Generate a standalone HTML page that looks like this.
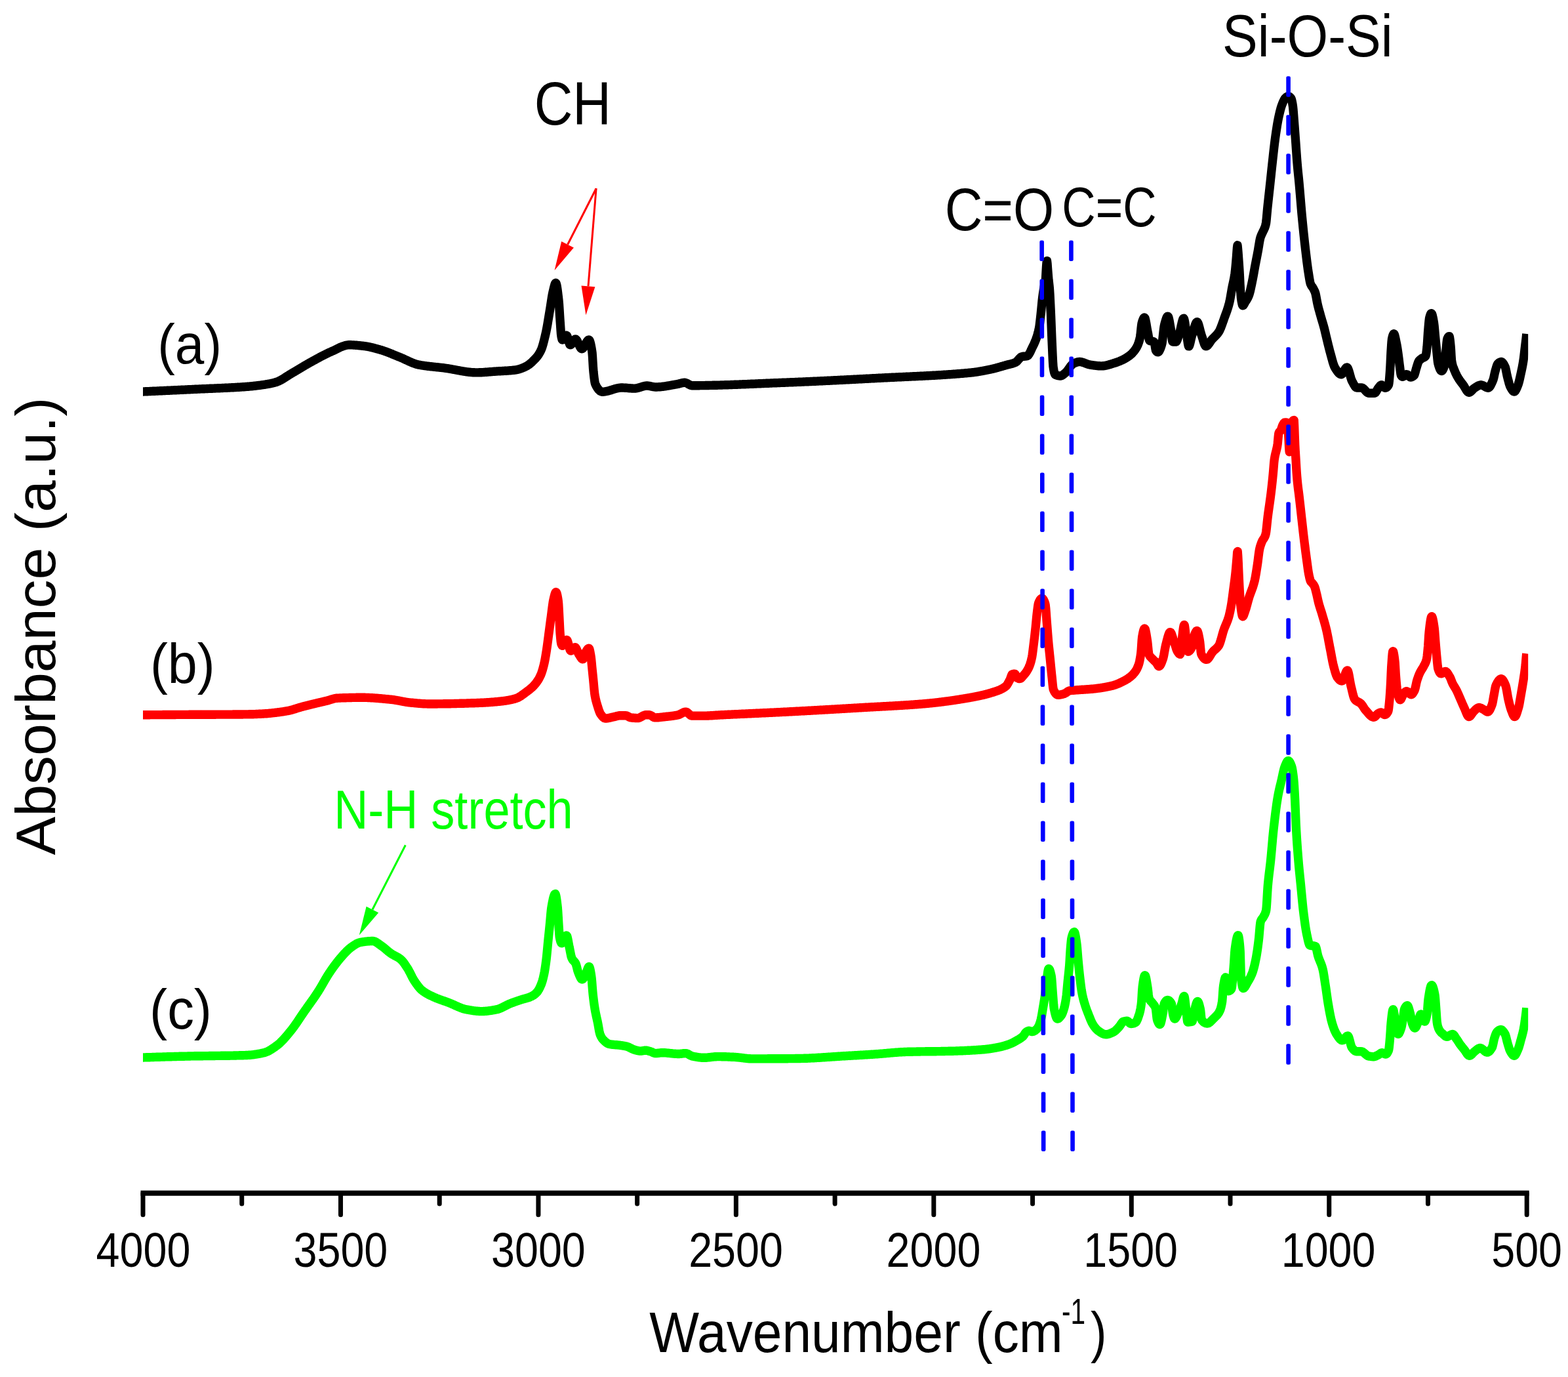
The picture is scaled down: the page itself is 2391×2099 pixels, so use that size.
<!DOCTYPE html>
<html lang="en">
<head>
<meta charset="utf-8">
<title>FTIR spectra</title>
<style>
html,body{margin:0;padding:0;background:#fff;}
body{width:2391px;height:2099px;overflow:hidden;}
</style>
</head>
<body>
<svg width="2391" height="2099" viewBox="0 0 2391 2099" font-family='"Liberation Sans", Arial, Helvetica, sans-serif' style="display:block">
<defs><clipPath id="plot"><rect x="218" y="0" width="2112.2" height="1800"/></clipPath></defs>
<path d="M208.2 1089.7 L218.2 1089.7 L218.7 1089.7 L219.2 1089.7 L219.7 1089.7 L220.2 1089.7 L220.7 1089.7 L221.2 1089.7 L221.7 1089.7 L222.2 1089.7 L222.7 1089.7 L223.2 1089.7 L223.7 1089.7 L224.2 1089.7 L224.7 1089.7 L225.2 1089.7 L225.7 1089.7 L226.2 1089.7 L226.7 1089.7 L227.2 1089.7 L227.7 1089.7 L228.2 1089.7 L228.7 1089.6 L229.2 1089.6 L229.7 1089.6 L230.2 1089.6 L230.7 1089.6 L231.2 1089.6 L231.7 1089.6 L232.2 1089.6 L232.7 1089.6 L233.2 1089.6 L233.7 1089.6 L234.2 1089.6 L234.7 1089.6 L235.2 1089.6 L235.7 1089.6 L236.2 1089.6 L236.7 1089.6 L237.2 1089.6 L237.7 1089.6 L238.2 1089.6 L238.7 1089.6 L239.2 1089.6 L239.7 1089.6 L240.2 1089.6 L240.7 1089.6 L241.2 1089.6 L241.7 1089.6 L242.2 1089.6 L242.7 1089.6 L243.2 1089.6 L243.7 1089.6 L244.2 1089.6 L244.7 1089.6 L245.2 1089.6 L245.7 1089.6 L246.2 1089.6 L246.7 1089.6 L247.2 1089.6 L247.7 1089.6 L248.2 1089.5 L248.7 1089.5 L249.2 1089.5 L249.7 1089.5 L250.2 1089.5 L250.7 1089.5 L251.2 1089.5 L251.7 1089.5 L252.2 1089.5 L252.7 1089.5 L253.2 1089.5 L253.7 1089.5 L254.2 1089.5 L254.7 1089.5 L255.2 1089.5 L255.7 1089.5 L256.2 1089.5 L256.7 1089.5 L257.2 1089.5 L257.7 1089.5 L258.2 1089.5 L258.7 1089.5 L259.2 1089.5 L259.7 1089.5 L260.2 1089.5 L260.7 1089.5 L261.2 1089.5 L261.7 1089.5 L262.2 1089.5 L262.7 1089.5 L263.2 1089.5 L263.7 1089.5 L264.2 1089.5 L264.7 1089.5 L265.2 1089.5 L265.7 1089.5 L266.2 1089.5 L266.7 1089.5 L267.2 1089.5 L267.7 1089.5 L268.2 1089.4 L268.7 1089.4 L269.2 1089.4 L269.7 1089.4 L270.2 1089.4 L270.7 1089.4 L271.2 1089.4 L271.7 1089.4 L272.2 1089.4 L272.7 1089.4 L273.2 1089.4 L273.7 1089.4 L274.2 1089.4 L274.7 1089.4 L275.2 1089.4 L275.7 1089.4 L276.2 1089.4 L276.7 1089.4 L277.2 1089.4 L277.7 1089.4 L278.2 1089.4 L278.7 1089.4 L279.2 1089.4 L279.7 1089.4 L280.2 1089.4 L280.7 1089.4 L281.2 1089.4 L281.7 1089.4 L282.2 1089.4 L282.7 1089.4 L283.2 1089.4 L283.7 1089.4 L284.2 1089.4 L284.7 1089.4 L285.2 1089.4 L285.7 1089.4 L286.2 1089.4 L286.7 1089.4 L287.2 1089.4 L287.7 1089.4 L288.2 1089.3 L288.7 1089.3 L289.2 1089.3 L289.7 1089.3 L290.2 1089.3 L290.7 1089.3 L291.2 1089.3 L291.7 1089.3 L292.2 1089.3 L292.7 1089.3 L293.2 1089.3 L293.7 1089.3 L294.2 1089.3 L294.7 1089.3 L295.2 1089.3 L295.7 1089.3 L296.2 1089.3 L296.7 1089.3 L297.2 1089.3 L297.7 1089.3 L298.2 1089.3 L298.7 1089.3 L299.2 1089.3 L299.7 1089.3 L300.2 1089.3 L300.7 1089.3 L301.2 1089.3 L301.7 1089.3 L302.2 1089.3 L302.7 1089.3 L303.2 1089.3 L303.7 1089.3 L304.2 1089.3 L304.7 1089.3 L305.2 1089.3 L305.7 1089.3 L306.2 1089.3 L306.7 1089.3 L307.2 1089.3 L307.7 1089.2 L308.2 1089.2 L308.7 1089.2 L309.2 1089.2 L309.7 1089.2 L310.2 1089.2 L310.7 1089.2 L311.2 1089.2 L311.7 1089.2 L312.2 1089.2 L312.7 1089.2 L313.2 1089.2 L313.7 1089.2 L314.2 1089.2 L314.7 1089.2 L315.2 1089.2 L315.7 1089.2 L316.2 1089.2 L316.7 1089.2 L317.2 1089.2 L317.7 1089.2 L318.2 1089.2 L318.7 1089.2 L319.2 1089.2 L319.7 1089.2 L320.2 1089.2 L320.7 1089.2 L321.2 1089.2 L321.7 1089.2 L322.2 1089.2 L322.7 1089.2 L323.2 1089.2 L323.7 1089.2 L324.2 1089.2 L324.7 1089.2 L325.2 1089.2 L325.7 1089.2 L326.2 1089.2 L326.7 1089.2 L327.2 1089.2 L327.7 1089.2 L328.2 1089.2 L328.7 1089.2 L329.2 1089.1 L329.7 1089.1 L330.2 1089.1 L330.7 1089.1 L331.2 1089.1 L331.7 1089.1 L332.2 1089.1 L332.7 1089.1 L333.2 1089.1 L333.7 1089.1 L334.2 1089.1 L334.7 1089.1 L335.2 1089.1 L335.7 1089.1 L336.2 1089.1 L336.7 1089.1 L337.2 1089.1 L337.7 1089.1 L338.2 1089.1 L338.7 1089.1 L339.2 1089.1 L339.7 1089.1 L340.2 1089.1 L340.7 1089.1 L341.2 1089.1 L341.7 1089.1 L342.2 1089.1 L342.7 1089.1 L343.2 1089.1 L343.7 1089.1 L344.2 1089.1 L344.7 1089.1 L345.2 1089.1 L345.7 1089.1 L346.2 1089.1 L346.7 1089.1 L347.2 1089.1 L347.7 1089.1 L348.2 1089.1 L348.7 1089.1 L349.2 1089.1 L349.7 1089.1 L350.2 1089.1 L350.7 1089.1 L351.2 1089.1 L351.7 1089.1 L352.2 1089.1 L352.7 1089.1 L353.2 1089.1 L353.7 1089.1 L354.2 1089.1 L354.7 1089.1 L355.2 1089.0 L355.7 1089.0 L356.2 1089.0 L356.7 1089.0 L357.2 1089.0 L357.7 1089.0 L358.2 1089.0 L358.7 1089.0 L359.2 1089.0 L359.7 1089.0 L360.2 1089.0 L360.7 1089.0 L361.2 1089.0 L361.7 1089.0 L362.2 1089.0 L362.7 1089.0 L363.2 1089.0 L363.7 1089.0 L364.2 1089.0 L364.7 1089.0 L365.2 1089.0 L365.7 1089.0 L366.2 1089.0 L366.7 1089.0 L367.2 1089.0 L367.7 1089.0 L368.2 1089.0 L368.7 1089.0 L369.2 1089.0 L369.7 1089.0 L370.2 1089.0 L370.7 1088.9 L371.2 1088.9 L371.7 1088.9 L372.2 1088.9 L372.7 1088.9 L373.2 1088.9 L373.7 1088.9 L374.2 1088.9 L374.7 1088.9 L375.2 1088.9 L375.7 1088.9 L376.2 1088.9 L376.7 1088.9 L377.2 1088.9 L377.7 1088.9 L378.2 1088.9 L378.7 1088.9 L379.2 1088.9 L379.7 1088.8 L380.2 1088.8 L380.7 1088.8 L381.2 1088.8 L381.7 1088.8 L382.2 1088.8 L382.7 1088.8 L383.2 1088.8 L383.7 1088.8 L384.2 1088.7 L384.7 1088.7 L385.2 1088.7 L385.7 1088.7 L386.2 1088.7 L386.7 1088.7 L387.2 1088.6 L387.7 1088.6 L388.2 1088.6 L388.7 1088.6 L389.2 1088.6 L389.7 1088.6 L390.2 1088.5 L390.7 1088.5 L391.2 1088.5 L391.7 1088.5 L392.2 1088.5 L392.7 1088.4 L393.2 1088.4 L393.7 1088.4 L394.2 1088.4 L394.7 1088.3 L395.2 1088.3 L395.7 1088.3 L396.2 1088.3 L396.7 1088.2 L397.2 1088.2 L397.7 1088.2 L398.2 1088.2 L398.7 1088.1 L399.2 1088.1 L399.7 1088.1 L400.2 1088.1 L400.7 1088.0 L401.2 1088.0 L401.7 1088.0 L402.2 1088.0 L402.7 1087.9 L403.2 1087.9 L403.7 1087.9 L404.2 1087.8 L404.7 1087.8 L405.2 1087.8 L405.7 1087.8 L406.2 1087.7 L406.7 1087.7 L407.2 1087.7 L407.7 1087.6 L408.2 1087.6 L408.7 1087.5 L409.2 1087.5 L409.7 1087.4 L410.2 1087.4 L410.7 1087.3 L411.2 1087.3 L411.7 1087.2 L412.2 1087.2 L412.7 1087.1 L413.2 1087.1 L413.7 1087.0 L414.2 1087.0 L414.7 1086.9 L415.2 1086.9 L415.7 1086.8 L416.2 1086.8 L416.7 1086.7 L417.2 1086.6 L417.7 1086.6 L418.2 1086.5 L418.7 1086.5 L419.2 1086.4 L419.7 1086.3 L420.2 1086.3 L420.7 1086.2 L421.2 1086.2 L421.7 1086.1 L422.2 1086.0 L422.7 1086.0 L423.2 1085.9 L423.7 1085.8 L424.2 1085.8 L424.7 1085.7 L425.2 1085.7 L425.7 1085.6 L426.2 1085.5 L426.7 1085.5 L427.2 1085.4 L427.7 1085.3 L428.2 1085.3 L428.7 1085.2 L429.2 1085.1 L429.7 1085.0 L430.2 1085.0 L430.7 1084.9 L431.2 1084.8 L431.7 1084.7 L432.2 1084.7 L432.7 1084.6 L433.2 1084.5 L433.7 1084.4 L434.2 1084.3 L434.7 1084.3 L435.2 1084.2 L435.7 1084.1 L436.2 1084.0 L436.7 1083.9 L437.2 1083.8 L437.7 1083.7 L438.2 1083.6 L438.7 1083.6 L439.2 1083.5 L439.7 1083.4 L440.2 1083.3 L440.7 1083.2 L441.2 1083.0 L441.7 1082.9 L442.2 1082.8 L442.7 1082.7 L443.2 1082.6 L443.7 1082.4 L444.2 1082.3 L444.7 1082.2 L445.2 1082.0 L445.7 1081.9 L446.2 1081.7 L446.7 1081.6 L447.2 1081.4 L447.7 1081.3 L448.2 1081.1 L448.7 1081.0 L449.2 1080.8 L449.7 1080.7 L450.2 1080.5 L450.7 1080.3 L451.2 1080.2 L451.7 1080.0 L452.2 1079.9 L452.7 1079.7 L453.2 1079.5 L453.7 1079.4 L454.2 1079.2 L454.7 1079.1 L455.2 1078.9 L455.7 1078.8 L456.2 1078.6 L456.7 1078.5 L457.2 1078.3 L457.7 1078.2 L458.2 1078.0 L458.7 1077.9 L459.2 1077.7 L459.7 1077.6 L460.2 1077.5 L460.7 1077.3 L461.2 1077.2 L461.7 1077.1 L462.2 1076.9 L462.7 1076.8 L463.2 1076.7 L463.7 1076.6 L464.2 1076.4 L464.7 1076.3 L465.2 1076.2 L465.7 1076.0 L466.2 1075.9 L466.7 1075.8 L467.2 1075.7 L467.7 1075.5 L468.2 1075.4 L468.7 1075.3 L469.2 1075.2 L469.7 1075.0 L470.2 1074.9 L470.7 1074.8 L471.2 1074.7 L471.7 1074.5 L472.2 1074.4 L472.7 1074.3 L473.2 1074.2 L473.7 1074.1 L474.2 1073.9 L474.7 1073.8 L475.2 1073.7 L475.7 1073.6 L476.2 1073.4 L476.7 1073.3 L477.2 1073.2 L477.7 1073.1 L478.2 1073.0 L478.7 1072.8 L479.2 1072.7 L479.7 1072.6 L480.2 1072.5 L480.7 1072.3 L481.2 1072.2 L481.7 1072.1 L482.2 1072.0 L482.7 1071.9 L483.2 1071.8 L483.7 1071.6 L484.2 1071.5 L484.7 1071.4 L485.2 1071.3 L485.7 1071.2 L486.2 1071.1 L486.7 1070.9 L487.2 1070.8 L487.7 1070.7 L488.2 1070.6 L488.7 1070.5 L489.2 1070.4 L489.7 1070.2 L490.2 1070.1 L490.7 1070.0 L491.2 1069.9 L491.7 1069.8 L492.2 1069.7 L492.7 1069.5 L493.2 1069.4 L493.7 1069.3 L494.2 1069.2 L494.7 1069.1 L495.2 1068.9 L495.7 1068.8 L496.2 1068.7 L496.7 1068.6 L497.2 1068.5 L497.7 1068.3 L498.2 1068.2 L498.7 1068.1 L499.2 1068.0 L499.7 1067.8 L500.2 1067.7 L500.7 1067.5 L501.2 1067.4 L501.7 1067.2 L502.2 1067.1 L502.7 1066.9 L503.2 1066.8 L503.7 1066.6 L504.2 1066.4 L504.7 1066.3 L505.2 1066.1 L505.7 1066.0 L506.2 1065.8 L506.7 1065.7 L507.2 1065.5 L507.7 1065.4 L508.2 1065.2 L508.7 1065.1 L509.2 1065.0 L509.7 1064.9 L510.2 1064.7 L510.7 1064.6 L511.2 1064.5 L511.7 1064.5 L512.2 1064.4 L512.7 1064.3 L513.2 1064.3 L513.7 1064.2 L514.2 1064.2 L514.7 1064.2 L515.2 1064.1 L515.7 1064.1 L516.2 1064.1 L516.7 1064.1 L517.2 1064.1 L517.7 1064.0 L518.2 1064.0 L518.7 1064.0 L519.2 1064.0 L519.7 1063.9 L520.2 1063.9 L520.7 1063.9 L521.2 1063.9 L521.7 1063.9 L522.2 1063.9 L522.7 1063.8 L523.2 1063.8 L523.7 1063.8 L524.2 1063.8 L524.7 1063.8 L525.2 1063.7 L525.7 1063.7 L526.2 1063.7 L526.7 1063.7 L527.2 1063.7 L527.7 1063.7 L528.2 1063.6 L528.7 1063.6 L529.2 1063.6 L529.7 1063.6 L530.2 1063.6 L530.7 1063.6 L531.2 1063.6 L531.7 1063.6 L532.2 1063.5 L532.7 1063.5 L533.2 1063.5 L533.7 1063.5 L534.2 1063.5 L534.7 1063.5 L535.2 1063.5 L535.7 1063.5 L536.2 1063.5 L536.7 1063.4 L537.2 1063.4 L537.7 1063.4 L538.2 1063.4 L538.7 1063.4 L539.2 1063.4 L539.7 1063.4 L540.2 1063.4 L540.7 1063.4 L541.2 1063.4 L541.7 1063.4 L542.2 1063.4 L542.7 1063.4 L543.2 1063.3 L543.7 1063.3 L544.2 1063.3 L544.7 1063.3 L545.2 1063.3 L545.7 1063.3 L546.2 1063.3 L546.7 1063.3 L547.2 1063.3 L547.7 1063.3 L548.2 1063.3 L548.7 1063.3 L549.2 1063.3 L549.7 1063.3 L550.2 1063.3 L550.7 1063.3 L551.2 1063.3 L551.7 1063.3 L552.2 1063.3 L552.7 1063.3 L553.2 1063.3 L553.7 1063.3 L554.2 1063.3 L554.7 1063.3 L555.2 1063.3 L555.7 1063.3 L556.2 1063.3 L556.7 1063.3 L557.2 1063.4 L557.7 1063.4 L558.2 1063.4 L558.7 1063.4 L559.2 1063.4 L559.7 1063.4 L560.2 1063.4 L560.7 1063.5 L561.2 1063.5 L561.7 1063.5 L562.2 1063.5 L562.7 1063.5 L563.2 1063.6 L563.7 1063.6 L564.2 1063.6 L564.7 1063.6 L565.2 1063.7 L565.7 1063.7 L566.2 1063.7 L566.7 1063.7 L567.2 1063.8 L567.7 1063.8 L568.2 1063.8 L568.7 1063.9 L569.2 1063.9 L569.7 1063.9 L570.2 1064.0 L570.7 1064.0 L571.2 1064.0 L571.7 1064.1 L572.2 1064.1 L572.7 1064.1 L573.2 1064.2 L573.7 1064.2 L574.2 1064.3 L574.7 1064.3 L575.2 1064.3 L575.7 1064.4 L576.2 1064.4 L576.7 1064.5 L577.2 1064.5 L577.7 1064.5 L578.2 1064.6 L578.7 1064.6 L579.2 1064.7 L579.7 1064.7 L580.2 1064.8 L580.7 1064.8 L581.2 1064.8 L581.7 1064.9 L582.2 1064.9 L582.7 1065.0 L583.2 1065.0 L583.7 1065.1 L584.2 1065.1 L584.7 1065.2 L585.2 1065.2 L585.7 1065.3 L586.2 1065.3 L586.7 1065.4 L587.2 1065.4 L587.7 1065.5 L588.2 1065.5 L588.7 1065.6 L589.2 1065.6 L589.7 1065.6 L590.2 1065.7 L590.7 1065.7 L591.2 1065.8 L591.7 1065.8 L592.2 1065.9 L592.7 1065.9 L593.2 1066.0 L593.7 1066.0 L594.2 1066.1 L594.7 1066.1 L595.2 1066.2 L595.7 1066.2 L596.2 1066.3 L596.7 1066.3 L597.2 1066.4 L597.7 1066.4 L598.2 1066.5 L598.7 1066.6 L599.2 1066.6 L599.7 1066.7 L600.2 1066.8 L600.7 1066.8 L601.2 1066.9 L601.7 1067.0 L602.2 1067.1 L602.7 1067.2 L603.2 1067.2 L603.7 1067.3 L604.2 1067.4 L604.7 1067.5 L605.2 1067.6 L605.7 1067.7 L606.2 1067.8 L606.7 1067.9 L607.2 1067.9 L607.7 1068.0 L608.2 1068.1 L608.7 1068.2 L609.2 1068.3 L609.7 1068.4 L610.2 1068.5 L610.7 1068.6 L611.2 1068.7 L611.7 1068.8 L612.2 1068.9 L612.7 1069.0 L613.2 1069.1 L613.7 1069.2 L614.2 1069.3 L614.7 1069.4 L615.2 1069.5 L615.7 1069.6 L616.2 1069.6 L616.7 1069.7 L617.2 1069.8 L617.7 1069.9 L618.2 1070.0 L618.7 1070.1 L619.2 1070.2 L619.7 1070.2 L620.2 1070.3 L620.7 1070.4 L621.2 1070.5 L621.7 1070.5 L622.2 1070.6 L622.7 1070.7 L623.2 1070.7 L623.7 1070.8 L624.2 1070.9 L624.7 1070.9 L625.2 1071.0 L625.7 1071.0 L626.2 1071.1 L626.7 1071.1 L627.2 1071.2 L627.7 1071.2 L628.2 1071.3 L628.7 1071.3 L629.2 1071.3 L629.7 1071.4 L630.2 1071.4 L630.7 1071.5 L631.2 1071.5 L631.7 1071.6 L632.2 1071.6 L632.7 1071.7 L633.2 1071.7 L633.7 1071.8 L634.2 1071.8 L634.7 1071.9 L635.2 1071.9 L635.7 1072.0 L636.2 1072.0 L636.7 1072.1 L637.2 1072.1 L637.7 1072.1 L638.2 1072.2 L638.7 1072.2 L639.2 1072.3 L639.7 1072.3 L640.2 1072.3 L640.7 1072.4 L641.2 1072.4 L641.7 1072.5 L642.2 1072.5 L642.7 1072.5 L643.2 1072.6 L643.7 1072.6 L644.2 1072.6 L644.7 1072.7 L645.2 1072.7 L645.7 1072.7 L646.2 1072.7 L646.7 1072.8 L647.2 1072.8 L647.7 1072.8 L648.2 1072.8 L648.7 1072.9 L649.2 1072.9 L649.7 1072.9 L650.2 1072.9 L650.7 1072.9 L651.2 1072.9 L651.7 1073.0 L652.2 1073.0 L652.7 1073.0 L653.2 1073.0 L653.7 1073.0 L654.2 1073.0 L654.7 1073.0 L655.2 1073.0 L655.7 1073.0 L656.2 1073.0 L656.7 1073.0 L657.2 1073.0 L657.7 1073.0 L658.2 1073.0 L658.7 1073.0 L659.2 1073.0 L659.7 1073.0 L660.2 1073.0 L660.7 1073.0 L661.2 1073.0 L661.7 1073.0 L662.2 1073.0 L662.7 1073.0 L663.2 1073.0 L663.7 1073.0 L664.2 1073.0 L664.7 1073.0 L665.2 1073.0 L665.7 1073.0 L666.2 1073.0 L666.7 1073.0 L667.2 1072.9 L667.7 1072.9 L668.2 1072.9 L668.7 1072.9 L669.2 1072.9 L669.7 1072.9 L670.2 1072.9 L670.7 1072.9 L671.2 1072.9 L671.7 1072.9 L672.2 1072.9 L672.7 1072.9 L673.2 1072.9 L673.7 1072.9 L674.2 1072.9 L674.7 1072.9 L675.2 1072.9 L675.7 1072.9 L676.2 1072.8 L676.7 1072.8 L677.2 1072.8 L677.7 1072.8 L678.2 1072.8 L678.7 1072.8 L679.2 1072.8 L679.7 1072.8 L680.2 1072.8 L680.7 1072.8 L681.2 1072.8 L681.7 1072.8 L682.2 1072.8 L682.7 1072.7 L683.2 1072.7 L683.7 1072.7 L684.2 1072.7 L684.7 1072.7 L685.2 1072.7 L685.7 1072.7 L686.2 1072.7 L686.7 1072.7 L687.2 1072.7 L687.7 1072.6 L688.2 1072.6 L688.7 1072.6 L689.2 1072.6 L689.7 1072.6 L690.2 1072.6 L690.7 1072.6 L691.2 1072.6 L691.7 1072.6 L692.2 1072.6 L692.7 1072.5 L693.2 1072.5 L693.7 1072.5 L694.2 1072.5 L694.7 1072.5 L695.2 1072.5 L695.7 1072.5 L696.2 1072.5 L696.7 1072.4 L697.2 1072.4 L697.7 1072.4 L698.2 1072.4 L698.7 1072.4 L699.2 1072.4 L699.7 1072.4 L700.2 1072.4 L700.7 1072.3 L701.2 1072.3 L701.7 1072.3 L702.2 1072.3 L702.7 1072.3 L703.2 1072.3 L703.7 1072.3 L704.2 1072.3 L704.7 1072.2 L705.2 1072.2 L705.7 1072.2 L706.2 1072.2 L706.7 1072.2 L707.2 1072.2 L707.7 1072.2 L708.2 1072.1 L708.7 1072.1 L709.2 1072.1 L709.7 1072.1 L710.2 1072.1 L710.7 1072.1 L711.2 1072.1 L711.7 1072.0 L712.2 1072.0 L712.7 1072.0 L713.2 1072.0 L713.7 1072.0 L714.2 1072.0 L714.7 1071.9 L715.2 1071.9 L715.7 1071.9 L716.2 1071.9 L716.7 1071.9 L717.2 1071.9 L717.7 1071.9 L718.2 1071.8 L718.7 1071.8 L719.2 1071.8 L719.7 1071.8 L720.2 1071.8 L720.7 1071.8 L721.2 1071.7 L721.7 1071.7 L722.2 1071.7 L722.7 1071.7 L723.2 1071.7 L723.7 1071.7 L724.2 1071.6 L724.7 1071.6 L725.2 1071.6 L725.7 1071.6 L726.2 1071.6 L726.7 1071.6 L727.2 1071.5 L727.7 1071.5 L728.2 1071.5 L728.7 1071.5 L729.2 1071.5 L729.7 1071.5 L730.2 1071.4 L730.7 1071.4 L731.2 1071.4 L731.7 1071.4 L732.2 1071.4 L732.7 1071.3 L733.2 1071.3 L733.7 1071.3 L734.2 1071.3 L734.7 1071.2 L735.2 1071.2 L735.7 1071.2 L736.2 1071.2 L736.7 1071.1 L737.2 1071.1 L737.7 1071.1 L738.2 1071.1 L738.7 1071.0 L739.2 1071.0 L739.7 1071.0 L740.2 1071.0 L740.7 1070.9 L741.2 1070.9 L741.7 1070.9 L742.2 1070.8 L742.7 1070.8 L743.2 1070.8 L743.7 1070.7 L744.2 1070.7 L744.7 1070.7 L745.2 1070.6 L745.7 1070.6 L746.2 1070.6 L746.7 1070.5 L747.2 1070.5 L747.7 1070.5 L748.2 1070.4 L748.7 1070.4 L749.2 1070.3 L749.7 1070.3 L750.2 1070.3 L750.7 1070.2 L751.2 1070.2 L751.7 1070.1 L752.2 1070.1 L752.7 1070.1 L753.2 1070.0 L753.7 1070.0 L754.2 1069.9 L754.7 1069.9 L755.2 1069.8 L755.7 1069.8 L756.2 1069.8 L756.7 1069.7 L757.2 1069.7 L757.7 1069.6 L758.2 1069.6 L758.7 1069.5 L759.2 1069.5 L759.7 1069.4 L760.2 1069.4 L760.7 1069.3 L761.2 1069.3 L761.7 1069.2 L762.2 1069.2 L762.7 1069.1 L763.2 1069.1 L763.7 1069.0 L764.2 1068.9 L764.7 1068.9 L765.2 1068.8 L765.7 1068.8 L766.2 1068.7 L766.7 1068.7 L767.2 1068.6 L767.7 1068.5 L768.2 1068.5 L768.7 1068.4 L769.2 1068.4 L769.7 1068.3 L770.2 1068.2 L770.7 1068.1 L771.2 1068.1 L771.7 1068.0 L772.2 1067.9 L772.7 1067.8 L773.2 1067.8 L773.7 1067.7 L774.2 1067.6 L774.7 1067.5 L775.2 1067.4 L775.7 1067.3 L776.2 1067.2 L776.7 1067.1 L777.2 1067.0 L777.7 1066.9 L778.2 1066.8 L778.7 1066.7 L779.2 1066.6 L779.7 1066.5 L780.2 1066.4 L780.7 1066.2 L781.2 1066.1 L781.7 1066.0 L782.2 1065.9 L782.7 1065.7 L783.2 1065.6 L783.7 1065.5 L784.2 1065.3 L784.7 1065.2 L785.2 1065.0 L785.7 1064.9 L786.2 1064.7 L786.7 1064.6 L787.2 1064.4 L787.7 1064.3 L788.2 1064.1 L788.7 1063.9 L789.2 1063.7 L789.7 1063.5 L790.2 1063.2 L790.7 1063.0 L791.2 1062.7 L791.7 1062.4 L792.2 1062.1 L792.7 1061.8 L793.2 1061.5 L793.7 1061.2 L794.2 1060.9 L794.7 1060.5 L795.2 1060.2 L795.7 1059.8 L796.2 1059.5 L796.7 1059.1 L797.2 1058.8 L797.7 1058.4 L798.2 1058.0 L798.7 1057.7 L799.2 1057.3 L799.7 1056.9 L800.2 1056.5 L800.7 1056.2 L801.2 1055.8 L801.7 1055.4 L802.2 1055.1 L802.7 1054.7 L803.2 1054.3 L803.7 1054.0 L804.2 1053.6 L804.7 1053.2 L805.2 1052.8 L805.7 1052.5 L806.2 1052.1 L806.7 1051.7 L807.2 1051.3 L807.7 1050.9 L808.2 1050.5 L808.7 1050.1 L809.2 1049.6 L809.7 1049.2 L810.2 1048.8 L810.7 1048.3 L811.2 1047.9 L811.7 1047.4 L812.2 1046.9 L812.7 1046.4 L813.2 1045.9 L813.7 1045.4 L814.2 1044.9 L814.7 1044.3 L815.2 1043.8 L815.7 1043.2 L816.2 1042.6 L816.7 1042.0 L817.2 1041.4 L817.7 1040.7 L818.2 1040.1 L818.7 1039.4 L819.2 1038.7 L819.7 1037.9 L820.2 1037.2 L820.7 1036.4 L821.2 1035.5 L821.7 1034.7 L822.2 1033.8 L822.7 1032.8 L823.2 1031.8 L823.7 1030.8 L824.2 1029.8 L824.7 1028.6 L825.2 1027.4 L825.7 1026.1 L826.2 1024.6 L826.7 1023.1 L827.2 1021.5 L827.7 1019.7 L828.2 1017.9 L828.7 1016.0 L829.2 1014.0 L829.7 1011.9 L830.2 1009.7 L830.7 1007.3 L831.2 1004.7 L831.7 1001.9 L832.2 998.9 L832.7 995.9 L833.2 992.7 L833.7 989.5 L834.2 986.0 L834.7 982.4 L835.2 978.6 L835.7 974.8 L836.2 971.0 L836.7 967.2 L837.2 963.5 L837.7 959.7 L838.2 955.9 L838.7 952.1 L839.2 948.2 L839.7 944.5 L840.2 940.8 L840.7 937.1 L841.2 933.2 L841.7 929.2 L842.2 925.3 L842.7 921.6 L843.2 918.3 L843.7 915.5 L844.2 913.3 L844.7 911.1 L845.2 909.0 L845.7 907.0 L846.2 905.3 L846.7 904.0 L847.2 903.0 L847.7 902.6 L848.2 902.8 L848.7 903.7 L849.2 905.1 L849.7 907.1 L850.2 909.6 L850.7 912.5 L851.2 915.7 L851.7 920.9 L852.2 929.8 L852.7 939.3 L853.2 949.2 L853.7 959.4 L854.2 966.9 L854.7 972.7 L855.2 977.5 L855.7 980.8 L856.2 982.3 L856.7 983.3 L857.2 984.0 L857.7 984.2 L858.2 984.0 L858.7 983.5 L859.2 982.9 L859.7 982.1 L860.2 981.2 L860.7 980.2 L861.2 979.2 L861.7 978.2 L862.2 977.3 L862.7 976.6 L863.2 975.9 L863.7 975.5 L864.2 975.4 L864.7 975.7 L865.2 976.6 L865.7 977.9 L866.2 979.6 L866.7 981.5 L867.2 983.5 L867.7 985.6 L868.2 987.5 L868.7 989.3 L869.2 990.7 L869.7 991.6 L870.2 992.1 L870.7 992.0 L871.2 991.8 L871.7 991.5 L872.2 991.1 L872.7 990.5 L873.2 990.0 L873.7 989.4 L874.2 988.8 L874.7 988.2 L875.2 987.7 L875.7 987.3 L876.2 987.0 L876.7 986.8 L877.2 986.8 L877.7 987.1 L878.2 987.7 L878.7 988.5 L879.2 989.5 L879.7 990.7 L880.2 991.9 L880.7 993.2 L881.2 994.4 L881.7 995.5 L882.2 996.6 L882.7 997.4 L883.2 998.2 L883.7 999.0 L884.2 999.8 L884.7 1000.6 L885.2 1001.4 L885.7 1002.2 L886.2 1002.9 L886.7 1003.5 L887.2 1004.1 L887.7 1004.5 L888.2 1004.8 L888.7 1004.9 L889.2 1004.7 L889.7 1003.9 L890.2 1002.7 L890.7 1001.2 L891.2 999.5 L891.7 997.8 L892.2 996.2 L892.7 994.8 L893.2 993.8 L893.7 993.0 L894.2 992.2 L894.7 991.4 L895.2 990.6 L895.7 989.9 L896.2 989.3 L896.7 988.8 L897.2 988.4 L897.7 988.2 L898.2 988.3 L898.7 989.1 L899.2 990.7 L899.7 992.9 L900.2 995.6 L900.7 998.5 L901.2 1001.5 L901.7 1005.8 L902.2 1011.0 L902.7 1016.5 L903.2 1021.4 L903.7 1026.3 L904.2 1031.2 L904.7 1036.1 L905.2 1041.4 L905.7 1047.0 L906.2 1052.3 L906.7 1056.9 L907.2 1060.2 L907.7 1062.9 L908.2 1065.3 L908.7 1067.5 L909.2 1069.4 L909.7 1071.2 L910.2 1072.9 L910.7 1074.6 L911.2 1076.2 L911.7 1077.8 L912.2 1079.4 L912.7 1081.0 L913.2 1082.5 L913.7 1083.9 L914.2 1085.2 L914.7 1086.4 L915.2 1087.4 L915.7 1088.3 L916.2 1089.0 L916.7 1089.7 L917.2 1090.4 L917.7 1091.0 L918.2 1091.6 L918.7 1092.2 L919.2 1092.7 L919.7 1093.2 L920.2 1093.7 L920.7 1094.1 L921.2 1094.4 L921.7 1094.7 L922.2 1094.9 L922.7 1095.1 L923.2 1095.1 L923.7 1095.1 L924.2 1095.1 L924.7 1095.0 L925.2 1095.0 L925.7 1094.9 L926.2 1094.9 L926.7 1094.8 L927.2 1094.7 L927.7 1094.6 L928.2 1094.5 L928.7 1094.4 L929.2 1094.3 L929.7 1094.2 L930.2 1094.0 L930.7 1093.9 L931.2 1093.8 L931.7 1093.7 L932.2 1093.5 L932.7 1093.4 L933.2 1093.3 L933.7 1093.2 L934.2 1093.1 L934.7 1093.0 L935.2 1092.9 L935.7 1092.8 L936.2 1092.7 L936.7 1092.5 L937.2 1092.4 L937.7 1092.3 L938.2 1092.2 L938.7 1092.0 L939.2 1091.9 L939.7 1091.8 L940.2 1091.6 L940.7 1091.5 L941.2 1091.4 L941.7 1091.3 L942.2 1091.2 L942.7 1091.1 L943.2 1091.0 L943.7 1090.9 L944.2 1090.8 L944.7 1090.8 L945.2 1090.7 L945.7 1090.7 L946.2 1090.7 L946.7 1090.7 L947.2 1090.7 L947.7 1090.7 L948.2 1090.7 L948.7 1090.7 L949.2 1090.7 L949.7 1090.7 L950.2 1090.7 L950.7 1090.7 L951.2 1090.7 L951.7 1090.7 L952.2 1090.7 L952.7 1090.7 L953.2 1090.7 L953.7 1090.7 L954.2 1090.7 L954.7 1090.8 L955.2 1090.9 L955.7 1091.0 L956.2 1091.3 L956.7 1091.5 L957.2 1091.8 L957.7 1092.0 L958.2 1092.3 L958.7 1092.6 L959.2 1092.9 L959.7 1093.2 L960.2 1093.4 L960.7 1093.6 L961.2 1093.8 L961.7 1093.9 L962.2 1093.9 L962.7 1094.0 L963.2 1094.0 L963.7 1094.1 L964.2 1094.2 L964.7 1094.2 L965.2 1094.2 L965.7 1094.3 L966.2 1094.3 L966.7 1094.4 L967.2 1094.4 L967.7 1094.4 L968.2 1094.5 L968.7 1094.5 L969.2 1094.5 L969.7 1094.5 L970.2 1094.6 L970.7 1094.6 L971.2 1094.6 L971.7 1094.6 L972.2 1094.6 L972.7 1094.6 L973.2 1094.6 L973.7 1094.5 L974.2 1094.4 L974.7 1094.2 L975.2 1094.0 L975.7 1093.8 L976.2 1093.6 L976.7 1093.3 L977.2 1093.0 L977.7 1092.8 L978.2 1092.5 L978.7 1092.2 L979.2 1091.9 L979.7 1091.6 L980.2 1091.3 L980.7 1091.0 L981.2 1090.8 L981.7 1090.6 L982.2 1090.4 L982.7 1090.2 L983.2 1090.0 L983.7 1089.9 L984.2 1089.8 L984.7 1089.8 L985.2 1089.8 L985.7 1089.8 L986.2 1089.8 L986.7 1089.8 L987.2 1089.8 L987.7 1089.8 L988.2 1089.8 L988.7 1089.8 L989.2 1089.8 L989.7 1089.8 L990.2 1089.8 L990.7 1089.9 L991.2 1090.0 L991.7 1090.2 L992.2 1090.4 L992.7 1090.7 L993.2 1091.0 L993.7 1091.3 L994.2 1091.6 L994.7 1092.0 L995.2 1092.3 L995.7 1092.7 L996.2 1093.0 L996.7 1093.3 L997.2 1093.5 L997.7 1093.7 L998.2 1093.8 L998.7 1093.9 L999.2 1093.9 L999.7 1093.9 L1000.2 1093.9 L1000.7 1093.9 L1001.2 1093.9 L1001.7 1093.8 L1002.2 1093.8 L1002.7 1093.8 L1003.2 1093.7 L1003.7 1093.7 L1004.2 1093.7 L1004.7 1093.6 L1005.2 1093.6 L1005.7 1093.5 L1006.2 1093.5 L1006.7 1093.4 L1007.2 1093.4 L1007.7 1093.3 L1008.2 1093.3 L1008.7 1093.2 L1009.2 1093.1 L1009.7 1093.1 L1010.2 1093.0 L1010.7 1093.0 L1011.2 1092.9 L1011.7 1092.8 L1012.2 1092.8 L1012.7 1092.7 L1013.2 1092.7 L1013.7 1092.6 L1014.2 1092.6 L1014.7 1092.5 L1015.2 1092.4 L1015.7 1092.4 L1016.2 1092.3 L1016.7 1092.3 L1017.2 1092.2 L1017.7 1092.2 L1018.2 1092.1 L1018.7 1092.1 L1019.2 1092.0 L1019.7 1092.0 L1020.2 1091.9 L1020.7 1091.9 L1021.2 1091.8 L1021.7 1091.7 L1022.2 1091.7 L1022.7 1091.6 L1023.2 1091.6 L1023.7 1091.5 L1024.2 1091.4 L1024.7 1091.4 L1025.2 1091.3 L1025.7 1091.2 L1026.2 1091.2 L1026.7 1091.1 L1027.2 1091.0 L1027.7 1091.0 L1028.2 1090.9 L1028.7 1090.8 L1029.2 1090.7 L1029.7 1090.6 L1030.2 1090.6 L1030.7 1090.5 L1031.2 1090.4 L1031.7 1090.3 L1032.2 1090.2 L1032.7 1090.1 L1033.2 1090.0 L1033.7 1089.9 L1034.2 1089.8 L1034.7 1089.6 L1035.2 1089.5 L1035.7 1089.3 L1036.2 1089.1 L1036.7 1088.9 L1037.2 1088.6 L1037.7 1088.3 L1038.2 1088.1 L1038.7 1087.8 L1039.2 1087.5 L1039.7 1087.2 L1040.2 1086.9 L1040.7 1086.7 L1041.2 1086.4 L1041.7 1086.2 L1042.2 1085.9 L1042.7 1085.7 L1043.2 1085.5 L1043.7 1085.4 L1044.2 1085.3 L1044.7 1085.2 L1045.2 1085.1 L1045.7 1085.1 L1046.2 1085.2 L1046.7 1085.3 L1047.2 1085.5 L1047.7 1085.8 L1048.2 1086.2 L1048.7 1086.5 L1049.2 1087.0 L1049.7 1087.4 L1050.2 1087.9 L1050.7 1088.3 L1051.2 1088.8 L1051.7 1089.2 L1052.2 1089.7 L1052.7 1090.0 L1053.2 1090.4 L1053.7 1090.7 L1054.2 1090.9 L1054.7 1091.0 L1055.2 1091.1 L1055.7 1091.1 L1056.2 1091.1 L1056.7 1091.1 L1057.2 1091.1 L1057.7 1091.1 L1058.2 1091.1 L1058.7 1091.1 L1059.2 1091.1 L1059.7 1091.1 L1060.2 1091.1 L1060.7 1091.1 L1061.2 1091.1 L1061.7 1091.1 L1062.2 1091.1 L1062.7 1091.1 L1063.2 1091.1 L1063.7 1091.1 L1064.2 1091.1 L1064.7 1091.1 L1065.2 1091.1 L1065.7 1091.1 L1066.2 1091.1 L1066.7 1091.1 L1067.2 1091.1 L1067.7 1091.1 L1068.2 1091.1 L1068.7 1091.1 L1069.2 1091.1 L1069.7 1091.1 L1070.2 1091.1 L1070.7 1091.1 L1071.2 1091.1 L1071.7 1091.1 L1072.2 1091.1 L1072.7 1091.1 L1073.2 1091.1 L1073.7 1091.1 L1074.2 1091.1 L1074.7 1091.1 L1075.2 1091.1 L1075.7 1091.1 L1076.2 1091.1 L1076.7 1091.1 L1077.2 1091.1 L1077.7 1091.1 L1078.2 1091.1 L1078.7 1091.0 L1079.2 1091.0 L1079.7 1091.0 L1080.2 1091.0 L1080.7 1091.0 L1081.2 1090.9 L1081.7 1090.9 L1082.2 1090.9 L1082.7 1090.9 L1083.2 1090.8 L1083.7 1090.8 L1084.2 1090.8 L1084.7 1090.8 L1085.2 1090.7 L1085.7 1090.7 L1086.2 1090.7 L1086.7 1090.6 L1087.2 1090.6 L1087.7 1090.6 L1088.2 1090.5 L1088.7 1090.5 L1089.2 1090.5 L1089.7 1090.4 L1090.2 1090.4 L1090.7 1090.4 L1091.2 1090.3 L1091.7 1090.3 L1092.2 1090.3 L1092.7 1090.2 L1093.2 1090.2 L1093.7 1090.2 L1094.2 1090.1 L1094.7 1090.1 L1095.2 1090.1 L1095.7 1090.0 L1096.2 1090.0 L1096.7 1090.0 L1097.2 1090.0 L1097.7 1089.9 L1098.2 1089.9 L1098.7 1089.9 L1099.2 1089.8 L1099.7 1089.8 L1100.2 1089.8 L1100.7 1089.8 L1101.2 1089.7 L1101.7 1089.7 L1102.2 1089.7 L1102.7 1089.7 L1103.2 1089.6 L1103.7 1089.6 L1104.2 1089.6 L1104.7 1089.6 L1105.2 1089.5 L1105.7 1089.5 L1106.2 1089.5 L1106.7 1089.5 L1107.2 1089.4 L1107.7 1089.4 L1108.2 1089.4 L1108.7 1089.4 L1109.2 1089.4 L1109.7 1089.3 L1110.2 1089.3 L1110.7 1089.3 L1111.2 1089.3 L1111.7 1089.2 L1112.2 1089.2 L1112.7 1089.2 L1113.2 1089.2 L1113.7 1089.1 L1114.2 1089.1 L1114.7 1089.1 L1115.2 1089.1 L1115.7 1089.0 L1116.2 1089.0 L1116.7 1089.0 L1117.2 1089.0 L1117.7 1088.9 L1118.2 1088.9 L1118.7 1088.9 L1119.2 1088.9 L1119.7 1088.9 L1120.2 1088.8 L1120.7 1088.8 L1121.2 1088.8 L1121.7 1088.8 L1122.2 1088.7 L1122.7 1088.7 L1123.2 1088.7 L1123.7 1088.7 L1124.2 1088.6 L1124.7 1088.6 L1125.2 1088.6 L1125.7 1088.6 L1126.2 1088.6 L1126.7 1088.5 L1127.2 1088.5 L1127.7 1088.5 L1128.2 1088.5 L1128.7 1088.4 L1129.2 1088.4 L1129.7 1088.4 L1130.2 1088.4 L1130.7 1088.3 L1131.2 1088.3 L1131.7 1088.3 L1132.2 1088.3 L1132.7 1088.3 L1133.2 1088.2 L1133.7 1088.2 L1134.2 1088.2 L1134.7 1088.2 L1135.2 1088.1 L1135.7 1088.1 L1136.2 1088.1 L1136.7 1088.1 L1137.2 1088.0 L1137.7 1088.0 L1138.2 1088.0 L1138.7 1088.0 L1139.2 1088.0 L1139.7 1087.9 L1140.2 1087.9 L1140.7 1087.9 L1141.2 1087.9 L1141.7 1087.8 L1142.2 1087.8 L1142.7 1087.8 L1143.2 1087.8 L1143.7 1087.7 L1144.2 1087.7 L1144.7 1087.7 L1145.2 1087.7 L1145.7 1087.7 L1146.2 1087.6 L1146.7 1087.6 L1147.2 1087.6 L1147.7 1087.6 L1148.2 1087.5 L1148.7 1087.5 L1149.2 1087.5 L1149.7 1087.5 L1150.2 1087.5 L1150.7 1087.4 L1151.2 1087.4 L1151.7 1087.4 L1152.2 1087.4 L1152.7 1087.3 L1153.2 1087.3 L1153.7 1087.3 L1154.2 1087.3 L1154.7 1087.2 L1155.2 1087.2 L1155.7 1087.2 L1156.2 1087.2 L1156.7 1087.2 L1157.2 1087.1 L1157.7 1087.1 L1158.2 1087.1 L1158.7 1087.1 L1159.2 1087.0 L1159.7 1087.0 L1160.2 1087.0 L1160.7 1087.0 L1161.2 1086.9 L1161.7 1086.9 L1162.2 1086.9 L1162.7 1086.9 L1163.2 1086.9 L1163.7 1086.8 L1164.2 1086.8 L1164.7 1086.8 L1165.2 1086.8 L1165.7 1086.7 L1166.2 1086.7 L1166.7 1086.7 L1167.2 1086.7 L1167.7 1086.6 L1168.2 1086.6 L1168.7 1086.6 L1169.2 1086.6 L1169.7 1086.6 L1170.2 1086.5 L1170.7 1086.5 L1171.2 1086.5 L1171.7 1086.5 L1172.2 1086.4 L1172.7 1086.4 L1173.2 1086.4 L1173.7 1086.4 L1174.2 1086.3 L1174.7 1086.3 L1175.2 1086.3 L1175.7 1086.3 L1176.2 1086.2 L1176.7 1086.2 L1177.2 1086.2 L1177.7 1086.2 L1178.2 1086.1 L1178.7 1086.1 L1179.2 1086.1 L1179.7 1086.1 L1180.2 1086.1 L1180.7 1086.0 L1181.2 1086.0 L1181.7 1086.0 L1182.2 1086.0 L1182.7 1085.9 L1183.2 1085.9 L1183.7 1085.9 L1184.2 1085.9 L1184.7 1085.8 L1185.2 1085.8 L1185.7 1085.8 L1186.2 1085.8 L1186.7 1085.7 L1187.2 1085.7 L1187.7 1085.7 L1188.2 1085.7 L1188.7 1085.6 L1189.2 1085.6 L1189.7 1085.6 L1190.2 1085.6 L1190.7 1085.5 L1191.2 1085.5 L1191.7 1085.5 L1192.2 1085.5 L1192.7 1085.4 L1193.2 1085.4 L1193.7 1085.4 L1194.2 1085.4 L1194.7 1085.3 L1195.2 1085.3 L1195.7 1085.3 L1196.2 1085.3 L1196.7 1085.2 L1197.2 1085.2 L1197.7 1085.2 L1198.2 1085.2 L1198.7 1085.1 L1199.2 1085.1 L1199.7 1085.1 L1200.2 1085.1 L1200.7 1085.0 L1201.2 1085.0 L1201.7 1085.0 L1202.2 1085.0 L1202.7 1084.9 L1203.2 1084.9 L1203.7 1084.9 L1204.2 1084.8 L1204.7 1084.8 L1205.2 1084.8 L1205.7 1084.8 L1206.2 1084.7 L1206.7 1084.7 L1207.2 1084.7 L1207.7 1084.7 L1208.2 1084.6 L1208.7 1084.6 L1209.2 1084.6 L1209.7 1084.6 L1210.2 1084.5 L1210.7 1084.5 L1211.2 1084.5 L1211.7 1084.5 L1212.2 1084.4 L1212.7 1084.4 L1213.2 1084.4 L1213.7 1084.3 L1214.2 1084.3 L1214.7 1084.3 L1215.2 1084.3 L1215.7 1084.2 L1216.2 1084.2 L1216.7 1084.2 L1217.2 1084.2 L1217.7 1084.1 L1218.2 1084.1 L1218.7 1084.1 L1219.2 1084.1 L1219.7 1084.0 L1220.2 1084.0 L1220.7 1084.0 L1221.2 1083.9 L1221.7 1083.9 L1222.2 1083.9 L1222.7 1083.9 L1223.2 1083.8 L1223.7 1083.8 L1224.2 1083.8 L1224.7 1083.8 L1225.2 1083.7 L1225.7 1083.7 L1226.2 1083.7 L1226.7 1083.7 L1227.2 1083.6 L1227.7 1083.6 L1228.2 1083.6 L1228.7 1083.5 L1229.2 1083.5 L1229.7 1083.5 L1230.2 1083.5 L1230.7 1083.4 L1231.2 1083.4 L1231.7 1083.4 L1232.2 1083.3 L1232.7 1083.3 L1233.2 1083.3 L1233.7 1083.3 L1234.2 1083.2 L1234.7 1083.2 L1235.2 1083.2 L1235.7 1083.2 L1236.2 1083.1 L1236.7 1083.1 L1237.2 1083.1 L1237.7 1083.0 L1238.2 1083.0 L1238.7 1083.0 L1239.2 1083.0 L1239.7 1082.9 L1240.2 1082.9 L1240.7 1082.9 L1241.2 1082.9 L1241.7 1082.8 L1242.2 1082.8 L1242.7 1082.8 L1243.2 1082.7 L1243.7 1082.7 L1244.2 1082.7 L1244.7 1082.7 L1245.2 1082.6 L1245.7 1082.6 L1246.2 1082.6 L1246.7 1082.5 L1247.2 1082.5 L1247.7 1082.5 L1248.2 1082.5 L1248.7 1082.4 L1249.2 1082.4 L1249.7 1082.4 L1250.2 1082.3 L1250.7 1082.3 L1251.2 1082.3 L1251.7 1082.3 L1252.2 1082.2 L1252.7 1082.2 L1253.2 1082.2 L1253.7 1082.1 L1254.2 1082.1 L1254.7 1082.1 L1255.2 1082.1 L1255.7 1082.0 L1256.2 1082.0 L1256.7 1082.0 L1257.2 1082.0 L1257.7 1081.9 L1258.2 1081.9 L1258.7 1081.9 L1259.2 1081.8 L1259.7 1081.8 L1260.2 1081.8 L1260.7 1081.8 L1261.2 1081.7 L1261.7 1081.7 L1262.2 1081.7 L1262.7 1081.6 L1263.2 1081.6 L1263.7 1081.6 L1264.2 1081.6 L1264.7 1081.5 L1265.2 1081.5 L1265.7 1081.5 L1266.2 1081.4 L1266.7 1081.4 L1267.2 1081.4 L1267.7 1081.4 L1268.2 1081.3 L1268.7 1081.3 L1269.2 1081.3 L1269.7 1081.2 L1270.2 1081.2 L1270.7 1081.2 L1271.2 1081.1 L1271.7 1081.1 L1272.2 1081.1 L1272.7 1081.1 L1273.2 1081.0 L1273.7 1081.0 L1274.2 1081.0 L1274.7 1080.9 L1275.2 1080.9 L1275.7 1080.9 L1276.2 1080.9 L1276.7 1080.8 L1277.2 1080.8 L1277.7 1080.8 L1278.2 1080.7 L1278.7 1080.7 L1279.2 1080.7 L1279.7 1080.7 L1280.2 1080.6 L1280.7 1080.6 L1281.2 1080.6 L1281.7 1080.5 L1282.2 1080.5 L1282.7 1080.5 L1283.2 1080.5 L1283.7 1080.4 L1284.2 1080.4 L1284.7 1080.4 L1285.2 1080.3 L1285.7 1080.3 L1286.2 1080.3 L1286.7 1080.2 L1287.2 1080.2 L1287.7 1080.2 L1288.2 1080.2 L1288.7 1080.1 L1289.2 1080.1 L1289.7 1080.1 L1290.2 1080.0 L1290.7 1080.0 L1291.2 1080.0 L1291.7 1080.0 L1292.2 1079.9 L1292.7 1079.9 L1293.2 1079.9 L1293.7 1079.8 L1294.2 1079.8 L1294.7 1079.8 L1295.2 1079.8 L1295.7 1079.7 L1296.2 1079.7 L1296.7 1079.7 L1297.2 1079.6 L1297.7 1079.6 L1298.2 1079.6 L1298.7 1079.5 L1299.2 1079.5 L1299.7 1079.5 L1300.2 1079.5 L1300.7 1079.4 L1301.2 1079.4 L1301.7 1079.4 L1302.2 1079.3 L1302.7 1079.3 L1303.2 1079.3 L1303.7 1079.3 L1304.2 1079.2 L1304.7 1079.2 L1305.2 1079.2 L1305.7 1079.1 L1306.2 1079.1 L1306.7 1079.1 L1307.2 1079.0 L1307.7 1079.0 L1308.2 1079.0 L1308.7 1079.0 L1309.2 1078.9 L1309.7 1078.9 L1310.2 1078.9 L1310.7 1078.8 L1311.2 1078.8 L1311.7 1078.8 L1312.2 1078.8 L1312.7 1078.7 L1313.2 1078.7 L1313.7 1078.7 L1314.2 1078.6 L1314.7 1078.6 L1315.2 1078.6 L1315.7 1078.5 L1316.2 1078.5 L1316.7 1078.5 L1317.2 1078.5 L1317.7 1078.4 L1318.2 1078.4 L1318.7 1078.4 L1319.2 1078.3 L1319.7 1078.3 L1320.2 1078.3 L1320.7 1078.3 L1321.2 1078.2 L1321.7 1078.2 L1322.2 1078.2 L1322.7 1078.1 L1323.2 1078.1 L1323.7 1078.1 L1324.2 1078.1 L1324.7 1078.0 L1325.2 1078.0 L1325.7 1078.0 L1326.2 1078.0 L1326.7 1077.9 L1327.2 1077.9 L1327.7 1077.9 L1328.2 1077.8 L1328.7 1077.8 L1329.2 1077.8 L1329.7 1077.8 L1330.2 1077.7 L1330.7 1077.7 L1331.2 1077.7 L1331.7 1077.6 L1332.2 1077.6 L1332.7 1077.6 L1333.2 1077.6 L1333.7 1077.5 L1334.2 1077.5 L1334.7 1077.5 L1335.2 1077.5 L1335.7 1077.4 L1336.2 1077.4 L1336.7 1077.4 L1337.2 1077.4 L1337.7 1077.3 L1338.2 1077.3 L1338.7 1077.3 L1339.2 1077.2 L1339.7 1077.2 L1340.2 1077.2 L1340.7 1077.2 L1341.2 1077.1 L1341.7 1077.1 L1342.2 1077.1 L1342.7 1077.1 L1343.2 1077.0 L1343.7 1077.0 L1344.2 1077.0 L1344.7 1077.0 L1345.2 1076.9 L1345.7 1076.9 L1346.2 1076.9 L1346.7 1076.8 L1347.2 1076.8 L1347.7 1076.8 L1348.2 1076.8 L1348.7 1076.7 L1349.2 1076.7 L1349.7 1076.7 L1350.2 1076.7 L1350.7 1076.6 L1351.2 1076.6 L1351.7 1076.6 L1352.2 1076.5 L1352.7 1076.5 L1353.2 1076.5 L1353.7 1076.5 L1354.2 1076.4 L1354.7 1076.4 L1355.2 1076.4 L1355.7 1076.4 L1356.2 1076.3 L1356.7 1076.3 L1357.2 1076.3 L1357.7 1076.2 L1358.2 1076.2 L1358.7 1076.2 L1359.2 1076.2 L1359.7 1076.1 L1360.2 1076.1 L1360.7 1076.1 L1361.2 1076.1 L1361.7 1076.0 L1362.2 1076.0 L1362.7 1076.0 L1363.2 1075.9 L1363.7 1075.9 L1364.2 1075.9 L1364.7 1075.9 L1365.2 1075.8 L1365.7 1075.8 L1366.2 1075.8 L1366.7 1075.7 L1367.2 1075.7 L1367.7 1075.7 L1368.2 1075.6 L1368.7 1075.6 L1369.2 1075.6 L1369.7 1075.6 L1370.2 1075.5 L1370.7 1075.5 L1371.2 1075.5 L1371.7 1075.4 L1372.2 1075.4 L1372.7 1075.4 L1373.2 1075.4 L1373.7 1075.3 L1374.2 1075.3 L1374.7 1075.3 L1375.2 1075.2 L1375.7 1075.2 L1376.2 1075.2 L1376.7 1075.1 L1377.2 1075.1 L1377.7 1075.1 L1378.2 1075.0 L1378.7 1075.0 L1379.2 1075.0 L1379.7 1074.9 L1380.2 1074.9 L1380.7 1074.9 L1381.2 1074.9 L1381.7 1074.8 L1382.2 1074.8 L1382.7 1074.8 L1383.2 1074.7 L1383.7 1074.7 L1384.2 1074.7 L1384.7 1074.6 L1385.2 1074.6 L1385.7 1074.6 L1386.2 1074.5 L1386.7 1074.5 L1387.2 1074.5 L1387.7 1074.4 L1388.2 1074.4 L1388.7 1074.4 L1389.2 1074.3 L1389.7 1074.3 L1390.2 1074.2 L1390.7 1074.2 L1391.2 1074.2 L1391.7 1074.1 L1392.2 1074.1 L1392.7 1074.1 L1393.2 1074.0 L1393.7 1074.0 L1394.2 1074.0 L1394.7 1073.9 L1395.2 1073.9 L1395.7 1073.8 L1396.2 1073.8 L1396.7 1073.8 L1397.2 1073.7 L1397.7 1073.7 L1398.2 1073.7 L1398.7 1073.6 L1399.2 1073.6 L1399.7 1073.5 L1400.2 1073.5 L1400.7 1073.5 L1401.2 1073.4 L1401.7 1073.4 L1402.2 1073.3 L1402.7 1073.3 L1403.2 1073.3 L1403.7 1073.2 L1404.2 1073.2 L1404.7 1073.1 L1405.2 1073.1 L1405.7 1073.1 L1406.2 1073.0 L1406.7 1073.0 L1407.2 1072.9 L1407.7 1072.9 L1408.2 1072.9 L1408.7 1072.8 L1409.2 1072.8 L1409.7 1072.7 L1410.2 1072.7 L1410.7 1072.6 L1411.2 1072.6 L1411.7 1072.5 L1412.2 1072.5 L1412.7 1072.5 L1413.2 1072.4 L1413.7 1072.4 L1414.2 1072.3 L1414.7 1072.3 L1415.2 1072.2 L1415.7 1072.2 L1416.2 1072.1 L1416.7 1072.1 L1417.2 1072.0 L1417.7 1072.0 L1418.2 1071.9 L1418.7 1071.9 L1419.2 1071.8 L1419.7 1071.8 L1420.2 1071.7 L1420.7 1071.7 L1421.2 1071.6 L1421.7 1071.6 L1422.2 1071.5 L1422.7 1071.5 L1423.2 1071.4 L1423.7 1071.4 L1424.2 1071.3 L1424.7 1071.2 L1425.2 1071.2 L1425.7 1071.1 L1426.2 1071.1 L1426.7 1071.0 L1427.2 1071.0 L1427.7 1070.9 L1428.2 1070.9 L1428.7 1070.8 L1429.2 1070.7 L1429.7 1070.7 L1430.2 1070.6 L1430.7 1070.6 L1431.2 1070.5 L1431.7 1070.5 L1432.2 1070.4 L1432.7 1070.3 L1433.2 1070.3 L1433.7 1070.2 L1434.2 1070.2 L1434.7 1070.1 L1435.2 1070.0 L1435.7 1070.0 L1436.2 1069.9 L1436.7 1069.8 L1437.2 1069.8 L1437.7 1069.7 L1438.2 1069.7 L1438.7 1069.6 L1439.2 1069.5 L1439.7 1069.5 L1440.2 1069.4 L1440.7 1069.3 L1441.2 1069.3 L1441.7 1069.2 L1442.2 1069.1 L1442.7 1069.1 L1443.2 1069.0 L1443.7 1068.9 L1444.2 1068.9 L1444.7 1068.8 L1445.2 1068.7 L1445.7 1068.7 L1446.2 1068.6 L1446.7 1068.5 L1447.2 1068.5 L1447.7 1068.4 L1448.2 1068.3 L1448.7 1068.2 L1449.2 1068.2 L1449.7 1068.1 L1450.2 1068.0 L1450.7 1068.0 L1451.2 1067.9 L1451.7 1067.8 L1452.2 1067.7 L1452.7 1067.7 L1453.2 1067.6 L1453.7 1067.5 L1454.2 1067.5 L1454.7 1067.4 L1455.2 1067.3 L1455.7 1067.2 L1456.2 1067.2 L1456.7 1067.1 L1457.2 1067.0 L1457.7 1066.9 L1458.2 1066.9 L1458.7 1066.8 L1459.2 1066.7 L1459.7 1066.6 L1460.2 1066.5 L1460.7 1066.5 L1461.2 1066.4 L1461.7 1066.3 L1462.2 1066.2 L1462.7 1066.2 L1463.2 1066.1 L1463.7 1066.0 L1464.2 1065.9 L1464.7 1065.8 L1465.2 1065.8 L1465.7 1065.7 L1466.2 1065.6 L1466.7 1065.5 L1467.2 1065.4 L1467.7 1065.4 L1468.2 1065.3 L1468.7 1065.2 L1469.2 1065.1 L1469.7 1065.0 L1470.2 1064.9 L1470.7 1064.9 L1471.2 1064.8 L1471.7 1064.7 L1472.2 1064.6 L1472.7 1064.5 L1473.2 1064.4 L1473.7 1064.4 L1474.2 1064.3 L1474.7 1064.2 L1475.2 1064.1 L1475.7 1064.0 L1476.2 1063.9 L1476.7 1063.8 L1477.2 1063.7 L1477.7 1063.7 L1478.2 1063.6 L1478.7 1063.5 L1479.2 1063.4 L1479.7 1063.3 L1480.2 1063.2 L1480.7 1063.1 L1481.2 1063.0 L1481.7 1063.0 L1482.2 1062.9 L1482.7 1062.8 L1483.2 1062.7 L1483.7 1062.6 L1484.2 1062.5 L1484.7 1062.4 L1485.2 1062.3 L1485.7 1062.2 L1486.2 1062.1 L1486.7 1062.0 L1487.2 1061.9 L1487.7 1061.8 L1488.2 1061.7 L1488.7 1061.6 L1489.2 1061.5 L1489.7 1061.4 L1490.2 1061.3 L1490.7 1061.2 L1491.2 1061.1 L1491.7 1061.0 L1492.2 1060.9 L1492.7 1060.8 L1493.2 1060.7 L1493.7 1060.6 L1494.2 1060.5 L1494.7 1060.4 L1495.2 1060.3 L1495.7 1060.1 L1496.2 1060.0 L1496.7 1059.9 L1497.2 1059.8 L1497.7 1059.7 L1498.2 1059.6 L1498.7 1059.5 L1499.2 1059.3 L1499.7 1059.2 L1500.2 1059.1 L1500.7 1059.0 L1501.2 1058.8 L1501.7 1058.7 L1502.2 1058.6 L1502.7 1058.5 L1503.2 1058.3 L1503.7 1058.2 L1504.2 1058.1 L1504.7 1057.9 L1505.2 1057.8 L1505.7 1057.7 L1506.2 1057.5 L1506.7 1057.4 L1507.2 1057.3 L1507.7 1057.1 L1508.2 1057.0 L1508.7 1056.8 L1509.2 1056.7 L1509.7 1056.5 L1510.2 1056.4 L1510.7 1056.2 L1511.2 1056.1 L1511.7 1055.9 L1512.2 1055.8 L1512.7 1055.6 L1513.2 1055.5 L1513.7 1055.3 L1514.2 1055.2 L1514.7 1055.0 L1515.2 1054.8 L1515.7 1054.7 L1516.2 1054.5 L1516.7 1054.4 L1517.2 1054.2 L1517.7 1054.0 L1518.2 1053.9 L1518.7 1053.7 L1519.2 1053.6 L1519.7 1053.4 L1520.2 1053.2 L1520.7 1053.0 L1521.2 1052.9 L1521.7 1052.7 L1522.2 1052.5 L1522.7 1052.3 L1523.2 1052.1 L1523.7 1051.9 L1524.2 1051.7 L1524.7 1051.5 L1525.2 1051.3 L1525.7 1051.0 L1526.2 1050.8 L1526.7 1050.6 L1527.2 1050.3 L1527.7 1050.0 L1528.2 1049.8 L1528.7 1049.5 L1529.2 1049.2 L1529.7 1048.9 L1530.2 1048.6 L1530.7 1048.3 L1531.2 1048.0 L1531.7 1047.6 L1532.2 1047.3 L1532.7 1046.9 L1533.2 1046.5 L1533.7 1046.1 L1534.2 1045.7 L1534.7 1045.1 L1535.2 1044.5 L1535.7 1043.8 L1536.2 1043.0 L1536.7 1042.2 L1537.2 1041.3 L1537.7 1040.4 L1538.2 1039.5 L1538.7 1038.6 L1539.2 1037.6 L1539.7 1036.7 L1540.2 1035.7 L1540.7 1034.5 L1541.2 1033.1 L1541.7 1031.6 L1542.2 1030.2 L1542.7 1029.0 L1543.2 1028.1 L1543.7 1027.7 L1544.2 1027.6 L1544.7 1027.5 L1545.2 1027.4 L1545.7 1027.3 L1546.2 1027.3 L1546.7 1027.2 L1547.2 1027.2 L1547.7 1027.3 L1548.2 1027.9 L1548.7 1028.8 L1549.2 1029.9 L1549.7 1031.0 L1550.2 1032.1 L1550.7 1032.9 L1551.2 1033.4 L1551.7 1033.6 L1552.2 1033.9 L1552.7 1034.1 L1553.2 1034.3 L1553.7 1034.5 L1554.2 1034.6 L1554.7 1034.6 L1555.2 1034.6 L1555.7 1034.4 L1556.2 1034.2 L1556.7 1033.9 L1557.2 1033.4 L1557.7 1033.0 L1558.2 1032.5 L1558.7 1031.9 L1559.2 1031.3 L1559.7 1030.7 L1560.2 1030.1 L1560.7 1029.5 L1561.2 1028.9 L1561.7 1028.4 L1562.2 1027.8 L1562.7 1027.2 L1563.2 1026.6 L1563.7 1026.0 L1564.2 1025.3 L1564.7 1024.6 L1565.2 1023.9 L1565.7 1023.1 L1566.2 1022.3 L1566.7 1021.5 L1567.2 1020.6 L1567.7 1019.7 L1568.2 1018.7 L1568.7 1017.7 L1569.2 1016.6 L1569.7 1015.4 L1570.2 1014.1 L1570.7 1012.7 L1571.2 1011.2 L1571.7 1009.5 L1572.2 1007.7 L1572.7 1005.7 L1573.2 1003.5 L1573.7 1001.1 L1574.2 998.0 L1574.7 994.3 L1575.2 990.4 L1575.7 986.2 L1576.2 982.2 L1576.7 978.2 L1577.2 974.0 L1577.7 969.7 L1578.2 965.3 L1578.7 960.8 L1579.2 956.1 L1579.7 950.9 L1580.2 945.5 L1580.7 940.3 L1581.2 935.6 L1581.7 931.5 L1582.2 927.5 L1582.7 923.8 L1583.2 920.9 L1583.7 919.0 L1584.2 917.8 L1584.7 916.8 L1585.2 915.8 L1585.7 914.9 L1586.2 914.1 L1586.7 913.5 L1587.2 912.9 L1587.7 912.5 L1588.2 912.2 L1588.7 912.1 L1589.2 912.1 L1589.7 912.3 L1590.2 912.7 L1590.7 913.3 L1591.2 914.0 L1591.7 914.9 L1592.2 916.0 L1592.7 917.2 L1593.2 918.6 L1593.7 920.1 L1594.2 922.4 L1594.7 927.1 L1595.2 933.5 L1595.7 940.6 L1596.2 947.5 L1596.7 953.7 L1597.2 960.3 L1597.7 966.8 L1598.2 973.1 L1598.7 978.8 L1599.2 984.1 L1599.7 989.0 L1600.2 993.9 L1600.7 998.6 L1601.2 1003.5 L1601.7 1008.5 L1602.2 1013.6 L1602.7 1018.7 L1603.2 1023.8 L1603.7 1028.7 L1604.2 1033.3 L1604.7 1038.4 L1605.2 1043.6 L1605.7 1047.9 L1606.2 1050.7 L1606.7 1051.9 L1607.2 1053.0 L1607.7 1054.0 L1608.2 1054.9 L1608.7 1055.7 L1609.2 1056.4 L1609.7 1057.1 L1610.2 1057.6 L1610.7 1058.1 L1611.2 1058.5 L1611.7 1058.8 L1612.2 1059.1 L1612.7 1059.2 L1613.2 1059.3 L1613.7 1059.3 L1614.2 1059.3 L1614.7 1059.2 L1615.2 1059.2 L1615.7 1059.1 L1616.2 1059.1 L1616.7 1059.0 L1617.2 1058.9 L1617.7 1058.8 L1618.2 1058.7 L1618.7 1058.6 L1619.2 1058.5 L1619.7 1058.3 L1620.2 1058.2 L1620.7 1058.1 L1621.2 1057.9 L1621.7 1057.8 L1622.2 1057.6 L1622.7 1057.5 L1623.2 1057.3 L1623.7 1057.1 L1624.2 1056.8 L1624.7 1056.5 L1625.2 1056.2 L1625.7 1055.9 L1626.2 1055.5 L1626.7 1055.2 L1627.2 1054.8 L1627.7 1054.4 L1628.2 1054.1 L1628.7 1053.8 L1629.2 1053.5 L1629.7 1053.2 L1630.2 1053.0 L1630.7 1052.9 L1631.2 1052.8 L1631.7 1052.7 L1632.2 1052.6 L1632.7 1052.6 L1633.2 1052.5 L1633.7 1052.5 L1634.2 1052.4 L1634.7 1052.4 L1635.2 1052.3 L1635.7 1052.3 L1636.2 1052.3 L1636.7 1052.2 L1637.2 1052.2 L1637.7 1052.2 L1638.2 1052.1 L1638.7 1052.1 L1639.2 1052.1 L1639.7 1052.0 L1640.2 1052.0 L1640.7 1051.9 L1641.2 1051.9 L1641.7 1051.9 L1642.2 1051.8 L1642.7 1051.8 L1643.2 1051.8 L1643.7 1051.7 L1644.2 1051.7 L1644.7 1051.6 L1645.2 1051.6 L1645.7 1051.6 L1646.2 1051.5 L1646.7 1051.5 L1647.2 1051.5 L1647.7 1051.4 L1648.2 1051.4 L1648.7 1051.4 L1649.2 1051.3 L1649.7 1051.3 L1650.2 1051.3 L1650.7 1051.2 L1651.2 1051.2 L1651.7 1051.2 L1652.2 1051.1 L1652.7 1051.1 L1653.2 1051.1 L1653.7 1051.1 L1654.2 1051.0 L1654.7 1051.0 L1655.2 1051.0 L1655.7 1050.9 L1656.2 1050.9 L1656.7 1050.9 L1657.2 1050.8 L1657.7 1050.8 L1658.2 1050.8 L1658.7 1050.7 L1659.2 1050.7 L1659.7 1050.6 L1660.2 1050.6 L1660.7 1050.6 L1661.2 1050.5 L1661.7 1050.5 L1662.2 1050.5 L1662.7 1050.4 L1663.2 1050.4 L1663.7 1050.3 L1664.2 1050.3 L1664.7 1050.2 L1665.2 1050.2 L1665.7 1050.2 L1666.2 1050.1 L1666.7 1050.1 L1667.2 1050.0 L1667.7 1050.0 L1668.2 1049.9 L1668.7 1049.9 L1669.2 1049.8 L1669.7 1049.7 L1670.2 1049.7 L1670.7 1049.6 L1671.2 1049.6 L1671.7 1049.5 L1672.2 1049.5 L1672.7 1049.4 L1673.2 1049.3 L1673.7 1049.3 L1674.2 1049.2 L1674.7 1049.1 L1675.2 1049.1 L1675.7 1049.0 L1676.2 1048.9 L1676.7 1048.9 L1677.2 1048.8 L1677.7 1048.7 L1678.2 1048.7 L1678.7 1048.6 L1679.2 1048.5 L1679.7 1048.4 L1680.2 1048.4 L1680.7 1048.3 L1681.2 1048.2 L1681.7 1048.1 L1682.2 1048.0 L1682.7 1047.9 L1683.2 1047.9 L1683.7 1047.8 L1684.2 1047.7 L1684.7 1047.6 L1685.2 1047.5 L1685.7 1047.4 L1686.2 1047.3 L1686.7 1047.2 L1687.2 1047.1 L1687.7 1047.0 L1688.2 1046.9 L1688.7 1046.8 L1689.2 1046.7 L1689.7 1046.6 L1690.2 1046.5 L1690.7 1046.4 L1691.2 1046.3 L1691.7 1046.2 L1692.2 1046.1 L1692.7 1046.0 L1693.2 1045.9 L1693.7 1045.8 L1694.2 1045.6 L1694.7 1045.5 L1695.2 1045.4 L1695.7 1045.3 L1696.2 1045.2 L1696.7 1045.0 L1697.2 1044.9 L1697.7 1044.7 L1698.2 1044.6 L1698.7 1044.4 L1699.2 1044.3 L1699.7 1044.1 L1700.2 1044.0 L1700.7 1043.8 L1701.2 1043.6 L1701.7 1043.4 L1702.2 1043.3 L1702.7 1043.1 L1703.2 1042.9 L1703.7 1042.7 L1704.2 1042.5 L1704.7 1042.3 L1705.2 1042.1 L1705.7 1041.9 L1706.2 1041.7 L1706.7 1041.4 L1707.2 1041.2 L1707.7 1041.0 L1708.2 1040.8 L1708.7 1040.5 L1709.2 1040.3 L1709.7 1040.1 L1710.2 1039.8 L1710.7 1039.6 L1711.2 1039.3 L1711.7 1039.1 L1712.2 1038.8 L1712.7 1038.6 L1713.2 1038.3 L1713.7 1038.1 L1714.2 1037.8 L1714.7 1037.5 L1715.2 1037.2 L1715.7 1037.0 L1716.2 1036.7 L1716.7 1036.4 L1717.2 1036.1 L1717.7 1035.8 L1718.2 1035.5 L1718.7 1035.2 L1719.2 1034.9 L1719.7 1034.5 L1720.2 1034.2 L1720.7 1033.9 L1721.2 1033.5 L1721.7 1033.1 L1722.2 1032.8 L1722.7 1032.4 L1723.2 1032.0 L1723.7 1031.6 L1724.2 1031.2 L1724.7 1030.7 L1725.2 1030.3 L1725.7 1029.8 L1726.2 1029.4 L1726.7 1028.9 L1727.2 1028.4 L1727.7 1027.9 L1728.2 1027.3 L1728.7 1026.8 L1729.2 1026.2 L1729.7 1025.6 L1730.2 1025.0 L1730.7 1024.4 L1731.2 1023.7 L1731.7 1022.9 L1732.2 1022.2 L1732.7 1021.3 L1733.2 1020.4 L1733.7 1019.4 L1734.2 1018.4 L1734.7 1017.3 L1735.2 1016.1 L1735.7 1014.9 L1736.2 1013.5 L1736.7 1011.9 L1737.2 1010.1 L1737.7 1007.9 L1738.2 1005.4 L1738.7 1002.6 L1739.2 999.5 L1739.7 995.9 L1740.2 990.9 L1740.7 983.5 L1741.2 976.0 L1741.7 971.0 L1742.2 968.2 L1742.7 965.5 L1743.2 963.2 L1743.7 961.2 L1744.2 959.7 L1744.7 958.6 L1745.2 958.0 L1745.7 958.2 L1746.2 959.1 L1746.7 960.7 L1747.2 962.9 L1747.7 965.5 L1748.2 968.5 L1748.7 971.6 L1749.2 974.7 L1749.7 978.0 L1750.2 982.6 L1750.7 987.9 L1751.2 992.9 L1751.7 996.4 L1752.2 997.8 L1752.7 998.9 L1753.2 999.8 L1753.7 1000.6 L1754.2 1001.2 L1754.7 1001.8 L1755.2 1002.3 L1755.7 1002.8 L1756.2 1003.2 L1756.7 1003.7 L1757.2 1004.2 L1757.7 1004.7 L1758.2 1005.3 L1758.7 1005.8 L1759.2 1006.3 L1759.7 1006.7 L1760.2 1007.2 L1760.7 1007.7 L1761.2 1008.1 L1761.7 1008.6 L1762.2 1009.1 L1762.7 1009.7 L1763.2 1010.2 L1763.7 1010.9 L1764.2 1011.7 L1764.7 1012.6 L1765.2 1013.5 L1765.7 1014.3 L1766.2 1015.0 L1766.7 1015.5 L1767.2 1015.7 L1767.7 1015.6 L1768.2 1015.3 L1768.7 1014.8 L1769.2 1014.2 L1769.7 1013.3 L1770.2 1012.4 L1770.7 1011.3 L1771.2 1010.1 L1771.7 1008.8 L1772.2 1007.5 L1772.7 1006.1 L1773.2 1004.8 L1773.7 1003.2 L1774.2 1001.2 L1774.7 998.8 L1775.2 996.1 L1775.7 993.3 L1776.2 990.5 L1776.7 987.7 L1777.2 985.2 L1777.7 983.0 L1778.2 981.1 L1778.7 979.2 L1779.2 977.2 L1779.7 975.3 L1780.2 973.4 L1780.7 971.5 L1781.2 969.8 L1781.7 968.2 L1782.2 966.8 L1782.7 965.6 L1783.2 964.6 L1783.7 964.0 L1784.2 963.6 L1784.7 963.7 L1785.2 964.1 L1785.7 964.8 L1786.2 965.8 L1786.7 967.0 L1787.2 968.5 L1787.7 970.0 L1788.2 971.6 L1788.7 973.3 L1789.2 974.9 L1789.7 976.5 L1790.2 978.0 L1790.7 979.3 L1791.2 980.8 L1791.7 982.4 L1792.2 984.0 L1792.7 985.7 L1793.2 987.3 L1793.7 988.9 L1794.2 990.3 L1794.7 991.6 L1795.2 992.6 L1795.7 993.4 L1796.2 994.2 L1796.7 994.9 L1797.2 995.5 L1797.7 996.2 L1798.2 996.7 L1798.7 997.1 L1799.2 997.3 L1799.7 997.4 L1800.2 995.7 L1800.7 991.4 L1801.2 985.8 L1801.7 980.2 L1802.2 975.8 L1802.7 971.7 L1803.2 967.4 L1803.7 963.1 L1804.2 959.1 L1804.7 955.8 L1805.2 953.5 L1805.7 952.4 L1806.2 953.1 L1806.7 955.7 L1807.2 959.8 L1807.7 964.5 L1808.2 969.6 L1808.7 974.2 L1809.2 978.1 L1809.7 982.6 L1810.2 987.1 L1810.7 990.9 L1811.2 993.1 L1811.7 993.3 L1812.2 993.2 L1812.7 992.9 L1813.2 992.6 L1813.7 992.2 L1814.2 991.7 L1814.7 991.1 L1815.2 990.5 L1815.7 989.8 L1816.2 989.0 L1816.7 988.1 L1817.2 987.2 L1817.7 986.3 L1818.2 985.1 L1818.7 983.0 L1819.2 980.3 L1819.7 977.1 L1820.2 973.9 L1820.7 971.0 L1821.2 968.6 L1821.7 967.1 L1822.2 965.9 L1822.7 964.7 L1823.2 963.7 L1823.7 962.8 L1824.2 962.1 L1824.7 961.6 L1825.2 961.4 L1825.7 961.6 L1826.2 962.5 L1826.7 963.8 L1827.2 965.6 L1827.7 967.8 L1828.2 970.2 L1828.7 972.8 L1829.2 975.5 L1829.7 978.6 L1830.2 983.4 L1830.7 988.9 L1831.2 993.8 L1831.7 996.8 L1832.2 997.9 L1832.7 998.9 L1833.2 999.8 L1833.7 1000.7 L1834.2 1001.4 L1834.7 1002.1 L1835.2 1002.7 L1835.7 1003.3 L1836.2 1003.8 L1836.7 1004.2 L1837.2 1004.6 L1837.7 1004.9 L1838.2 1005.1 L1838.7 1005.3 L1839.2 1005.4 L1839.7 1005.4 L1840.2 1005.4 L1840.7 1005.2 L1841.2 1004.9 L1841.7 1004.5 L1842.2 1004.0 L1842.7 1003.5 L1843.2 1002.9 L1843.7 1002.2 L1844.2 1001.4 L1844.7 1000.6 L1845.2 999.8 L1845.7 999.0 L1846.2 998.2 L1846.7 997.3 L1847.2 996.5 L1847.7 995.7 L1848.2 995.0 L1848.7 994.3 L1849.2 993.7 L1849.7 993.1 L1850.2 992.5 L1850.7 992.0 L1851.2 991.6 L1851.7 991.1 L1852.2 990.7 L1852.7 990.3 L1853.2 989.8 L1853.7 989.4 L1854.2 989.0 L1854.7 988.5 L1855.2 988.0 L1855.7 987.5 L1856.2 987.0 L1856.7 986.4 L1857.2 985.8 L1857.7 985.2 L1858.2 984.5 L1858.7 983.7 L1859.2 982.7 L1859.7 981.6 L1860.2 980.2 L1860.7 978.8 L1861.2 977.2 L1861.7 975.6 L1862.2 973.8 L1862.7 972.0 L1863.2 970.2 L1863.7 968.4 L1864.2 966.6 L1864.7 964.8 L1865.2 963.1 L1865.7 961.5 L1866.2 960.0 L1866.7 958.6 L1867.2 957.2 L1867.7 956.0 L1868.2 954.8 L1868.7 953.6 L1869.2 952.4 L1869.7 951.3 L1870.2 950.1 L1870.7 948.9 L1871.2 947.7 L1871.7 946.4 L1872.2 945.0 L1872.7 943.6 L1873.2 942.0 L1873.7 940.3 L1874.2 938.5 L1874.7 936.4 L1875.2 934.3 L1875.7 932.0 L1876.2 929.5 L1876.7 927.0 L1877.2 924.3 L1877.7 921.4 L1878.2 918.3 L1878.7 914.8 L1879.2 911.2 L1879.7 907.3 L1880.2 903.5 L1880.7 899.6 L1881.2 895.9 L1881.7 892.2 L1882.2 888.4 L1882.7 884.6 L1883.2 880.6 L1883.7 876.3 L1884.2 871.7 L1884.7 866.4 L1885.2 860.7 L1885.7 854.8 L1886.2 849.0 L1886.7 841.8 L1887.2 840.5 L1887.7 847.4 L1888.2 856.9 L1888.7 869.0 L1889.2 880.1 L1889.7 890.6 L1890.2 899.8 L1890.7 908.2 L1891.2 916.0 L1891.7 922.3 L1892.2 926.5 L1892.7 930.2 L1893.2 933.5 L1893.7 936.3 L1894.2 938.4 L1894.7 939.6 L1895.2 939.8 L1895.7 939.3 L1896.2 938.4 L1896.7 937.2 L1897.2 935.8 L1897.7 934.3 L1898.2 932.8 L1898.7 931.5 L1899.2 930.0 L1899.7 928.5 L1900.2 926.8 L1900.7 925.1 L1901.2 923.3 L1901.7 921.5 L1902.2 919.6 L1902.7 917.8 L1903.2 915.9 L1903.7 914.1 L1904.2 912.4 L1904.7 910.7 L1905.2 909.1 L1905.7 907.6 L1906.2 906.2 L1906.7 904.8 L1907.2 903.5 L1907.7 902.2 L1908.2 900.8 L1908.7 899.5 L1909.2 898.2 L1909.7 896.8 L1910.2 895.4 L1910.7 893.9 L1911.2 892.3 L1911.7 890.6 L1912.2 888.9 L1912.7 887.0 L1913.2 885.0 L1913.7 882.7 L1914.2 880.2 L1914.7 877.4 L1915.2 874.5 L1915.7 871.5 L1916.2 868.3 L1916.7 865.1 L1917.2 861.9 L1917.7 858.6 L1918.2 854.7 L1918.7 850.6 L1919.2 846.6 L1919.7 842.8 L1920.2 839.4 L1920.7 836.8 L1921.2 834.7 L1921.7 832.9 L1922.2 831.3 L1922.7 829.8 L1923.2 828.4 L1923.7 827.1 L1924.2 825.9 L1924.7 824.8 L1925.2 823.8 L1925.7 823.0 L1926.2 822.2 L1926.7 821.5 L1927.2 820.8 L1927.7 820.0 L1928.2 819.1 L1928.7 818.1 L1929.2 816.9 L1929.7 815.4 L1930.2 813.5 L1930.7 810.5 L1931.2 806.4 L1931.7 801.8 L1932.2 796.9 L1932.7 792.1 L1933.2 787.7 L1933.7 783.9 L1934.2 780.2 L1934.7 776.6 L1935.2 773.1 L1935.7 769.6 L1936.2 766.1 L1936.7 762.5 L1937.2 758.8 L1937.7 755.0 L1938.2 751.0 L1938.7 746.8 L1939.2 742.5 L1939.7 738.0 L1940.2 733.3 L1940.7 728.3 L1941.2 723.2 L1941.7 717.7 L1942.2 711.4 L1942.7 705.2 L1943.2 700.8 L1943.7 697.6 L1944.2 694.9 L1944.7 692.6 L1945.2 690.6 L1945.7 688.7 L1946.2 686.8 L1946.7 684.8 L1947.2 682.5 L1947.7 679.9 L1948.2 676.5 L1948.7 671.4 L1949.2 665.8 L1949.7 661.4 L1950.2 659.5 L1950.7 658.7 L1951.2 658.0 L1951.7 657.6 L1952.2 657.1 L1952.7 656.5 L1953.2 655.6 L1953.7 654.4 L1954.2 652.9 L1954.7 651.4 L1955.2 649.9 L1955.7 648.6 L1956.2 647.6 L1956.7 646.7 L1957.2 645.8 L1957.7 645.0 L1958.2 644.4 L1958.7 644.1 L1959.2 644.0 L1959.7 644.0 L1960.2 644.0 L1960.7 644.0 L1961.2 644.0 L1961.7 644.0 L1962.2 644.2 L1962.7 645.7 L1963.2 648.7 L1963.7 652.7 L1964.2 657.2 L1964.7 662.5 L1965.2 672.2 L1965.7 682.7 L1966.2 688.8 L1966.7 687.0 L1967.2 680.4 L1967.7 671.8 L1968.2 663.6 L1968.7 658.1 L1969.2 653.3 L1969.7 648.9 L1970.2 645.2 L1970.7 642.7 L1971.2 641.8 L1971.7 641.2 L1972.2 640.8 L1972.7 640.6 L1973.2 640.5 L1973.7 650.9 L1974.2 665.1 L1974.7 677.9 L1975.2 687.3 L1975.7 695.2 L1976.2 703.4 L1976.7 712.2 L1977.2 720.0 L1977.7 726.4 L1978.2 732.1 L1978.7 737.2 L1979.2 741.8 L1979.7 745.8 L1980.2 749.5 L1980.7 753.4 L1981.2 757.6 L1981.7 761.9 L1982.2 766.3 L1982.7 770.8 L1983.2 775.3 L1983.7 779.8 L1984.2 784.2 L1984.7 788.7 L1985.2 793.1 L1985.7 797.6 L1986.2 802.1 L1986.7 806.5 L1987.2 810.9 L1987.7 815.2 L1988.2 819.5 L1988.7 823.6 L1989.2 827.7 L1989.7 831.7 L1990.2 835.7 L1990.7 839.6 L1991.2 843.4 L1991.7 847.2 L1992.2 850.9 L1992.7 854.5 L1993.2 858.2 L1993.7 861.9 L1994.2 865.6 L1994.7 869.1 L1995.2 872.3 L1995.7 875.1 L1996.2 877.5 L1996.7 879.9 L1997.2 882.0 L1997.7 883.9 L1998.2 885.4 L1998.7 886.3 L1999.2 887.1 L1999.7 887.6 L2000.2 888.1 L2000.7 888.6 L2001.2 889.1 L2001.7 889.8 L2002.2 890.4 L2002.7 891.0 L2003.2 891.7 L2003.7 892.5 L2004.2 893.4 L2004.7 894.5 L2005.2 895.9 L2005.7 897.6 L2006.2 899.6 L2006.7 901.6 L2007.2 903.6 L2007.7 905.6 L2008.2 907.8 L2008.7 910.0 L2009.2 912.3 L2009.7 914.6 L2010.2 916.8 L2010.7 918.8 L2011.2 920.7 L2011.7 922.5 L2012.2 924.2 L2012.7 925.8 L2013.2 927.3 L2013.7 928.9 L2014.2 930.4 L2014.7 932.0 L2015.2 933.6 L2015.7 935.2 L2016.2 936.9 L2016.7 938.6 L2017.2 940.3 L2017.7 941.9 L2018.2 943.6 L2018.7 945.3 L2019.2 947.1 L2019.7 948.8 L2020.2 950.6 L2020.7 952.5 L2021.2 954.4 L2021.7 956.3 L2022.2 958.3 L2022.7 960.4 L2023.2 962.6 L2023.7 965.0 L2024.2 967.5 L2024.7 970.0 L2025.2 972.6 L2025.7 975.3 L2026.2 977.9 L2026.7 980.6 L2027.2 983.3 L2027.7 985.9 L2028.2 988.4 L2028.7 991.0 L2029.2 993.6 L2029.7 996.3 L2030.2 999.0 L2030.7 1001.7 L2031.2 1004.3 L2031.7 1006.9 L2032.2 1009.3 L2032.7 1011.7 L2033.2 1013.8 L2033.7 1015.8 L2034.2 1017.7 L2034.7 1019.5 L2035.2 1021.4 L2035.7 1023.2 L2036.2 1024.9 L2036.7 1026.5 L2037.2 1028.0 L2037.7 1029.3 L2038.2 1030.5 L2038.7 1031.6 L2039.2 1032.4 L2039.7 1033.0 L2040.2 1033.6 L2040.7 1034.3 L2041.2 1034.8 L2041.7 1035.4 L2042.2 1035.9 L2042.7 1036.4 L2043.2 1036.8 L2043.7 1037.2 L2044.2 1037.5 L2044.7 1037.8 L2045.2 1037.9 L2045.7 1038.1 L2046.2 1038.1 L2046.7 1037.9 L2047.2 1037.5 L2047.7 1036.7 L2048.2 1035.8 L2048.7 1034.6 L2049.2 1033.4 L2049.7 1032.0 L2050.2 1030.6 L2050.7 1029.1 L2051.2 1027.7 L2051.7 1026.4 L2052.2 1025.1 L2052.7 1024.0 L2053.2 1023.1 L2053.7 1022.4 L2054.2 1022.0 L2054.7 1021.9 L2055.2 1022.5 L2055.7 1023.7 L2056.2 1025.5 L2056.7 1027.7 L2057.2 1030.3 L2057.7 1033.1 L2058.2 1036.1 L2058.7 1039.0 L2059.2 1041.7 L2059.7 1044.2 L2060.2 1046.4 L2060.7 1048.4 L2061.2 1050.5 L2061.7 1052.6 L2062.2 1054.7 L2062.7 1056.8 L2063.2 1058.8 L2063.7 1060.6 L2064.2 1062.3 L2064.7 1063.7 L2065.2 1064.9 L2065.7 1065.8 L2066.2 1066.4 L2066.7 1066.9 L2067.2 1067.4 L2067.7 1067.9 L2068.2 1068.3 L2068.7 1068.6 L2069.2 1068.9 L2069.7 1069.2 L2070.2 1069.5 L2070.7 1069.8 L2071.2 1070.0 L2071.7 1070.3 L2072.2 1070.6 L2072.7 1070.8 L2073.2 1071.1 L2073.7 1071.5 L2074.2 1071.8 L2074.7 1072.2 L2075.2 1072.6 L2075.7 1073.1 L2076.2 1073.7 L2076.7 1074.3 L2077.2 1075.0 L2077.7 1075.7 L2078.2 1076.4 L2078.7 1077.2 L2079.2 1078.0 L2079.7 1078.8 L2080.2 1079.6 L2080.7 1080.3 L2081.2 1081.1 L2081.7 1081.7 L2082.2 1082.4 L2082.7 1082.9 L2083.2 1083.5 L2083.7 1084.0 L2084.2 1084.6 L2084.7 1085.2 L2085.2 1085.8 L2085.7 1086.4 L2086.2 1087.0 L2086.7 1087.5 L2087.2 1088.1 L2087.7 1088.7 L2088.2 1089.2 L2088.7 1089.7 L2089.2 1090.2 L2089.7 1090.7 L2090.2 1091.1 L2090.7 1091.5 L2091.2 1091.9 L2091.7 1092.2 L2092.2 1092.5 L2092.7 1092.7 L2093.2 1092.9 L2093.7 1093.1 L2094.2 1093.2 L2094.7 1093.2 L2095.2 1093.1 L2095.7 1093.0 L2096.2 1092.7 L2096.7 1092.3 L2097.2 1091.9 L2097.7 1091.4 L2098.2 1090.9 L2098.7 1090.3 L2099.2 1089.8 L2099.7 1089.2 L2100.2 1088.7 L2100.7 1088.2 L2101.2 1087.8 L2101.7 1087.5 L2102.2 1087.2 L2102.7 1086.9 L2103.2 1086.7 L2103.7 1086.4 L2104.2 1086.2 L2104.7 1086.1 L2105.2 1085.9 L2105.7 1085.9 L2106.2 1086.0 L2106.7 1086.2 L2107.2 1086.5 L2107.7 1086.9 L2108.2 1087.3 L2108.7 1087.7 L2109.2 1088.2 L2109.7 1088.6 L2110.2 1089.0 L2110.7 1089.3 L2111.2 1089.5 L2111.7 1089.5 L2112.2 1089.4 L2112.7 1089.3 L2113.2 1089.0 L2113.7 1088.6 L2114.2 1088.2 L2114.7 1087.6 L2115.2 1086.9 L2115.7 1086.2 L2116.2 1085.3 L2116.7 1084.4 L2117.2 1082.4 L2117.7 1078.8 L2118.2 1074.1 L2118.7 1068.9 L2119.2 1063.3 L2119.7 1056.3 L2120.2 1048.2 L2120.7 1038.8 L2121.2 1027.2 L2121.7 1016.9 L2122.2 1009.6 L2122.7 1002.6 L2123.2 996.7 L2123.7 993.2 L2124.2 992.6 L2124.7 993.6 L2125.2 995.6 L2125.7 998.4 L2126.2 1001.8 L2126.7 1005.6 L2127.2 1010.2 L2127.7 1018.4 L2128.2 1027.3 L2128.7 1033.8 L2129.2 1039.8 L2129.7 1045.1 L2130.2 1049.5 L2130.7 1052.6 L2131.2 1055.2 L2131.7 1057.7 L2132.2 1060.0 L2132.7 1062.0 L2133.2 1063.7 L2133.7 1065.1 L2134.2 1066.1 L2134.7 1066.7 L2135.2 1066.8 L2135.7 1066.5 L2136.2 1065.9 L2136.7 1065.1 L2137.2 1064.1 L2137.7 1063.0 L2138.2 1061.8 L2138.7 1060.7 L2139.2 1059.7 L2139.7 1058.7 L2140.2 1058.0 L2140.7 1057.4 L2141.2 1056.7 L2141.7 1056.0 L2142.2 1055.4 L2142.7 1054.8 L2143.2 1054.3 L2143.7 1053.9 L2144.2 1053.7 L2144.7 1053.6 L2145.2 1053.7 L2145.7 1053.9 L2146.2 1054.2 L2146.7 1054.6 L2147.2 1055.1 L2147.7 1055.6 L2148.2 1056.1 L2148.7 1056.6 L2149.2 1057.1 L2149.7 1057.6 L2150.2 1058.0 L2150.7 1058.3 L2151.2 1058.6 L2151.7 1058.7 L2152.2 1058.7 L2152.7 1058.5 L2153.2 1058.2 L2153.7 1057.7 L2154.2 1057.1 L2154.7 1056.4 L2155.2 1055.6 L2155.7 1054.8 L2156.2 1053.9 L2156.7 1052.9 L2157.2 1051.9 L2157.7 1050.4 L2158.2 1048.5 L2158.7 1046.3 L2159.2 1043.9 L2159.7 1041.5 L2160.2 1039.3 L2160.7 1037.4 L2161.2 1035.8 L2161.7 1034.3 L2162.2 1032.9 L2162.7 1031.5 L2163.2 1030.2 L2163.7 1028.9 L2164.2 1027.7 L2164.7 1026.6 L2165.2 1025.5 L2165.7 1024.5 L2166.2 1023.5 L2166.7 1022.7 L2167.2 1021.8 L2167.7 1021.0 L2168.2 1020.2 L2168.7 1019.4 L2169.2 1018.6 L2169.7 1017.8 L2170.2 1016.9 L2170.7 1016.0 L2171.2 1015.0 L2171.7 1014.1 L2172.2 1013.2 L2172.7 1012.3 L2173.2 1011.3 L2173.7 1010.2 L2174.2 1009.0 L2174.7 1007.6 L2175.2 1005.9 L2175.7 1003.6 L2176.2 1000.1 L2176.7 995.6 L2177.2 990.4 L2177.7 984.8 L2178.2 977.2 L2178.7 968.9 L2179.2 963.1 L2179.7 958.6 L2180.2 954.4 L2180.7 950.4 L2181.2 946.9 L2181.7 943.9 L2182.2 941.7 L2182.7 940.2 L2183.2 939.7 L2183.7 940.1 L2184.2 941.2 L2184.7 942.9 L2185.2 945.1 L2185.7 947.8 L2186.2 950.8 L2186.7 954.0 L2187.2 957.4 L2187.7 962.6 L2188.2 969.3 L2188.7 976.2 L2189.2 982.3 L2189.7 988.4 L2190.2 994.2 L2190.7 999.7 L2191.2 1004.9 L2191.7 1010.2 L2192.2 1014.9 L2192.7 1018.5 L2193.2 1020.4 L2193.7 1021.7 L2194.2 1023.0 L2194.7 1024.0 L2195.2 1025.0 L2195.7 1025.7 L2196.2 1026.3 L2196.7 1026.7 L2197.2 1026.9 L2197.7 1026.9 L2198.2 1026.8 L2198.7 1026.6 L2199.2 1026.3 L2199.7 1025.9 L2200.2 1025.6 L2200.7 1025.2 L2201.2 1024.8 L2201.7 1024.5 L2202.2 1024.1 L2202.7 1023.8 L2203.2 1023.6 L2203.7 1023.5 L2204.2 1023.5 L2204.7 1023.6 L2205.2 1023.9 L2205.7 1024.3 L2206.2 1024.8 L2206.7 1025.4 L2207.2 1026.0 L2207.7 1026.7 L2208.2 1027.5 L2208.7 1028.3 L2209.2 1029.2 L2209.7 1030.0 L2210.2 1030.8 L2210.7 1031.7 L2211.2 1032.6 L2211.7 1033.7 L2212.2 1034.9 L2212.7 1036.2 L2213.2 1037.5 L2213.7 1038.8 L2214.2 1040.0 L2214.7 1041.2 L2215.2 1042.2 L2215.7 1043.2 L2216.2 1044.1 L2216.7 1044.9 L2217.2 1045.8 L2217.7 1046.6 L2218.2 1047.4 L2218.7 1048.2 L2219.2 1049.0 L2219.7 1049.9 L2220.2 1050.8 L2220.7 1051.7 L2221.2 1052.7 L2221.7 1053.7 L2222.2 1054.8 L2222.7 1055.9 L2223.2 1057.0 L2223.7 1058.1 L2224.2 1059.3 L2224.7 1060.5 L2225.2 1061.6 L2225.7 1062.8 L2226.2 1063.9 L2226.7 1065.1 L2227.2 1066.2 L2227.7 1067.4 L2228.2 1068.5 L2228.7 1069.7 L2229.2 1070.9 L2229.7 1072.0 L2230.2 1073.2 L2230.7 1074.3 L2231.2 1075.5 L2231.7 1076.6 L2232.2 1077.7 L2232.7 1078.7 L2233.2 1079.8 L2233.7 1081.0 L2234.2 1082.2 L2234.7 1083.5 L2235.2 1084.7 L2235.7 1086.0 L2236.2 1087.2 L2236.7 1088.3 L2237.2 1089.4 L2237.7 1090.3 L2238.2 1091.1 L2238.7 1091.7 L2239.2 1092.2 L2239.7 1092.5 L2240.2 1092.5 L2240.7 1092.3 L2241.2 1092.1 L2241.7 1091.7 L2242.2 1091.1 L2242.7 1090.6 L2243.2 1089.9 L2243.7 1089.2 L2244.2 1088.4 L2244.7 1087.7 L2245.2 1087.0 L2245.7 1086.3 L2246.2 1085.6 L2246.7 1085.0 L2247.2 1084.5 L2247.7 1084.0 L2248.2 1083.6 L2248.7 1083.1 L2249.2 1082.6 L2249.7 1082.1 L2250.2 1081.6 L2250.7 1081.1 L2251.2 1080.7 L2251.7 1080.3 L2252.2 1079.9 L2252.7 1079.5 L2253.2 1079.2 L2253.7 1078.9 L2254.2 1078.7 L2254.7 1078.6 L2255.2 1078.5 L2255.7 1078.5 L2256.2 1078.6 L2256.7 1078.7 L2257.2 1078.9 L2257.7 1079.1 L2258.2 1079.3 L2258.7 1079.5 L2259.2 1079.8 L2259.7 1080.1 L2260.2 1080.4 L2260.7 1080.7 L2261.2 1081.0 L2261.7 1081.2 L2262.2 1081.5 L2262.7 1081.8 L2263.2 1082.1 L2263.7 1082.5 L2264.2 1082.8 L2264.7 1083.2 L2265.2 1083.6 L2265.7 1083.9 L2266.2 1084.3 L2266.7 1084.5 L2267.2 1084.8 L2267.7 1085.0 L2268.2 1085.1 L2268.7 1085.1 L2269.2 1085.0 L2269.7 1084.7 L2270.2 1084.3 L2270.7 1083.7 L2271.2 1083.0 L2271.7 1082.2 L2272.2 1081.2 L2272.7 1080.2 L2273.2 1079.1 L2273.7 1078.0 L2274.2 1076.7 L2274.7 1075.4 L2275.2 1074.1 L2275.7 1072.4 L2276.2 1070.0 L2276.7 1067.3 L2277.2 1064.4 L2277.7 1061.5 L2278.2 1058.9 L2278.7 1056.2 L2279.2 1053.3 L2279.7 1050.5 L2280.2 1048.0 L2280.7 1045.9 L2281.2 1044.6 L2281.7 1043.5 L2282.2 1042.5 L2282.7 1041.6 L2283.2 1040.6 L2283.7 1039.8 L2284.2 1039.0 L2284.7 1038.2 L2285.2 1037.5 L2285.7 1036.9 L2286.2 1036.4 L2286.7 1035.9 L2287.2 1035.5 L2287.7 1035.2 L2288.2 1035.0 L2288.7 1034.8 L2289.2 1034.8 L2289.7 1034.9 L2290.2 1035.1 L2290.7 1035.5 L2291.2 1036.0 L2291.7 1036.6 L2292.2 1037.3 L2292.7 1038.2 L2293.2 1039.1 L2293.7 1040.1 L2294.2 1041.1 L2294.7 1042.2 L2295.2 1043.4 L2295.7 1044.6 L2296.2 1046.0 L2296.7 1047.9 L2297.2 1050.4 L2297.7 1053.1 L2298.2 1056.0 L2298.7 1058.9 L2299.2 1061.8 L2299.7 1064.5 L2300.2 1066.8 L2300.7 1068.9 L2301.2 1071.0 L2301.7 1073.0 L2302.2 1075.0 L2302.7 1076.9 L2303.2 1078.7 L2303.7 1080.3 L2304.2 1081.8 L2304.7 1083.2 L2305.2 1084.4 L2305.7 1085.7 L2306.2 1087.0 L2306.7 1088.3 L2307.2 1089.4 L2307.7 1090.4 L2308.2 1091.3 L2308.7 1091.9 L2309.2 1092.4 L2309.7 1092.5 L2310.2 1092.3 L2310.7 1091.9 L2311.2 1091.2 L2311.7 1090.3 L2312.2 1089.2 L2312.7 1087.9 L2313.2 1086.4 L2313.7 1084.9 L2314.2 1083.2 L2314.7 1081.6 L2315.2 1079.9 L2315.7 1078.2 L2316.2 1076.1 L2316.7 1073.8 L2317.2 1071.1 L2317.7 1068.2 L2318.2 1065.2 L2318.7 1062.3 L2319.2 1059.4 L2319.7 1056.6 L2320.2 1053.7 L2320.7 1050.9 L2321.2 1047.9 L2321.7 1044.9 L2322.2 1041.8 L2322.7 1038.7 L2323.2 1035.5 L2323.7 1032.3 L2324.2 1029.0 L2324.7 1025.6 L2325.2 1022.0 L2325.7 1018.0 L2326.2 1013.5 L2326.7 1007.8 L2327.2 1002.0 L2327.7 997.2 L2327.8 996.3" fill="none" stroke="#ff0000" stroke-width="13.4" stroke-linejoin="round" stroke-linecap="butt" clip-path="url(#plot)"/>
<path d="M208.2 1612.0 L218.2 1612.0 L218.7 1612.0 L219.2 1612.0 L219.7 1611.9 L220.2 1611.9 L220.7 1611.9 L221.2 1611.9 L221.7 1611.9 L222.2 1611.9 L222.7 1611.8 L223.2 1611.8 L223.7 1611.8 L224.2 1611.8 L224.7 1611.8 L225.2 1611.8 L225.7 1611.7 L226.2 1611.7 L226.7 1611.7 L227.2 1611.7 L227.7 1611.7 L228.2 1611.7 L228.7 1611.7 L229.2 1611.6 L229.7 1611.6 L230.2 1611.6 L230.7 1611.6 L231.2 1611.6 L231.7 1611.6 L232.2 1611.5 L232.7 1611.5 L233.2 1611.5 L233.7 1611.5 L234.2 1611.5 L234.7 1611.5 L235.2 1611.4 L235.7 1611.4 L236.2 1611.4 L236.7 1611.4 L237.2 1611.4 L237.7 1611.4 L238.2 1611.3 L238.7 1611.3 L239.2 1611.3 L239.7 1611.3 L240.2 1611.3 L240.7 1611.3 L241.2 1611.3 L241.7 1611.2 L242.2 1611.2 L242.7 1611.2 L243.2 1611.2 L243.7 1611.2 L244.2 1611.2 L244.7 1611.1 L245.2 1611.1 L245.7 1611.1 L246.2 1611.1 L246.7 1611.1 L247.2 1611.1 L247.7 1611.1 L248.2 1611.0 L248.7 1611.0 L249.2 1611.0 L249.7 1611.0 L250.2 1611.0 L250.7 1611.0 L251.2 1611.0 L251.7 1610.9 L252.2 1610.9 L252.7 1610.9 L253.2 1610.9 L253.7 1610.9 L254.2 1610.9 L254.7 1610.8 L255.2 1610.8 L255.7 1610.8 L256.2 1610.8 L256.7 1610.8 L257.2 1610.8 L257.7 1610.8 L258.2 1610.7 L258.7 1610.7 L259.2 1610.7 L259.7 1610.7 L260.2 1610.7 L260.7 1610.7 L261.2 1610.7 L261.7 1610.7 L262.2 1610.6 L262.7 1610.6 L263.2 1610.6 L263.7 1610.6 L264.2 1610.6 L264.7 1610.6 L265.2 1610.6 L265.7 1610.5 L266.2 1610.5 L266.7 1610.5 L267.2 1610.5 L267.7 1610.5 L268.2 1610.5 L268.7 1610.5 L269.2 1610.5 L269.7 1610.4 L270.2 1610.4 L270.7 1610.4 L271.2 1610.4 L271.7 1610.4 L272.2 1610.4 L272.7 1610.4 L273.2 1610.3 L273.7 1610.3 L274.2 1610.3 L274.7 1610.3 L275.2 1610.3 L275.7 1610.3 L276.2 1610.3 L276.7 1610.3 L277.2 1610.2 L277.7 1610.2 L278.2 1610.2 L278.7 1610.2 L279.2 1610.2 L279.7 1610.2 L280.2 1610.2 L280.7 1610.2 L281.2 1610.2 L281.7 1610.1 L282.2 1610.1 L282.7 1610.1 L283.2 1610.1 L283.7 1610.1 L284.2 1610.1 L284.7 1610.1 L285.2 1610.1 L285.7 1610.1 L286.2 1610.0 L286.7 1610.0 L287.2 1610.0 L287.7 1610.0 L288.2 1610.0 L288.7 1610.0 L289.2 1610.0 L289.7 1610.0 L290.2 1610.0 L290.7 1609.9 L291.2 1609.9 L291.7 1609.9 L292.2 1609.9 L292.7 1609.9 L293.2 1609.9 L293.7 1609.9 L294.2 1609.9 L294.7 1609.9 L295.2 1609.9 L295.7 1609.9 L296.2 1609.8 L296.7 1609.8 L297.2 1609.8 L297.7 1609.8 L298.2 1609.8 L298.7 1609.8 L299.2 1609.8 L299.7 1609.8 L300.2 1609.8 L300.7 1609.8 L301.2 1609.8 L301.7 1609.8 L302.2 1609.7 L302.7 1609.7 L303.2 1609.7 L303.7 1609.7 L304.2 1609.7 L304.7 1609.7 L305.2 1609.7 L305.7 1609.7 L306.2 1609.7 L306.7 1609.7 L307.2 1609.7 L307.7 1609.7 L308.2 1609.7 L308.7 1609.7 L309.2 1609.7 L309.7 1609.6 L310.2 1609.6 L310.7 1609.6 L311.2 1609.6 L311.7 1609.6 L312.2 1609.6 L312.7 1609.6 L313.2 1609.6 L313.7 1609.6 L314.2 1609.6 L314.7 1609.6 L315.2 1609.6 L315.7 1609.6 L316.2 1609.6 L316.7 1609.6 L317.2 1609.6 L317.7 1609.6 L318.2 1609.6 L318.7 1609.5 L319.2 1609.5 L319.7 1609.5 L320.2 1609.5 L320.7 1609.5 L321.2 1609.5 L321.7 1609.5 L322.2 1609.5 L322.7 1609.5 L323.2 1609.5 L323.7 1609.5 L324.2 1609.5 L324.7 1609.5 L325.2 1609.5 L325.7 1609.5 L326.2 1609.5 L326.7 1609.5 L327.2 1609.5 L327.7 1609.5 L328.2 1609.4 L328.7 1609.4 L329.2 1609.4 L329.7 1609.4 L330.2 1609.4 L330.7 1609.4 L331.2 1609.4 L331.7 1609.4 L332.2 1609.4 L332.7 1609.4 L333.2 1609.4 L333.7 1609.4 L334.2 1609.4 L334.7 1609.4 L335.2 1609.4 L335.7 1609.4 L336.2 1609.4 L336.7 1609.3 L337.2 1609.3 L337.7 1609.3 L338.2 1609.3 L338.7 1609.3 L339.2 1609.3 L339.7 1609.3 L340.2 1609.3 L340.7 1609.3 L341.2 1609.3 L341.7 1609.3 L342.2 1609.3 L342.7 1609.3 L343.2 1609.3 L343.7 1609.3 L344.2 1609.2 L344.7 1609.2 L345.2 1609.2 L345.7 1609.2 L346.2 1609.2 L346.7 1609.2 L347.2 1609.2 L347.7 1609.2 L348.2 1609.2 L348.7 1609.2 L349.2 1609.2 L349.7 1609.2 L350.2 1609.2 L350.7 1609.1 L351.2 1609.1 L351.7 1609.1 L352.2 1609.1 L352.7 1609.1 L353.2 1609.1 L353.7 1609.1 L354.2 1609.1 L354.7 1609.1 L355.2 1609.1 L355.7 1609.1 L356.2 1609.0 L356.7 1609.0 L357.2 1609.0 L357.7 1609.0 L358.2 1609.0 L358.7 1609.0 L359.2 1609.0 L359.7 1609.0 L360.2 1609.0 L360.7 1608.9 L361.2 1608.9 L361.7 1608.9 L362.2 1608.9 L362.7 1608.9 L363.2 1608.9 L363.7 1608.9 L364.2 1608.9 L364.7 1608.8 L365.2 1608.8 L365.7 1608.8 L366.2 1608.8 L366.7 1608.8 L367.2 1608.8 L367.7 1608.8 L368.2 1608.8 L368.7 1608.7 L369.2 1608.7 L369.7 1608.7 L370.2 1608.7 L370.7 1608.7 L371.2 1608.7 L371.7 1608.6 L372.2 1608.6 L372.7 1608.6 L373.2 1608.6 L373.7 1608.6 L374.2 1608.6 L374.7 1608.5 L375.2 1608.5 L375.7 1608.5 L376.2 1608.5 L376.7 1608.5 L377.2 1608.5 L377.7 1608.4 L378.2 1608.4 L378.7 1608.4 L379.2 1608.3 L379.7 1608.3 L380.2 1608.3 L380.7 1608.2 L381.2 1608.2 L381.7 1608.2 L382.2 1608.1 L382.7 1608.1 L383.2 1608.0 L383.7 1608.0 L384.2 1607.9 L384.7 1607.9 L385.2 1607.8 L385.7 1607.7 L386.2 1607.7 L386.7 1607.6 L387.2 1607.6 L387.7 1607.5 L388.2 1607.4 L388.7 1607.3 L389.2 1607.3 L389.7 1607.2 L390.2 1607.1 L390.7 1607.0 L391.2 1607.0 L391.7 1606.9 L392.2 1606.8 L392.7 1606.7 L393.2 1606.6 L393.7 1606.5 L394.2 1606.4 L394.7 1606.4 L395.2 1606.3 L395.7 1606.2 L396.2 1606.1 L396.7 1606.0 L397.2 1605.9 L397.7 1605.8 L398.2 1605.7 L398.7 1605.6 L399.2 1605.4 L399.7 1605.3 L400.2 1605.2 L400.7 1605.1 L401.2 1605.0 L401.7 1604.9 L402.2 1604.8 L402.7 1604.7 L403.2 1604.5 L403.7 1604.4 L404.2 1604.2 L404.7 1604.1 L405.2 1603.9 L405.7 1603.7 L406.2 1603.5 L406.7 1603.3 L407.2 1603.1 L407.7 1602.9 L408.2 1602.7 L408.7 1602.4 L409.2 1602.2 L409.7 1601.9 L410.2 1601.6 L410.7 1601.4 L411.2 1601.1 L411.7 1600.8 L412.2 1600.5 L412.7 1600.2 L413.2 1599.9 L413.7 1599.6 L414.2 1599.3 L414.7 1599.0 L415.2 1598.6 L415.7 1598.3 L416.2 1598.0 L416.7 1597.6 L417.2 1597.3 L417.7 1596.9 L418.2 1596.6 L418.7 1596.2 L419.2 1595.9 L419.7 1595.5 L420.2 1595.1 L420.7 1594.8 L421.2 1594.4 L421.7 1594.0 L422.2 1593.7 L422.7 1593.3 L423.2 1592.9 L423.7 1592.5 L424.2 1592.2 L424.7 1591.7 L425.2 1591.3 L425.7 1590.9 L426.2 1590.5 L426.7 1590.0 L427.2 1589.6 L427.7 1589.1 L428.2 1588.6 L428.7 1588.1 L429.2 1587.6 L429.7 1587.1 L430.2 1586.6 L430.7 1586.1 L431.2 1585.6 L431.7 1585.0 L432.2 1584.5 L432.7 1584.0 L433.2 1583.4 L433.7 1582.8 L434.2 1582.3 L434.7 1581.7 L435.2 1581.1 L435.7 1580.5 L436.2 1580.0 L436.7 1579.4 L437.2 1578.8 L437.7 1578.2 L438.2 1577.6 L438.7 1577.0 L439.2 1576.4 L439.7 1575.8 L440.2 1575.2 L440.7 1574.6 L441.2 1573.9 L441.7 1573.3 L442.2 1572.7 L442.7 1572.1 L443.2 1571.5 L443.7 1570.9 L444.2 1570.3 L444.7 1569.6 L445.2 1569.0 L445.7 1568.3 L446.2 1567.7 L446.7 1567.0 L447.2 1566.4 L447.7 1565.7 L448.2 1565.0 L448.7 1564.3 L449.2 1563.6 L449.7 1562.9 L450.2 1562.2 L450.7 1561.5 L451.2 1560.8 L451.7 1560.0 L452.2 1559.3 L452.7 1558.6 L453.2 1557.9 L453.7 1557.1 L454.2 1556.4 L454.7 1555.6 L455.2 1554.9 L455.7 1554.2 L456.2 1553.4 L456.7 1552.7 L457.2 1551.9 L457.7 1551.2 L458.2 1550.4 L458.7 1549.7 L459.2 1548.9 L459.7 1548.2 L460.2 1547.4 L460.7 1546.7 L461.2 1546.0 L461.7 1545.2 L462.2 1544.5 L462.7 1543.8 L463.2 1543.0 L463.7 1542.3 L464.2 1541.6 L464.7 1540.9 L465.2 1540.2 L465.7 1539.5 L466.2 1538.8 L466.7 1538.1 L467.2 1537.3 L467.7 1536.6 L468.2 1535.9 L468.7 1535.2 L469.2 1534.5 L469.7 1533.8 L470.2 1533.1 L470.7 1532.4 L471.2 1531.7 L471.7 1531.0 L472.2 1530.3 L472.7 1529.6 L473.2 1528.9 L473.7 1528.2 L474.2 1527.5 L474.7 1526.8 L475.2 1526.1 L475.7 1525.4 L476.2 1524.7 L476.7 1524.0 L477.2 1523.3 L477.7 1522.6 L478.2 1521.9 L478.7 1521.1 L479.2 1520.4 L479.7 1519.7 L480.2 1519.0 L480.7 1518.2 L481.2 1517.5 L481.7 1516.7 L482.2 1516.0 L482.7 1515.2 L483.2 1514.5 L483.7 1513.7 L484.2 1513.0 L484.7 1512.2 L485.2 1511.4 L485.7 1510.6 L486.2 1509.8 L486.7 1509.0 L487.2 1508.2 L487.7 1507.4 L488.2 1506.5 L488.7 1505.7 L489.2 1504.8 L489.7 1504.0 L490.2 1503.1 L490.7 1502.3 L491.2 1501.4 L491.7 1500.5 L492.2 1499.7 L492.7 1498.8 L493.2 1497.9 L493.7 1497.1 L494.2 1496.2 L494.7 1495.3 L495.2 1494.5 L495.7 1493.6 L496.2 1492.7 L496.7 1491.9 L497.2 1491.0 L497.7 1490.2 L498.2 1489.4 L498.7 1488.5 L499.2 1487.7 L499.7 1486.9 L500.2 1486.1 L500.7 1485.3 L501.2 1484.6 L501.7 1483.8 L502.2 1483.0 L502.7 1482.3 L503.2 1481.6 L503.7 1480.8 L504.2 1480.1 L504.7 1479.4 L505.2 1478.7 L505.7 1478.0 L506.2 1477.2 L506.7 1476.5 L507.2 1475.8 L507.7 1475.1 L508.2 1474.4 L508.7 1473.7 L509.2 1473.0 L509.7 1472.4 L510.2 1471.7 L510.7 1471.0 L511.2 1470.3 L511.7 1469.7 L512.2 1469.0 L512.7 1468.4 L513.2 1467.7 L513.7 1467.1 L514.2 1466.4 L514.7 1465.8 L515.2 1465.2 L515.7 1464.5 L516.2 1463.9 L516.7 1463.3 L517.2 1462.7 L517.7 1462.1 L518.2 1461.5 L518.7 1460.9 L519.2 1460.3 L519.7 1459.7 L520.2 1459.2 L520.7 1458.6 L521.2 1458.0 L521.7 1457.5 L522.2 1456.9 L522.7 1456.3 L523.2 1455.8 L523.7 1455.2 L524.2 1454.6 L524.7 1454.1 L525.2 1453.5 L525.7 1453.0 L526.2 1452.4 L526.7 1451.9 L527.2 1451.4 L527.7 1450.9 L528.2 1450.4 L528.7 1449.8 L529.2 1449.4 L529.7 1448.9 L530.2 1448.4 L530.7 1447.9 L531.2 1447.5 L531.7 1447.0 L532.2 1446.6 L532.7 1446.2 L533.2 1445.8 L533.7 1445.4 L534.2 1445.0 L534.7 1444.6 L535.2 1444.3 L535.7 1443.9 L536.2 1443.5 L536.7 1443.2 L537.2 1442.8 L537.7 1442.5 L538.2 1442.1 L538.7 1441.8 L539.2 1441.4 L539.7 1441.1 L540.2 1440.7 L540.7 1440.4 L541.2 1440.1 L541.7 1439.8 L542.2 1439.5 L542.7 1439.2 L543.2 1438.9 L543.7 1438.6 L544.2 1438.3 L544.7 1438.1 L545.2 1437.9 L545.7 1437.6 L546.2 1437.4 L546.7 1437.2 L547.2 1437.0 L547.7 1436.9 L548.2 1436.7 L548.7 1436.6 L549.2 1436.5 L549.7 1436.4 L550.2 1436.3 L550.7 1436.3 L551.2 1436.2 L551.7 1436.1 L552.2 1436.0 L552.7 1435.9 L553.2 1435.8 L553.7 1435.8 L554.2 1435.7 L554.7 1435.6 L555.2 1435.5 L555.7 1435.5 L556.2 1435.4 L556.7 1435.3 L557.2 1435.3 L557.7 1435.2 L558.2 1435.1 L558.7 1435.1 L559.2 1435.0 L559.7 1435.0 L560.2 1434.9 L560.7 1434.9 L561.2 1434.8 L561.7 1434.8 L562.2 1434.7 L562.7 1434.7 L563.2 1434.7 L563.7 1434.6 L564.2 1434.6 L564.7 1434.6 L565.2 1434.6 L565.7 1434.5 L566.2 1434.5 L566.7 1434.5 L567.2 1434.5 L567.7 1434.5 L568.2 1434.5 L568.7 1434.5 L569.2 1434.5 L569.7 1434.6 L570.2 1434.7 L570.7 1434.9 L571.2 1435.0 L571.7 1435.2 L572.2 1435.5 L572.7 1435.7 L573.2 1436.0 L573.7 1436.3 L574.2 1436.6 L574.7 1436.9 L575.2 1437.2 L575.7 1437.6 L576.2 1437.9 L576.7 1438.3 L577.2 1438.6 L577.7 1439.0 L578.2 1439.4 L578.7 1439.7 L579.2 1440.1 L579.7 1440.5 L580.2 1440.8 L580.7 1441.2 L581.2 1441.5 L581.7 1441.9 L582.2 1442.2 L582.7 1442.5 L583.2 1442.9 L583.7 1443.3 L584.2 1443.7 L584.7 1444.0 L585.2 1444.4 L585.7 1444.8 L586.2 1445.3 L586.7 1445.7 L587.2 1446.1 L587.7 1446.5 L588.2 1446.9 L588.7 1447.4 L589.2 1447.8 L589.7 1448.2 L590.2 1448.7 L590.7 1449.1 L591.2 1449.5 L591.7 1449.9 L592.2 1450.4 L592.7 1450.8 L593.2 1451.2 L593.7 1451.6 L594.2 1452.0 L594.7 1452.3 L595.2 1452.7 L595.7 1453.1 L596.2 1453.4 L596.7 1453.8 L597.2 1454.1 L597.7 1454.4 L598.2 1454.7 L598.7 1455.0 L599.2 1455.3 L599.7 1455.6 L600.2 1455.8 L600.7 1456.1 L601.2 1456.4 L601.7 1456.6 L602.2 1456.9 L602.7 1457.1 L603.2 1457.4 L603.7 1457.6 L604.2 1457.9 L604.7 1458.2 L605.2 1458.4 L605.7 1458.7 L606.2 1459.0 L606.7 1459.3 L607.2 1459.6 L607.7 1459.9 L608.2 1460.2 L608.7 1460.6 L609.2 1460.9 L609.7 1461.3 L610.2 1461.7 L610.7 1462.1 L611.2 1462.5 L611.7 1462.9 L612.2 1463.4 L612.7 1463.9 L613.2 1464.5 L613.7 1465.0 L614.2 1465.6 L614.7 1466.2 L615.2 1466.9 L615.7 1467.5 L616.2 1468.2 L616.7 1468.9 L617.2 1469.6 L617.7 1470.3 L618.2 1471.1 L618.7 1471.8 L619.2 1472.6 L619.7 1473.3 L620.2 1474.1 L620.7 1474.8 L621.2 1475.6 L621.7 1476.4 L622.2 1477.2 L622.7 1478.1 L623.2 1479.0 L623.7 1479.9 L624.2 1480.9 L624.7 1481.8 L625.2 1482.8 L625.7 1483.8 L626.2 1484.8 L626.7 1485.8 L627.2 1486.8 L627.7 1487.8 L628.2 1488.8 L628.7 1489.8 L629.2 1490.7 L629.7 1491.6 L630.2 1492.5 L630.7 1493.3 L631.2 1494.1 L631.7 1494.9 L632.2 1495.6 L632.7 1496.4 L633.2 1497.1 L633.7 1497.9 L634.2 1498.6 L634.7 1499.3 L635.2 1500.0 L635.7 1500.7 L636.2 1501.4 L636.7 1502.1 L637.2 1502.8 L637.7 1503.4 L638.2 1504.0 L638.7 1504.7 L639.2 1505.3 L639.7 1505.8 L640.2 1506.4 L640.7 1506.9 L641.2 1507.5 L641.7 1508.0 L642.2 1508.4 L642.7 1508.9 L643.2 1509.3 L643.7 1509.7 L644.2 1510.1 L644.7 1510.5 L645.2 1510.9 L645.7 1511.2 L646.2 1511.6 L646.7 1511.9 L647.2 1512.3 L647.7 1512.6 L648.2 1512.9 L648.7 1513.3 L649.2 1513.6 L649.7 1513.9 L650.2 1514.2 L650.7 1514.5 L651.2 1514.8 L651.7 1515.0 L652.2 1515.3 L652.7 1515.6 L653.2 1515.9 L653.7 1516.1 L654.2 1516.4 L654.7 1516.6 L655.2 1516.9 L655.7 1517.1 L656.2 1517.4 L656.7 1517.6 L657.2 1517.9 L657.7 1518.1 L658.2 1518.3 L658.7 1518.6 L659.2 1518.8 L659.7 1519.0 L660.2 1519.3 L660.7 1519.5 L661.2 1519.7 L661.7 1520.0 L662.2 1520.2 L662.7 1520.4 L663.2 1520.6 L663.7 1520.8 L664.2 1521.0 L664.7 1521.3 L665.2 1521.5 L665.7 1521.7 L666.2 1521.9 L666.7 1522.1 L667.2 1522.2 L667.7 1522.4 L668.2 1522.6 L668.7 1522.8 L669.2 1523.0 L669.7 1523.2 L670.2 1523.4 L670.7 1523.6 L671.2 1523.7 L671.7 1523.9 L672.2 1524.1 L672.7 1524.3 L673.2 1524.4 L673.7 1524.6 L674.2 1524.8 L674.7 1525.0 L675.2 1525.1 L675.7 1525.3 L676.2 1525.5 L676.7 1525.7 L677.2 1525.8 L677.7 1526.0 L678.2 1526.2 L678.7 1526.4 L679.2 1526.5 L679.7 1526.7 L680.2 1526.9 L680.7 1527.1 L681.2 1527.3 L681.7 1527.4 L682.2 1527.6 L682.7 1527.8 L683.2 1528.0 L683.7 1528.2 L684.2 1528.4 L684.7 1528.6 L685.2 1528.8 L685.7 1529.0 L686.2 1529.2 L686.7 1529.4 L687.2 1529.6 L687.7 1529.8 L688.2 1530.0 L688.7 1530.2 L689.2 1530.4 L689.7 1530.7 L690.2 1530.9 L690.7 1531.1 L691.2 1531.3 L691.7 1531.6 L692.2 1531.8 L692.7 1532.0 L693.2 1532.2 L693.7 1532.5 L694.2 1532.7 L694.7 1532.9 L695.2 1533.1 L695.7 1533.4 L696.2 1533.6 L696.7 1533.8 L697.2 1534.0 L697.7 1534.3 L698.2 1534.5 L698.7 1534.7 L699.2 1534.9 L699.7 1535.1 L700.2 1535.3 L700.7 1535.5 L701.2 1535.7 L701.7 1535.9 L702.2 1536.1 L702.7 1536.3 L703.2 1536.5 L703.7 1536.7 L704.2 1536.9 L704.7 1537.1 L705.2 1537.2 L705.7 1537.4 L706.2 1537.5 L706.7 1537.7 L707.2 1537.8 L707.7 1538.0 L708.2 1538.1 L708.7 1538.2 L709.2 1538.4 L709.7 1538.5 L710.2 1538.6 L710.7 1538.7 L711.2 1538.8 L711.7 1538.9 L712.2 1539.0 L712.7 1539.1 L713.2 1539.1 L713.7 1539.2 L714.2 1539.3 L714.7 1539.4 L715.2 1539.5 L715.7 1539.6 L716.2 1539.7 L716.7 1539.8 L717.2 1539.9 L717.7 1539.9 L718.2 1540.0 L718.7 1540.1 L719.2 1540.2 L719.7 1540.3 L720.2 1540.4 L720.7 1540.4 L721.2 1540.5 L721.7 1540.6 L722.2 1540.7 L722.7 1540.7 L723.2 1540.8 L723.7 1540.9 L724.2 1540.9 L724.7 1541.0 L725.2 1541.0 L725.7 1541.1 L726.2 1541.1 L726.7 1541.2 L727.2 1541.2 L727.7 1541.3 L728.2 1541.3 L728.7 1541.4 L729.2 1541.4 L729.7 1541.4 L730.2 1541.5 L730.7 1541.5 L731.2 1541.5 L731.7 1541.6 L732.2 1541.6 L732.7 1541.6 L733.2 1541.6 L733.7 1541.6 L734.2 1541.6 L734.7 1541.6 L735.2 1541.6 L735.7 1541.6 L736.2 1541.6 L736.7 1541.6 L737.2 1541.5 L737.7 1541.5 L738.2 1541.5 L738.7 1541.5 L739.2 1541.4 L739.7 1541.4 L740.2 1541.4 L740.7 1541.3 L741.2 1541.3 L741.7 1541.2 L742.2 1541.2 L742.7 1541.1 L743.2 1541.1 L743.7 1541.0 L744.2 1541.0 L744.7 1540.9 L745.2 1540.8 L745.7 1540.8 L746.2 1540.7 L746.7 1540.6 L747.2 1540.5 L747.7 1540.5 L748.2 1540.4 L748.7 1540.3 L749.2 1540.2 L749.7 1540.2 L750.2 1540.1 L750.7 1540.0 L751.2 1539.9 L751.7 1539.8 L752.2 1539.7 L752.7 1539.6 L753.2 1539.6 L753.7 1539.5 L754.2 1539.4 L754.7 1539.3 L755.2 1539.2 L755.7 1539.1 L756.2 1539.0 L756.7 1538.9 L757.2 1538.8 L757.7 1538.7 L758.2 1538.6 L758.7 1538.5 L759.2 1538.3 L759.7 1538.2 L760.2 1538.1 L760.7 1537.9 L761.2 1537.7 L761.7 1537.5 L762.2 1537.3 L762.7 1537.1 L763.2 1536.9 L763.7 1536.7 L764.2 1536.5 L764.7 1536.2 L765.2 1536.0 L765.7 1535.8 L766.2 1535.5 L766.7 1535.3 L767.2 1535.0 L767.7 1534.8 L768.2 1534.5 L768.7 1534.2 L769.2 1534.0 L769.7 1533.7 L770.2 1533.4 L770.7 1533.2 L771.2 1532.9 L771.7 1532.7 L772.2 1532.4 L772.7 1532.1 L773.2 1531.9 L773.7 1531.6 L774.2 1531.4 L774.7 1531.2 L775.2 1530.9 L775.7 1530.7 L776.2 1530.5 L776.7 1530.3 L777.2 1530.1 L777.7 1529.9 L778.2 1529.7 L778.7 1529.5 L779.2 1529.3 L779.7 1529.1 L780.2 1528.9 L780.7 1528.7 L781.2 1528.5 L781.7 1528.3 L782.2 1528.2 L782.7 1528.0 L783.2 1527.8 L783.7 1527.6 L784.2 1527.4 L784.7 1527.3 L785.2 1527.1 L785.7 1526.9 L786.2 1526.7 L786.7 1526.6 L787.2 1526.4 L787.7 1526.2 L788.2 1526.0 L788.7 1525.9 L789.2 1525.7 L789.7 1525.5 L790.2 1525.4 L790.7 1525.2 L791.2 1525.0 L791.7 1524.9 L792.2 1524.7 L792.7 1524.5 L793.2 1524.4 L793.7 1524.2 L794.2 1524.0 L794.7 1523.9 L795.2 1523.7 L795.7 1523.5 L796.2 1523.4 L796.7 1523.2 L797.2 1523.1 L797.7 1522.9 L798.2 1522.8 L798.7 1522.7 L799.2 1522.5 L799.7 1522.4 L800.2 1522.3 L800.7 1522.1 L801.2 1522.0 L801.7 1521.8 L802.2 1521.7 L802.7 1521.6 L803.2 1521.4 L803.7 1521.3 L804.2 1521.1 L804.7 1521.0 L805.2 1520.8 L805.7 1520.7 L806.2 1520.5 L806.7 1520.3 L807.2 1520.2 L807.7 1520.0 L808.2 1519.8 L808.7 1519.6 L809.2 1519.3 L809.7 1519.1 L810.2 1518.9 L810.7 1518.6 L811.2 1518.4 L811.7 1518.1 L812.2 1517.8 L812.7 1517.5 L813.2 1517.2 L813.7 1516.9 L814.2 1516.5 L814.7 1516.2 L815.2 1515.8 L815.7 1515.4 L816.2 1515.0 L816.7 1514.5 L817.2 1514.1 L817.7 1513.6 L818.2 1513.1 L818.7 1512.6 L819.2 1512.0 L819.7 1511.3 L820.2 1510.6 L820.7 1509.8 L821.2 1509.0 L821.7 1508.2 L822.2 1507.2 L822.7 1506.3 L823.2 1505.3 L823.7 1504.2 L824.2 1503.1 L824.7 1502.0 L825.2 1500.8 L825.7 1499.5 L826.2 1498.1 L826.7 1496.5 L827.2 1494.9 L827.7 1493.0 L828.2 1491.1 L828.7 1489.0 L829.2 1486.8 L829.7 1484.5 L830.2 1482.0 L830.7 1479.1 L831.2 1476.0 L831.7 1472.6 L832.2 1469.1 L832.7 1465.3 L833.2 1461.3 L833.7 1456.7 L834.2 1451.7 L834.7 1446.3 L835.2 1440.9 L835.7 1435.7 L836.2 1430.8 L836.7 1425.9 L837.2 1421.1 L837.7 1416.2 L838.2 1411.3 L838.7 1406.2 L839.2 1400.5 L839.7 1394.6 L840.2 1389.3 L840.7 1384.8 L841.2 1381.7 L841.7 1378.9 L842.2 1376.2 L842.7 1373.7 L843.2 1371.3 L843.7 1369.1 L844.2 1367.2 L844.7 1365.6 L845.2 1364.3 L845.7 1363.3 L846.2 1362.7 L846.7 1362.6 L847.2 1363.4 L847.7 1365.1 L848.2 1367.6 L848.7 1370.7 L849.2 1374.4 L849.7 1378.5 L850.2 1382.8 L850.7 1389.0 L851.2 1397.5 L851.7 1406.2 L852.2 1414.0 L852.7 1422.1 L853.2 1428.0 L853.7 1430.6 L854.2 1432.8 L854.7 1434.6 L855.2 1436.1 L855.7 1437.1 L856.2 1437.7 L856.7 1437.8 L857.2 1437.5 L857.7 1437.0 L858.2 1436.2 L858.7 1435.3 L859.2 1434.2 L859.7 1433.1 L860.2 1431.9 L860.7 1430.7 L861.2 1429.6 L861.7 1428.5 L862.2 1427.6 L862.7 1426.8 L863.2 1426.3 L863.7 1426.0 L864.2 1426.2 L864.7 1427.1 L865.2 1428.7 L865.7 1430.9 L866.2 1433.4 L866.7 1436.1 L867.2 1438.9 L867.7 1441.6 L868.2 1444.1 L868.7 1446.3 L869.2 1448.9 L869.7 1451.5 L870.2 1454.1 L870.7 1456.5 L871.2 1458.5 L871.7 1460.1 L872.2 1461.1 L872.7 1462.1 L873.2 1462.8 L873.7 1463.5 L874.2 1464.1 L874.7 1464.6 L875.2 1465.1 L875.7 1465.7 L876.2 1466.2 L876.7 1466.9 L877.2 1467.6 L877.7 1468.5 L878.2 1469.6 L878.7 1471.1 L879.2 1472.9 L879.7 1474.9 L880.2 1477.0 L880.7 1479.0 L881.2 1480.7 L881.7 1482.0 L882.2 1483.3 L882.7 1484.6 L883.2 1485.8 L883.7 1487.1 L884.2 1488.2 L884.7 1489.3 L885.2 1490.3 L885.7 1491.2 L886.2 1491.9 L886.7 1492.4 L887.2 1492.8 L887.7 1492.9 L888.2 1492.8 L888.7 1492.4 L889.2 1491.9 L889.7 1491.2 L890.2 1490.4 L890.7 1489.5 L891.2 1488.5 L891.7 1487.5 L892.2 1486.5 L892.7 1485.5 L893.2 1484.6 L893.7 1483.5 L894.2 1482.2 L894.7 1480.8 L895.2 1479.4 L895.7 1477.9 L896.2 1476.6 L896.7 1475.4 L897.2 1474.5 L897.7 1473.8 L898.2 1473.5 L898.7 1473.8 L899.2 1474.9 L899.7 1476.6 L900.2 1478.9 L900.7 1481.7 L901.2 1484.7 L901.7 1487.9 L902.2 1491.8 L902.7 1497.6 L903.2 1504.2 L903.7 1510.6 L904.2 1515.8 L904.7 1520.3 L905.2 1524.4 L905.7 1528.3 L906.2 1532.0 L906.7 1535.3 L907.2 1538.4 L907.7 1541.2 L908.2 1543.8 L908.7 1546.2 L909.2 1548.5 L909.7 1550.8 L910.2 1553.0 L910.7 1555.2 L911.2 1557.5 L911.7 1560.0 L912.2 1562.7 L912.7 1565.6 L913.2 1568.5 L913.7 1571.3 L914.2 1573.7 L914.7 1575.7 L915.2 1577.1 L915.7 1578.3 L916.2 1579.4 L916.7 1580.4 L917.2 1581.3 L917.7 1582.1 L918.2 1582.9 L918.7 1583.6 L919.2 1584.2 L919.7 1584.8 L920.2 1585.3 L920.7 1585.8 L921.2 1586.3 L921.7 1586.8 L922.2 1587.2 L922.7 1587.7 L923.2 1588.1 L923.7 1588.6 L924.2 1589.0 L924.7 1589.3 L925.2 1589.7 L925.7 1590.0 L926.2 1590.3 L926.7 1590.6 L927.2 1590.9 L927.7 1591.1 L928.2 1591.3 L928.7 1591.4 L929.2 1591.5 L929.7 1591.6 L930.2 1591.7 L930.7 1591.8 L931.2 1591.9 L931.7 1592.0 L932.2 1592.0 L932.7 1592.1 L933.2 1592.2 L933.7 1592.2 L934.2 1592.3 L934.7 1592.3 L935.2 1592.4 L935.7 1592.4 L936.2 1592.5 L936.7 1592.5 L937.2 1592.6 L937.7 1592.6 L938.2 1592.6 L938.7 1592.7 L939.2 1592.7 L939.7 1592.8 L940.2 1592.8 L940.7 1592.8 L941.2 1592.9 L941.7 1592.9 L942.2 1593.0 L942.7 1593.0 L943.2 1593.1 L943.7 1593.1 L944.2 1593.2 L944.7 1593.3 L945.2 1593.3 L945.7 1593.4 L946.2 1593.5 L946.7 1593.5 L947.2 1593.6 L947.7 1593.7 L948.2 1593.8 L948.7 1593.8 L949.2 1593.9 L949.7 1594.0 L950.2 1594.1 L950.7 1594.1 L951.2 1594.2 L951.7 1594.3 L952.2 1594.4 L952.7 1594.5 L953.2 1594.6 L953.7 1594.7 L954.2 1594.8 L954.7 1594.9 L955.2 1595.0 L955.7 1595.1 L956.2 1595.3 L956.7 1595.4 L957.2 1595.6 L957.7 1595.8 L958.2 1596.0 L958.7 1596.2 L959.2 1596.5 L959.7 1596.7 L960.2 1596.9 L960.7 1597.2 L961.2 1597.4 L961.7 1597.7 L962.2 1597.9 L962.7 1598.2 L963.2 1598.4 L963.7 1598.7 L964.2 1598.9 L964.7 1599.1 L965.2 1599.4 L965.7 1599.6 L966.2 1599.8 L966.7 1600.0 L967.2 1600.1 L967.7 1600.3 L968.2 1600.4 L968.7 1600.5 L969.2 1600.7 L969.7 1600.8 L970.2 1601.0 L970.7 1601.1 L971.2 1601.2 L971.7 1601.4 L972.2 1601.5 L972.7 1601.6 L973.2 1601.7 L973.7 1601.8 L974.2 1601.9 L974.7 1602.0 L975.2 1602.0 L975.7 1602.1 L976.2 1602.1 L976.7 1602.1 L977.2 1602.1 L977.7 1602.1 L978.2 1602.0 L978.7 1601.9 L979.2 1601.9 L979.7 1601.8 L980.2 1601.7 L980.7 1601.6 L981.2 1601.5 L981.7 1601.5 L982.2 1601.4 L982.7 1601.3 L983.2 1601.3 L983.7 1601.2 L984.2 1601.2 L984.7 1601.2 L985.2 1601.2 L985.7 1601.3 L986.2 1601.3 L986.7 1601.4 L987.2 1601.5 L987.7 1601.6 L988.2 1601.7 L988.7 1601.9 L989.2 1602.0 L989.7 1602.2 L990.2 1602.3 L990.7 1602.5 L991.2 1602.6 L991.7 1602.8 L992.2 1602.9 L992.7 1603.1 L993.2 1603.2 L993.7 1603.4 L994.2 1603.7 L994.7 1603.9 L995.2 1604.2 L995.7 1604.4 L996.2 1604.6 L996.7 1604.9 L997.2 1605.1 L997.7 1605.3 L998.2 1605.4 L998.7 1605.5 L999.2 1605.6 L999.7 1605.6 L1000.2 1605.6 L1000.7 1605.6 L1001.2 1605.5 L1001.7 1605.5 L1002.2 1605.5 L1002.7 1605.4 L1003.2 1605.3 L1003.7 1605.3 L1004.2 1605.2 L1004.7 1605.2 L1005.2 1605.1 L1005.7 1605.0 L1006.2 1605.0 L1006.7 1604.9 L1007.2 1604.9 L1007.7 1604.8 L1008.2 1604.8 L1008.7 1604.7 L1009.2 1604.7 L1009.7 1604.7 L1010.2 1604.7 L1010.7 1604.7 L1011.2 1604.7 L1011.7 1604.7 L1012.2 1604.7 L1012.7 1604.8 L1013.2 1604.8 L1013.7 1604.8 L1014.2 1604.8 L1014.7 1604.9 L1015.2 1604.9 L1015.7 1604.9 L1016.2 1605.0 L1016.7 1605.0 L1017.2 1605.1 L1017.7 1605.1 L1018.2 1605.2 L1018.7 1605.2 L1019.2 1605.3 L1019.7 1605.3 L1020.2 1605.4 L1020.7 1605.4 L1021.2 1605.5 L1021.7 1605.5 L1022.2 1605.6 L1022.7 1605.6 L1023.2 1605.7 L1023.7 1605.7 L1024.2 1605.8 L1024.7 1605.8 L1025.2 1605.9 L1025.7 1606.0 L1026.2 1606.0 L1026.7 1606.1 L1027.2 1606.1 L1027.7 1606.1 L1028.2 1606.2 L1028.7 1606.2 L1029.2 1606.3 L1029.7 1606.3 L1030.2 1606.3 L1030.7 1606.4 L1031.2 1606.4 L1031.7 1606.4 L1032.2 1606.4 L1032.7 1606.5 L1033.2 1606.5 L1033.7 1606.5 L1034.2 1606.5 L1034.7 1606.5 L1035.2 1606.5 L1035.7 1606.5 L1036.2 1606.5 L1036.7 1606.4 L1037.2 1606.4 L1037.7 1606.3 L1038.2 1606.3 L1038.7 1606.2 L1039.2 1606.2 L1039.7 1606.1 L1040.2 1606.0 L1040.7 1606.0 L1041.2 1605.9 L1041.7 1605.8 L1042.2 1605.8 L1042.7 1605.7 L1043.2 1605.7 L1043.7 1605.7 L1044.2 1605.6 L1044.7 1605.6 L1045.2 1605.6 L1045.7 1605.6 L1046.2 1605.7 L1046.7 1605.8 L1047.2 1605.9 L1047.7 1606.1 L1048.2 1606.3 L1048.7 1606.5 L1049.2 1606.8 L1049.7 1607.0 L1050.2 1607.3 L1050.7 1607.6 L1051.2 1607.9 L1051.7 1608.2 L1052.2 1608.4 L1052.7 1608.7 L1053.2 1609.0 L1053.7 1609.2 L1054.2 1609.4 L1054.7 1609.6 L1055.2 1609.8 L1055.7 1610.0 L1056.2 1610.1 L1056.7 1610.2 L1057.2 1610.3 L1057.7 1610.4 L1058.2 1610.5 L1058.7 1610.6 L1059.2 1610.7 L1059.7 1610.8 L1060.2 1610.9 L1060.7 1610.9 L1061.2 1611.0 L1061.7 1611.1 L1062.2 1611.2 L1062.7 1611.3 L1063.2 1611.4 L1063.7 1611.5 L1064.2 1611.5 L1064.7 1611.6 L1065.2 1611.7 L1065.7 1611.7 L1066.2 1611.8 L1066.7 1611.9 L1067.2 1611.9 L1067.7 1612.0 L1068.2 1612.0 L1068.7 1612.1 L1069.2 1612.1 L1069.7 1612.2 L1070.2 1612.2 L1070.7 1612.2 L1071.2 1612.2 L1071.7 1612.3 L1072.2 1612.3 L1072.7 1612.3 L1073.2 1612.3 L1073.7 1612.3 L1074.2 1612.3 L1074.7 1612.3 L1075.2 1612.3 L1075.7 1612.2 L1076.2 1612.2 L1076.7 1612.2 L1077.2 1612.2 L1077.7 1612.1 L1078.2 1612.1 L1078.7 1612.0 L1079.2 1612.0 L1079.7 1611.9 L1080.2 1611.9 L1080.7 1611.8 L1081.2 1611.8 L1081.7 1611.7 L1082.2 1611.7 L1082.7 1611.6 L1083.2 1611.6 L1083.7 1611.5 L1084.2 1611.4 L1084.7 1611.4 L1085.2 1611.3 L1085.7 1611.3 L1086.2 1611.2 L1086.7 1611.1 L1087.2 1611.1 L1087.7 1611.0 L1088.2 1611.0 L1088.7 1610.9 L1089.2 1610.9 L1089.7 1610.8 L1090.2 1610.8 L1090.7 1610.8 L1091.2 1610.7 L1091.7 1610.7 L1092.2 1610.7 L1092.7 1610.6 L1093.2 1610.6 L1093.7 1610.6 L1094.2 1610.6 L1094.7 1610.6 L1095.2 1610.6 L1095.7 1610.6 L1096.2 1610.6 L1096.7 1610.6 L1097.2 1610.6 L1097.7 1610.6 L1098.2 1610.6 L1098.7 1610.6 L1099.2 1610.6 L1099.7 1610.6 L1100.2 1610.7 L1100.7 1610.7 L1101.2 1610.7 L1101.7 1610.7 L1102.2 1610.7 L1102.7 1610.7 L1103.2 1610.7 L1103.7 1610.7 L1104.2 1610.8 L1104.7 1610.8 L1105.2 1610.8 L1105.7 1610.8 L1106.2 1610.8 L1106.7 1610.8 L1107.2 1610.8 L1107.7 1610.9 L1108.2 1610.9 L1108.7 1610.9 L1109.2 1610.9 L1109.7 1610.9 L1110.2 1611.0 L1110.7 1611.0 L1111.2 1611.0 L1111.7 1611.0 L1112.2 1611.0 L1112.7 1611.1 L1113.2 1611.1 L1113.7 1611.1 L1114.2 1611.1 L1114.7 1611.2 L1115.2 1611.2 L1115.7 1611.2 L1116.2 1611.2 L1116.7 1611.2 L1117.2 1611.3 L1117.7 1611.3 L1118.2 1611.3 L1118.7 1611.3 L1119.2 1611.4 L1119.7 1611.4 L1120.2 1611.4 L1120.7 1611.4 L1121.2 1611.5 L1121.7 1611.5 L1122.2 1611.5 L1122.7 1611.6 L1123.2 1611.6 L1123.7 1611.7 L1124.2 1611.7 L1124.7 1611.8 L1125.2 1611.8 L1125.7 1611.9 L1126.2 1611.9 L1126.7 1612.0 L1127.2 1612.0 L1127.7 1612.1 L1128.2 1612.1 L1128.7 1612.2 L1129.2 1612.3 L1129.7 1612.3 L1130.2 1612.4 L1130.7 1612.4 L1131.2 1612.5 L1131.7 1612.6 L1132.2 1612.6 L1132.7 1612.7 L1133.2 1612.8 L1133.7 1612.8 L1134.2 1612.9 L1134.7 1613.0 L1135.2 1613.0 L1135.7 1613.1 L1136.2 1613.1 L1136.7 1613.2 L1137.2 1613.3 L1137.7 1613.3 L1138.2 1613.4 L1138.7 1613.4 L1139.2 1613.5 L1139.7 1613.5 L1140.2 1613.6 L1140.7 1613.6 L1141.2 1613.6 L1141.7 1613.7 L1142.2 1613.7 L1142.7 1613.8 L1143.2 1613.8 L1143.7 1613.8 L1144.2 1613.8 L1144.7 1613.9 L1145.2 1613.9 L1145.7 1613.9 L1146.2 1613.9 L1146.7 1613.9 L1147.2 1613.9 L1147.7 1613.9 L1148.2 1613.9 L1148.7 1613.9 L1149.2 1613.9 L1149.7 1613.9 L1150.2 1613.9 L1150.7 1613.9 L1151.2 1613.9 L1151.7 1613.9 L1152.2 1613.9 L1152.7 1613.9 L1153.2 1613.9 L1153.7 1613.9 L1154.2 1613.9 L1154.7 1613.9 L1155.2 1613.9 L1155.7 1613.9 L1156.2 1613.9 L1156.7 1613.9 L1157.2 1613.9 L1157.7 1613.9 L1158.2 1613.9 L1158.7 1613.9 L1159.2 1613.9 L1159.7 1613.9 L1160.2 1613.9 L1160.7 1613.9 L1161.2 1613.9 L1161.7 1613.9 L1162.2 1613.9 L1162.7 1613.9 L1163.2 1613.9 L1163.7 1613.9 L1164.2 1613.9 L1164.7 1613.9 L1165.2 1613.9 L1165.7 1613.9 L1166.2 1613.9 L1166.7 1613.9 L1167.2 1613.9 L1167.7 1613.9 L1168.2 1613.9 L1168.7 1613.9 L1169.2 1613.9 L1169.7 1613.9 L1170.2 1613.9 L1170.7 1613.8 L1171.2 1613.8 L1171.7 1613.8 L1172.2 1613.8 L1172.7 1613.8 L1173.2 1613.8 L1173.7 1613.8 L1174.2 1613.8 L1174.7 1613.8 L1175.2 1613.8 L1175.7 1613.8 L1176.2 1613.8 L1176.7 1613.8 L1177.2 1613.8 L1177.7 1613.8 L1178.2 1613.8 L1178.7 1613.8 L1179.2 1613.8 L1179.7 1613.8 L1180.2 1613.8 L1180.7 1613.8 L1181.2 1613.8 L1181.7 1613.8 L1182.2 1613.8 L1182.7 1613.8 L1183.2 1613.8 L1183.7 1613.8 L1184.2 1613.8 L1184.7 1613.8 L1185.2 1613.8 L1185.7 1613.8 L1186.2 1613.8 L1186.7 1613.8 L1187.2 1613.8 L1187.7 1613.8 L1188.2 1613.8 L1188.7 1613.7 L1189.2 1613.7 L1189.7 1613.7 L1190.2 1613.7 L1190.7 1613.7 L1191.2 1613.7 L1191.7 1613.7 L1192.2 1613.7 L1192.7 1613.7 L1193.2 1613.7 L1193.7 1613.7 L1194.2 1613.7 L1194.7 1613.7 L1195.2 1613.7 L1195.7 1613.7 L1196.2 1613.7 L1196.7 1613.7 L1197.2 1613.7 L1197.7 1613.7 L1198.2 1613.7 L1198.7 1613.7 L1199.2 1613.7 L1199.7 1613.7 L1200.2 1613.7 L1200.7 1613.7 L1201.2 1613.7 L1201.7 1613.6 L1202.2 1613.6 L1202.7 1613.6 L1203.2 1613.6 L1203.7 1613.6 L1204.2 1613.6 L1204.7 1613.6 L1205.2 1613.6 L1205.7 1613.6 L1206.2 1613.6 L1206.7 1613.6 L1207.2 1613.6 L1207.7 1613.6 L1208.2 1613.6 L1208.7 1613.6 L1209.2 1613.6 L1209.7 1613.6 L1210.2 1613.6 L1210.7 1613.6 L1211.2 1613.6 L1211.7 1613.6 L1212.2 1613.6 L1212.7 1613.5 L1213.2 1613.5 L1213.7 1613.5 L1214.2 1613.5 L1214.7 1613.5 L1215.2 1613.5 L1215.7 1613.5 L1216.2 1613.5 L1216.7 1613.5 L1217.2 1613.5 L1217.7 1613.5 L1218.2 1613.5 L1218.7 1613.5 L1219.2 1613.5 L1219.7 1613.5 L1220.2 1613.5 L1220.7 1613.5 L1221.2 1613.4 L1221.7 1613.4 L1222.2 1613.4 L1222.7 1613.4 L1223.2 1613.4 L1223.7 1613.4 L1224.2 1613.4 L1224.7 1613.4 L1225.2 1613.4 L1225.7 1613.3 L1226.2 1613.3 L1226.7 1613.3 L1227.2 1613.3 L1227.7 1613.3 L1228.2 1613.3 L1228.7 1613.2 L1229.2 1613.2 L1229.7 1613.2 L1230.2 1613.2 L1230.7 1613.2 L1231.2 1613.2 L1231.7 1613.1 L1232.2 1613.1 L1232.7 1613.1 L1233.2 1613.1 L1233.7 1613.1 L1234.2 1613.0 L1234.7 1613.0 L1235.2 1613.0 L1235.7 1613.0 L1236.2 1612.9 L1236.7 1612.9 L1237.2 1612.9 L1237.7 1612.9 L1238.2 1612.8 L1238.7 1612.8 L1239.2 1612.8 L1239.7 1612.8 L1240.2 1612.7 L1240.7 1612.7 L1241.2 1612.7 L1241.7 1612.7 L1242.2 1612.6 L1242.7 1612.6 L1243.2 1612.6 L1243.7 1612.6 L1244.2 1612.5 L1244.7 1612.5 L1245.2 1612.5 L1245.7 1612.4 L1246.2 1612.4 L1246.7 1612.4 L1247.2 1612.3 L1247.7 1612.3 L1248.2 1612.3 L1248.7 1612.3 L1249.2 1612.2 L1249.7 1612.2 L1250.2 1612.2 L1250.7 1612.1 L1251.2 1612.1 L1251.7 1612.1 L1252.2 1612.0 L1252.7 1612.0 L1253.2 1612.0 L1253.7 1611.9 L1254.2 1611.9 L1254.7 1611.9 L1255.2 1611.8 L1255.7 1611.8 L1256.2 1611.8 L1256.7 1611.7 L1257.2 1611.7 L1257.7 1611.7 L1258.2 1611.6 L1258.7 1611.6 L1259.2 1611.6 L1259.7 1611.5 L1260.2 1611.5 L1260.7 1611.5 L1261.2 1611.4 L1261.7 1611.4 L1262.2 1611.4 L1262.7 1611.3 L1263.2 1611.3 L1263.7 1611.3 L1264.2 1611.2 L1264.7 1611.2 L1265.2 1611.2 L1265.7 1611.1 L1266.2 1611.1 L1266.7 1611.1 L1267.2 1611.0 L1267.7 1611.0 L1268.2 1611.0 L1268.7 1610.9 L1269.2 1610.9 L1269.7 1610.9 L1270.2 1610.8 L1270.7 1610.8 L1271.2 1610.8 L1271.7 1610.7 L1272.2 1610.7 L1272.7 1610.7 L1273.2 1610.6 L1273.7 1610.6 L1274.2 1610.6 L1274.7 1610.5 L1275.2 1610.5 L1275.7 1610.5 L1276.2 1610.4 L1276.7 1610.4 L1277.2 1610.4 L1277.7 1610.3 L1278.2 1610.3 L1278.7 1610.3 L1279.2 1610.2 L1279.7 1610.2 L1280.2 1610.2 L1280.7 1610.1 L1281.2 1610.1 L1281.7 1610.1 L1282.2 1610.0 L1282.7 1610.0 L1283.2 1610.0 L1283.7 1609.9 L1284.2 1609.9 L1284.7 1609.9 L1285.2 1609.9 L1285.7 1609.8 L1286.2 1609.8 L1286.7 1609.8 L1287.2 1609.7 L1287.7 1609.7 L1288.2 1609.7 L1288.7 1609.7 L1289.2 1609.6 L1289.7 1609.6 L1290.2 1609.6 L1290.7 1609.5 L1291.2 1609.5 L1291.7 1609.5 L1292.2 1609.5 L1292.7 1609.4 L1293.2 1609.4 L1293.7 1609.4 L1294.2 1609.3 L1294.7 1609.3 L1295.2 1609.3 L1295.7 1609.3 L1296.2 1609.2 L1296.7 1609.2 L1297.2 1609.2 L1297.7 1609.1 L1298.2 1609.1 L1298.7 1609.1 L1299.2 1609.1 L1299.7 1609.0 L1300.2 1609.0 L1300.7 1609.0 L1301.2 1608.9 L1301.7 1608.9 L1302.2 1608.9 L1302.7 1608.9 L1303.2 1608.8 L1303.7 1608.8 L1304.2 1608.8 L1304.7 1608.7 L1305.2 1608.7 L1305.7 1608.7 L1306.2 1608.7 L1306.7 1608.6 L1307.2 1608.6 L1307.7 1608.6 L1308.2 1608.5 L1308.7 1608.5 L1309.2 1608.5 L1309.7 1608.5 L1310.2 1608.4 L1310.7 1608.4 L1311.2 1608.4 L1311.7 1608.3 L1312.2 1608.3 L1312.7 1608.3 L1313.2 1608.2 L1313.7 1608.2 L1314.2 1608.2 L1314.7 1608.2 L1315.2 1608.1 L1315.7 1608.1 L1316.2 1608.1 L1316.7 1608.0 L1317.2 1608.0 L1317.7 1608.0 L1318.2 1607.9 L1318.7 1607.9 L1319.2 1607.9 L1319.7 1607.9 L1320.2 1607.8 L1320.7 1607.8 L1321.2 1607.8 L1321.7 1607.7 L1322.2 1607.7 L1322.7 1607.7 L1323.2 1607.6 L1323.7 1607.6 L1324.2 1607.6 L1324.7 1607.5 L1325.2 1607.5 L1325.7 1607.5 L1326.2 1607.5 L1326.7 1607.4 L1327.2 1607.4 L1327.7 1607.4 L1328.2 1607.3 L1328.7 1607.3 L1329.2 1607.3 L1329.7 1607.2 L1330.2 1607.2 L1330.7 1607.2 L1331.2 1607.1 L1331.7 1607.1 L1332.2 1607.1 L1332.7 1607.0 L1333.2 1607.0 L1333.7 1607.0 L1334.2 1606.9 L1334.7 1606.9 L1335.2 1606.9 L1335.7 1606.8 L1336.2 1606.8 L1336.7 1606.8 L1337.2 1606.7 L1337.7 1606.7 L1338.2 1606.7 L1338.7 1606.6 L1339.2 1606.6 L1339.7 1606.5 L1340.2 1606.5 L1340.7 1606.5 L1341.2 1606.4 L1341.7 1606.4 L1342.2 1606.3 L1342.7 1606.3 L1343.2 1606.3 L1343.7 1606.2 L1344.2 1606.2 L1344.7 1606.1 L1345.2 1606.1 L1345.7 1606.1 L1346.2 1606.0 L1346.7 1606.0 L1347.2 1605.9 L1347.7 1605.9 L1348.2 1605.8 L1348.7 1605.8 L1349.2 1605.7 L1349.7 1605.7 L1350.2 1605.7 L1350.7 1605.6 L1351.2 1605.6 L1351.7 1605.5 L1352.2 1605.5 L1352.7 1605.4 L1353.2 1605.4 L1353.7 1605.3 L1354.2 1605.3 L1354.7 1605.3 L1355.2 1605.2 L1355.7 1605.2 L1356.2 1605.1 L1356.7 1605.1 L1357.2 1605.0 L1357.7 1605.0 L1358.2 1604.9 L1358.7 1604.9 L1359.2 1604.9 L1359.7 1604.8 L1360.2 1604.8 L1360.7 1604.7 L1361.2 1604.7 L1361.7 1604.6 L1362.2 1604.6 L1362.7 1604.6 L1363.2 1604.5 L1363.7 1604.5 L1364.2 1604.4 L1364.7 1604.4 L1365.2 1604.4 L1365.7 1604.3 L1366.2 1604.3 L1366.7 1604.2 L1367.2 1604.2 L1367.7 1604.2 L1368.2 1604.1 L1368.7 1604.1 L1369.2 1604.1 L1369.7 1604.0 L1370.2 1604.0 L1370.7 1603.9 L1371.2 1603.9 L1371.7 1603.9 L1372.2 1603.9 L1372.7 1603.8 L1373.2 1603.8 L1373.7 1603.8 L1374.2 1603.7 L1374.7 1603.7 L1375.2 1603.7 L1375.7 1603.6 L1376.2 1603.6 L1376.7 1603.6 L1377.2 1603.6 L1377.7 1603.6 L1378.2 1603.5 L1378.7 1603.5 L1379.2 1603.5 L1379.7 1603.5 L1380.2 1603.5 L1380.7 1603.4 L1381.2 1603.4 L1381.7 1603.4 L1382.2 1603.4 L1382.7 1603.4 L1383.2 1603.4 L1383.7 1603.3 L1384.2 1603.3 L1384.7 1603.3 L1385.2 1603.3 L1385.7 1603.3 L1386.2 1603.3 L1386.7 1603.3 L1387.2 1603.3 L1387.7 1603.2 L1388.2 1603.2 L1388.7 1603.2 L1389.2 1603.2 L1389.7 1603.2 L1390.2 1603.2 L1390.7 1603.2 L1391.2 1603.2 L1391.7 1603.2 L1392.2 1603.1 L1392.7 1603.1 L1393.2 1603.1 L1393.7 1603.1 L1394.2 1603.1 L1394.7 1603.1 L1395.2 1603.1 L1395.7 1603.1 L1396.2 1603.1 L1396.7 1603.1 L1397.2 1603.1 L1397.7 1603.0 L1398.2 1603.0 L1398.7 1603.0 L1399.2 1603.0 L1399.7 1603.0 L1400.2 1603.0 L1400.7 1603.0 L1401.2 1603.0 L1401.7 1603.0 L1402.2 1603.0 L1402.7 1603.0 L1403.2 1603.0 L1403.7 1602.9 L1404.2 1602.9 L1404.7 1602.9 L1405.2 1602.9 L1405.7 1602.9 L1406.2 1602.9 L1406.7 1602.9 L1407.2 1602.9 L1407.7 1602.9 L1408.2 1602.9 L1408.7 1602.9 L1409.2 1602.9 L1409.7 1602.9 L1410.2 1602.9 L1410.7 1602.9 L1411.2 1602.8 L1411.7 1602.8 L1412.2 1602.8 L1412.7 1602.8 L1413.2 1602.8 L1413.7 1602.8 L1414.2 1602.8 L1414.7 1602.8 L1415.2 1602.8 L1415.7 1602.8 L1416.2 1602.8 L1416.7 1602.8 L1417.2 1602.8 L1417.7 1602.8 L1418.2 1602.8 L1418.7 1602.8 L1419.2 1602.8 L1419.7 1602.7 L1420.2 1602.7 L1420.7 1602.7 L1421.2 1602.7 L1421.7 1602.7 L1422.2 1602.7 L1422.7 1602.7 L1423.2 1602.7 L1423.7 1602.7 L1424.2 1602.7 L1424.7 1602.7 L1425.2 1602.7 L1425.7 1602.7 L1426.2 1602.7 L1426.7 1602.7 L1427.2 1602.7 L1427.7 1602.7 L1428.2 1602.6 L1428.7 1602.6 L1429.2 1602.6 L1429.7 1602.6 L1430.2 1602.6 L1430.7 1602.6 L1431.2 1602.6 L1431.7 1602.6 L1432.2 1602.6 L1432.7 1602.6 L1433.2 1602.6 L1433.7 1602.6 L1434.2 1602.6 L1434.7 1602.6 L1435.2 1602.5 L1435.7 1602.5 L1436.2 1602.5 L1436.7 1602.5 L1437.2 1602.5 L1437.7 1602.5 L1438.2 1602.5 L1438.7 1602.5 L1439.2 1602.5 L1439.7 1602.5 L1440.2 1602.5 L1440.7 1602.5 L1441.2 1602.4 L1441.7 1602.4 L1442.2 1602.4 L1442.7 1602.4 L1443.2 1602.4 L1443.7 1602.4 L1444.2 1602.4 L1444.7 1602.4 L1445.2 1602.4 L1445.7 1602.4 L1446.2 1602.3 L1446.7 1602.3 L1447.2 1602.3 L1447.7 1602.3 L1448.2 1602.3 L1448.7 1602.3 L1449.2 1602.3 L1449.7 1602.3 L1450.2 1602.3 L1450.7 1602.2 L1451.2 1602.2 L1451.7 1602.2 L1452.2 1602.2 L1452.7 1602.2 L1453.2 1602.2 L1453.7 1602.2 L1454.2 1602.1 L1454.7 1602.1 L1455.2 1602.1 L1455.7 1602.1 L1456.2 1602.1 L1456.7 1602.1 L1457.2 1602.1 L1457.7 1602.0 L1458.2 1602.0 L1458.7 1602.0 L1459.2 1602.0 L1459.7 1602.0 L1460.2 1602.0 L1460.7 1601.9 L1461.2 1601.9 L1461.7 1601.9 L1462.2 1601.9 L1462.7 1601.9 L1463.2 1601.9 L1463.7 1601.8 L1464.2 1601.8 L1464.7 1601.8 L1465.2 1601.8 L1465.7 1601.8 L1466.2 1601.7 L1466.7 1601.7 L1467.2 1601.7 L1467.7 1601.7 L1468.2 1601.7 L1468.7 1601.6 L1469.2 1601.6 L1469.7 1601.6 L1470.2 1601.6 L1470.7 1601.6 L1471.2 1601.5 L1471.7 1601.5 L1472.2 1601.5 L1472.7 1601.5 L1473.2 1601.4 L1473.7 1601.4 L1474.2 1601.4 L1474.7 1601.4 L1475.2 1601.3 L1475.7 1601.3 L1476.2 1601.3 L1476.7 1601.3 L1477.2 1601.2 L1477.7 1601.2 L1478.2 1601.2 L1478.7 1601.2 L1479.2 1601.1 L1479.7 1601.1 L1480.2 1601.1 L1480.7 1601.1 L1481.2 1601.0 L1481.7 1601.0 L1482.2 1601.0 L1482.7 1600.9 L1483.2 1600.9 L1483.7 1600.9 L1484.2 1600.9 L1484.7 1600.8 L1485.2 1600.8 L1485.7 1600.8 L1486.2 1600.7 L1486.7 1600.7 L1487.2 1600.7 L1487.7 1600.6 L1488.2 1600.6 L1488.7 1600.6 L1489.2 1600.5 L1489.7 1600.5 L1490.2 1600.5 L1490.7 1600.4 L1491.2 1600.4 L1491.7 1600.4 L1492.2 1600.3 L1492.7 1600.3 L1493.2 1600.3 L1493.7 1600.2 L1494.2 1600.2 L1494.7 1600.1 L1495.2 1600.1 L1495.7 1600.1 L1496.2 1600.0 L1496.7 1600.0 L1497.2 1600.0 L1497.7 1599.9 L1498.2 1599.9 L1498.7 1599.8 L1499.2 1599.8 L1499.7 1599.8 L1500.2 1599.7 L1500.7 1599.7 L1501.2 1599.6 L1501.7 1599.6 L1502.2 1599.5 L1502.7 1599.5 L1503.2 1599.4 L1503.7 1599.4 L1504.2 1599.3 L1504.7 1599.3 L1505.2 1599.2 L1505.7 1599.1 L1506.2 1599.1 L1506.7 1599.0 L1507.2 1598.9 L1507.7 1598.9 L1508.2 1598.8 L1508.7 1598.7 L1509.2 1598.7 L1509.7 1598.6 L1510.2 1598.5 L1510.7 1598.4 L1511.2 1598.4 L1511.7 1598.3 L1512.2 1598.2 L1512.7 1598.1 L1513.2 1598.0 L1513.7 1598.0 L1514.2 1597.9 L1514.7 1597.8 L1515.2 1597.7 L1515.7 1597.6 L1516.2 1597.5 L1516.7 1597.4 L1517.2 1597.4 L1517.7 1597.3 L1518.2 1597.2 L1518.7 1597.1 L1519.2 1597.0 L1519.7 1596.9 L1520.2 1596.8 L1520.7 1596.7 L1521.2 1596.6 L1521.7 1596.5 L1522.2 1596.4 L1522.7 1596.3 L1523.2 1596.2 L1523.7 1596.1 L1524.2 1596.0 L1524.7 1595.9 L1525.2 1595.8 L1525.7 1595.7 L1526.2 1595.5 L1526.7 1595.4 L1527.2 1595.3 L1527.7 1595.2 L1528.2 1595.0 L1528.7 1594.9 L1529.2 1594.8 L1529.7 1594.6 L1530.2 1594.5 L1530.7 1594.4 L1531.2 1594.2 L1531.7 1594.1 L1532.2 1593.9 L1532.7 1593.8 L1533.2 1593.6 L1533.7 1593.5 L1534.2 1593.3 L1534.7 1593.2 L1535.2 1593.0 L1535.7 1592.8 L1536.2 1592.7 L1536.7 1592.5 L1537.2 1592.3 L1537.7 1592.1 L1538.2 1592.0 L1538.7 1591.8 L1539.2 1591.6 L1539.7 1591.4 L1540.2 1591.2 L1540.7 1591.0 L1541.2 1590.8 L1541.7 1590.6 L1542.2 1590.4 L1542.7 1590.2 L1543.2 1589.9 L1543.7 1589.7 L1544.2 1589.5 L1544.7 1589.2 L1545.2 1588.9 L1545.7 1588.7 L1546.2 1588.4 L1546.7 1588.1 L1547.2 1587.9 L1547.7 1587.6 L1548.2 1587.3 L1548.7 1587.0 L1549.2 1586.8 L1549.7 1586.5 L1550.2 1586.2 L1550.7 1585.9 L1551.2 1585.6 L1551.7 1585.3 L1552.2 1585.1 L1552.7 1584.8 L1553.2 1584.5 L1553.7 1584.2 L1554.2 1583.9 L1554.7 1583.6 L1555.2 1583.3 L1555.7 1582.9 L1556.2 1582.6 L1556.7 1582.3 L1557.2 1581.9 L1557.7 1581.5 L1558.2 1581.1 L1558.7 1580.7 L1559.2 1580.3 L1559.7 1579.9 L1560.2 1579.4 L1560.7 1578.8 L1561.2 1578.1 L1561.7 1577.4 L1562.2 1576.6 L1562.7 1575.8 L1563.2 1575.0 L1563.7 1574.3 L1564.2 1573.7 L1564.7 1573.2 L1565.2 1572.9 L1565.7 1572.6 L1566.2 1572.3 L1566.7 1572.0 L1567.2 1571.8 L1567.7 1571.6 L1568.2 1571.4 L1568.7 1571.3 L1569.2 1571.3 L1569.7 1571.4 L1570.2 1571.5 L1570.7 1571.6 L1571.2 1571.8 L1571.7 1572.0 L1572.2 1572.2 L1572.7 1572.4 L1573.2 1572.5 L1573.7 1572.6 L1574.2 1572.6 L1574.7 1572.6 L1575.2 1572.4 L1575.7 1572.3 L1576.2 1572.1 L1576.7 1571.8 L1577.2 1571.5 L1577.7 1571.2 L1578.2 1570.9 L1578.7 1570.5 L1579.2 1570.1 L1579.7 1569.7 L1580.2 1569.3 L1580.7 1568.9 L1581.2 1568.3 L1581.7 1567.7 L1582.2 1567.0 L1582.7 1566.3 L1583.2 1565.4 L1583.7 1564.6 L1584.2 1563.6 L1584.7 1562.5 L1585.2 1561.2 L1585.7 1559.8 L1586.2 1558.2 L1586.7 1556.5 L1587.2 1554.5 L1587.7 1552.3 L1588.2 1549.7 L1588.7 1547.0 L1589.2 1544.1 L1589.7 1541.1 L1590.2 1538.0 L1590.7 1535.0 L1591.2 1532.0 L1591.7 1529.0 L1592.2 1525.9 L1592.7 1522.7 L1593.2 1519.4 L1593.7 1515.9 L1594.2 1512.3 L1594.7 1508.3 L1595.2 1503.8 L1595.7 1499.1 L1596.2 1494.4 L1596.7 1490.0 L1597.2 1485.8 L1597.7 1481.7 L1598.2 1479.1 L1598.7 1477.2 L1599.2 1476.6 L1599.7 1476.9 L1600.2 1477.6 L1600.7 1478.6 L1601.2 1480.0 L1601.7 1481.6 L1602.2 1483.6 L1602.7 1485.7 L1603.2 1488.1 L1603.7 1492.3 L1604.2 1498.9 L1604.7 1506.3 L1605.2 1513.1 L1605.7 1519.5 L1606.2 1526.1 L1606.7 1532.2 L1607.2 1536.8 L1607.7 1539.5 L1608.2 1541.9 L1608.7 1544.2 L1609.2 1546.2 L1609.7 1548.0 L1610.2 1549.6 L1610.7 1550.9 L1611.2 1551.9 L1611.7 1552.6 L1612.2 1553.0 L1612.7 1553.0 L1613.2 1552.9 L1613.7 1552.7 L1614.2 1552.4 L1614.7 1552.0 L1615.2 1551.5 L1615.7 1551.0 L1616.2 1550.5 L1616.7 1549.9 L1617.2 1549.3 L1617.7 1548.7 L1618.2 1548.0 L1618.7 1547.3 L1619.2 1546.4 L1619.7 1545.3 L1620.2 1544.1 L1620.7 1542.8 L1621.2 1541.4 L1621.7 1539.9 L1622.2 1538.3 L1622.7 1536.6 L1623.2 1534.7 L1623.7 1532.5 L1624.2 1530.2 L1624.7 1527.5 L1625.2 1524.6 L1625.7 1521.4 L1626.2 1517.5 L1626.7 1512.6 L1627.2 1507.2 L1627.7 1501.7 L1628.2 1496.4 L1628.7 1491.6 L1629.2 1487.0 L1629.7 1482.3 L1630.2 1477.2 L1630.7 1471.5 L1631.2 1464.1 L1631.7 1455.5 L1632.2 1447.8 L1632.7 1441.6 L1633.2 1436.0 L1633.7 1431.6 L1634.2 1429.1 L1634.7 1427.2 L1635.2 1425.6 L1635.7 1424.1 L1636.2 1422.8 L1636.7 1421.8 L1637.2 1421.1 L1637.7 1420.7 L1638.2 1420.6 L1638.7 1421.3 L1639.2 1422.7 L1639.7 1424.9 L1640.2 1427.6 L1640.7 1430.7 L1641.2 1434.0 L1641.7 1437.5 L1642.2 1441.6 L1642.7 1447.2 L1643.2 1453.5 L1643.7 1459.8 L1644.2 1465.3 L1644.7 1470.6 L1645.2 1475.8 L1645.7 1480.7 L1646.2 1485.4 L1646.7 1489.8 L1647.2 1494.1 L1647.7 1498.3 L1648.2 1502.4 L1648.7 1506.1 L1649.2 1509.6 L1649.7 1512.6 L1650.2 1515.2 L1650.7 1517.6 L1651.2 1519.8 L1651.7 1521.8 L1652.2 1523.8 L1652.7 1525.6 L1653.2 1527.3 L1653.7 1529.0 L1654.2 1530.7 L1654.7 1532.3 L1655.2 1533.9 L1655.7 1535.3 L1656.2 1536.8 L1656.7 1538.2 L1657.2 1539.6 L1657.7 1540.9 L1658.2 1542.2 L1658.7 1543.5 L1659.2 1544.8 L1659.7 1546.0 L1660.2 1547.3 L1660.7 1548.6 L1661.2 1549.9 L1661.7 1551.1 L1662.2 1552.4 L1662.7 1553.6 L1663.2 1554.8 L1663.7 1556.0 L1664.2 1557.1 L1664.7 1558.2 L1665.2 1559.2 L1665.7 1560.1 L1666.2 1561.0 L1666.7 1561.8 L1667.2 1562.6 L1667.7 1563.3 L1668.2 1564.1 L1668.7 1564.8 L1669.2 1565.5 L1669.7 1566.1 L1670.2 1566.8 L1670.7 1567.4 L1671.2 1568.0 L1671.7 1568.6 L1672.2 1569.1 L1672.7 1569.6 L1673.2 1570.1 L1673.7 1570.5 L1674.2 1570.9 L1674.7 1571.3 L1675.2 1571.6 L1675.7 1572.0 L1676.2 1572.3 L1676.7 1572.7 L1677.2 1573.0 L1677.7 1573.3 L1678.2 1573.7 L1678.7 1574.0 L1679.2 1574.3 L1679.7 1574.6 L1680.2 1574.9 L1680.7 1575.1 L1681.2 1575.4 L1681.7 1575.6 L1682.2 1575.9 L1682.7 1576.1 L1683.2 1576.2 L1683.7 1576.4 L1684.2 1576.5 L1684.7 1576.6 L1685.2 1576.7 L1685.7 1576.8 L1686.2 1576.8 L1686.7 1576.8 L1687.2 1576.8 L1687.7 1576.7 L1688.2 1576.7 L1688.7 1576.6 L1689.2 1576.5 L1689.7 1576.4 L1690.2 1576.3 L1690.7 1576.1 L1691.2 1576.0 L1691.7 1575.8 L1692.2 1575.6 L1692.7 1575.4 L1693.2 1575.2 L1693.7 1575.0 L1694.2 1574.8 L1694.7 1574.6 L1695.2 1574.4 L1695.7 1574.1 L1696.2 1573.9 L1696.7 1573.6 L1697.2 1573.4 L1697.7 1573.1 L1698.2 1572.9 L1698.7 1572.6 L1699.2 1572.3 L1699.7 1571.9 L1700.2 1571.6 L1700.7 1571.2 L1701.2 1570.7 L1701.7 1570.3 L1702.2 1569.8 L1702.7 1569.3 L1703.2 1568.8 L1703.7 1568.3 L1704.2 1567.7 L1704.7 1567.2 L1705.2 1566.7 L1705.7 1566.1 L1706.2 1565.6 L1706.7 1565.0 L1707.2 1564.4 L1707.7 1563.7 L1708.2 1563.0 L1708.7 1562.2 L1709.2 1561.4 L1709.7 1560.6 L1710.2 1559.9 L1710.7 1559.2 L1711.2 1558.6 L1711.7 1558.0 L1712.2 1557.6 L1712.7 1557.3 L1713.2 1557.1 L1713.7 1557.0 L1714.2 1556.9 L1714.7 1556.8 L1715.2 1556.7 L1715.7 1556.6 L1716.2 1556.5 L1716.7 1556.4 L1717.2 1556.4 L1717.7 1556.3 L1718.2 1556.3 L1718.7 1556.3 L1719.2 1556.4 L1719.7 1556.6 L1720.2 1556.9 L1720.7 1557.4 L1721.2 1557.9 L1721.7 1558.4 L1722.2 1558.9 L1722.7 1559.4 L1723.2 1559.9 L1723.7 1560.2 L1724.2 1560.4 L1724.7 1560.5 L1725.2 1560.5 L1725.7 1560.4 L1726.2 1560.4 L1726.7 1560.3 L1727.2 1560.2 L1727.7 1560.1 L1728.2 1560.0 L1728.7 1559.8 L1729.2 1559.7 L1729.7 1559.5 L1730.2 1559.3 L1730.7 1559.1 L1731.2 1558.8 L1731.7 1558.5 L1732.2 1558.1 L1732.7 1557.4 L1733.2 1556.6 L1733.7 1555.6 L1734.2 1554.5 L1734.7 1553.3 L1735.2 1551.9 L1735.7 1550.5 L1736.2 1549.1 L1736.7 1547.5 L1737.2 1546.0 L1737.7 1544.3 L1738.2 1542.4 L1738.7 1540.2 L1739.2 1537.7 L1739.7 1534.7 L1740.2 1531.2 L1740.7 1526.4 L1741.2 1518.1 L1741.7 1509.5 L1742.2 1504.0 L1742.7 1500.3 L1743.2 1496.8 L1743.7 1493.7 L1744.2 1491.0 L1744.7 1488.9 L1745.2 1487.4 L1745.7 1486.7 L1746.2 1486.8 L1746.7 1487.7 L1747.2 1489.5 L1747.7 1491.7 L1748.2 1494.5 L1748.7 1497.4 L1749.2 1500.6 L1749.7 1503.6 L1750.2 1506.8 L1750.7 1511.2 L1751.2 1515.8 L1751.7 1519.6 L1752.2 1521.7 L1752.7 1522.9 L1753.2 1523.9 L1753.7 1524.7 L1754.2 1525.4 L1754.7 1526.1 L1755.2 1526.6 L1755.7 1527.1 L1756.2 1527.6 L1756.7 1528.2 L1757.2 1528.7 L1757.7 1529.4 L1758.2 1530.1 L1758.7 1530.8 L1759.2 1531.4 L1759.7 1532.0 L1760.2 1532.7 L1760.7 1533.4 L1761.2 1534.3 L1761.7 1535.4 L1762.2 1536.7 L1762.7 1539.7 L1763.2 1544.1 L1763.7 1548.8 L1764.2 1552.8 L1764.7 1555.0 L1765.2 1556.4 L1765.7 1557.6 L1766.2 1558.7 L1766.7 1559.7 L1767.2 1560.5 L1767.7 1561.1 L1768.2 1561.5 L1768.7 1561.6 L1769.2 1561.3 L1769.7 1560.3 L1770.2 1558.8 L1770.7 1556.9 L1771.2 1554.7 L1771.7 1552.3 L1772.2 1549.8 L1772.7 1547.3 L1773.2 1544.6 L1773.7 1540.8 L1774.2 1536.7 L1774.7 1532.9 L1775.2 1530.3 L1775.7 1529.1 L1776.2 1528.2 L1776.7 1527.4 L1777.2 1526.7 L1777.7 1526.1 L1778.2 1525.6 L1778.7 1525.1 L1779.2 1524.8 L1779.7 1524.6 L1780.2 1524.5 L1780.7 1524.5 L1781.2 1524.6 L1781.7 1524.8 L1782.2 1525.0 L1782.7 1525.3 L1783.2 1525.7 L1783.7 1526.2 L1784.2 1526.8 L1784.7 1527.4 L1785.2 1528.1 L1785.7 1528.9 L1786.2 1529.7 L1786.7 1531.7 L1787.2 1535.3 L1787.7 1539.5 L1788.2 1543.5 L1788.7 1546.3 L1789.2 1548.2 L1789.7 1550.0 L1790.2 1551.6 L1790.7 1552.6 L1791.2 1553.0 L1791.7 1552.9 L1792.2 1552.5 L1792.7 1551.9 L1793.2 1551.2 L1793.7 1550.3 L1794.2 1549.3 L1794.7 1548.2 L1795.2 1547.1 L1795.7 1545.9 L1796.2 1544.8 L1796.7 1543.6 L1797.2 1542.6 L1797.7 1541.4 L1798.2 1540.2 L1798.7 1539.0 L1799.2 1537.7 L1799.7 1536.3 L1800.2 1534.9 L1800.7 1533.5 L1801.2 1532.0 L1801.7 1530.6 L1802.2 1529.1 L1802.7 1527.3 L1803.2 1525.2 L1803.7 1523.2 L1804.2 1521.2 L1804.7 1519.7 L1805.2 1518.7 L1805.7 1518.4 L1806.2 1519.7 L1806.7 1522.5 L1807.2 1526.3 L1807.7 1530.6 L1808.2 1534.9 L1808.7 1538.8 L1809.2 1543.4 L1809.7 1548.7 L1810.2 1553.6 L1810.7 1557.0 L1811.2 1558.0 L1811.7 1558.0 L1812.2 1558.0 L1812.7 1558.0 L1813.2 1557.9 L1813.7 1557.9 L1814.2 1557.8 L1814.7 1557.8 L1815.2 1557.7 L1815.7 1557.6 L1816.2 1557.5 L1816.7 1557.5 L1817.2 1557.3 L1817.7 1557.2 L1818.2 1556.7 L1818.7 1555.2 L1819.2 1552.9 L1819.7 1550.1 L1820.2 1547.1 L1820.7 1544.0 L1821.2 1541.1 L1821.7 1538.8 L1822.2 1536.9 L1822.7 1535.1 L1823.2 1533.2 L1823.7 1531.4 L1824.2 1529.8 L1824.7 1528.4 L1825.2 1527.3 L1825.7 1526.7 L1826.2 1526.5 L1826.7 1526.8 L1827.2 1527.5 L1827.7 1528.6 L1828.2 1530.0 L1828.7 1531.6 L1829.2 1533.5 L1829.7 1535.5 L1830.2 1537.6 L1830.7 1540.6 L1831.2 1545.5 L1831.7 1550.6 L1832.2 1554.1 L1832.7 1555.1 L1833.2 1555.7 L1833.7 1556.3 L1834.2 1556.8 L1834.7 1557.3 L1835.2 1557.8 L1835.7 1558.2 L1836.2 1558.5 L1836.7 1558.8 L1837.2 1559.1 L1837.7 1559.3 L1838.2 1559.5 L1838.7 1559.7 L1839.2 1559.8 L1839.7 1559.9 L1840.2 1560.0 L1840.7 1560.0 L1841.2 1560.0 L1841.7 1559.9 L1842.2 1559.8 L1842.7 1559.7 L1843.2 1559.4 L1843.7 1559.1 L1844.2 1558.8 L1844.7 1558.4 L1845.2 1558.0 L1845.7 1557.6 L1846.2 1557.1 L1846.7 1556.6 L1847.2 1556.1 L1847.7 1555.6 L1848.2 1555.0 L1848.7 1554.5 L1849.2 1554.0 L1849.7 1553.4 L1850.2 1552.9 L1850.7 1552.4 L1851.2 1551.9 L1851.7 1551.4 L1852.2 1551.0 L1852.7 1550.5 L1853.2 1550.1 L1853.7 1549.6 L1854.2 1549.1 L1854.7 1548.6 L1855.2 1548.1 L1855.7 1547.6 L1856.2 1547.0 L1856.7 1546.4 L1857.2 1545.7 L1857.7 1545.0 L1858.2 1544.3 L1858.7 1543.4 L1859.2 1542.6 L1859.7 1541.6 L1860.2 1540.5 L1860.7 1539.3 L1861.2 1537.8 L1861.7 1536.1 L1862.2 1534.1 L1862.7 1531.9 L1863.2 1529.3 L1863.7 1526.3 L1864.2 1520.6 L1864.7 1513.0 L1865.2 1506.2 L1865.7 1502.2 L1866.2 1499.2 L1866.7 1496.3 L1867.2 1493.9 L1867.7 1491.9 L1868.2 1490.5 L1868.7 1489.8 L1869.2 1490.0 L1869.7 1491.9 L1870.2 1494.9 L1870.7 1498.6 L1871.2 1502.5 L1871.7 1506.2 L1872.2 1509.0 L1872.7 1510.5 L1873.2 1510.7 L1873.7 1510.6 L1874.2 1510.5 L1874.7 1510.3 L1875.2 1510.0 L1875.7 1509.7 L1876.2 1509.3 L1876.7 1508.9 L1877.2 1508.3 L1877.7 1507.7 L1878.2 1505.9 L1878.7 1502.5 L1879.2 1497.8 L1879.7 1492.4 L1880.2 1486.4 L1880.7 1480.3 L1881.2 1474.4 L1881.7 1467.5 L1882.2 1459.5 L1882.7 1451.9 L1883.2 1446.6 L1883.7 1443.1 L1884.2 1439.7 L1884.7 1436.5 L1885.2 1433.7 L1885.7 1431.2 L1886.2 1429.1 L1886.7 1427.4 L1887.2 1426.3 L1887.7 1425.8 L1888.2 1425.9 L1888.7 1427.3 L1889.2 1429.9 L1889.7 1433.4 L1890.2 1437.9 L1890.7 1443.1 L1891.2 1450.4 L1891.7 1467.8 L1892.2 1484.9 L1892.7 1491.4 L1893.2 1495.8 L1893.7 1499.5 L1894.2 1502.5 L1894.7 1504.7 L1895.2 1506.0 L1895.7 1506.5 L1896.2 1506.4 L1896.7 1506.2 L1897.2 1505.8 L1897.7 1505.2 L1898.2 1504.6 L1898.7 1503.8 L1899.2 1503.0 L1899.7 1502.2 L1900.2 1501.3 L1900.7 1500.3 L1901.2 1499.4 L1901.7 1498.4 L1902.2 1497.6 L1902.7 1496.7 L1903.2 1495.9 L1903.7 1495.1 L1904.2 1494.2 L1904.7 1493.4 L1905.2 1492.5 L1905.7 1491.6 L1906.2 1490.7 L1906.7 1489.7 L1907.2 1488.7 L1907.7 1487.6 L1908.2 1486.5 L1908.7 1485.3 L1909.2 1484.1 L1909.7 1482.8 L1910.2 1481.4 L1910.7 1479.9 L1911.2 1478.2 L1911.7 1476.4 L1912.2 1474.5 L1912.7 1472.5 L1913.2 1470.4 L1913.7 1468.2 L1914.2 1465.9 L1914.7 1463.5 L1915.2 1461.0 L1915.7 1458.4 L1916.2 1455.5 L1916.7 1452.4 L1917.2 1449.2 L1917.7 1445.7 L1918.2 1442.0 L1918.7 1438.2 L1919.2 1434.2 L1919.7 1429.8 L1920.2 1424.2 L1920.7 1418.1 L1921.2 1412.3 L1921.7 1407.6 L1922.2 1404.8 L1922.7 1403.5 L1923.2 1402.4 L1923.7 1401.6 L1924.2 1400.9 L1924.7 1400.3 L1925.2 1399.6 L1925.7 1399.0 L1926.2 1398.2 L1926.7 1397.2 L1927.2 1396.4 L1927.7 1395.5 L1928.2 1394.6 L1928.7 1393.7 L1929.2 1392.5 L1929.7 1391.2 L1930.2 1389.6 L1930.7 1387.5 L1931.2 1383.0 L1931.7 1375.9 L1932.2 1367.4 L1932.7 1358.9 L1933.2 1351.4 L1933.7 1345.8 L1934.2 1340.9 L1934.7 1336.4 L1935.2 1332.1 L1935.7 1328.0 L1936.2 1324.0 L1936.7 1319.8 L1937.2 1315.4 L1937.7 1310.7 L1938.2 1305.6 L1938.7 1300.2 L1939.2 1294.7 L1939.7 1289.0 L1940.2 1283.3 L1940.7 1277.7 L1941.2 1272.4 L1941.7 1267.3 L1942.2 1262.6 L1942.7 1258.2 L1943.2 1253.8 L1943.7 1249.5 L1944.2 1245.4 L1944.7 1241.3 L1945.2 1237.3 L1945.7 1233.5 L1946.2 1229.8 L1946.7 1226.2 L1947.2 1222.8 L1947.7 1219.6 L1948.2 1216.5 L1948.7 1213.6 L1949.2 1210.9 L1949.7 1208.4 L1950.2 1206.0 L1950.7 1203.7 L1951.2 1201.5 L1951.7 1199.4 L1952.2 1197.3 L1952.7 1195.3 L1953.2 1193.2 L1953.7 1191.1 L1954.2 1189.0 L1954.7 1186.8 L1955.2 1184.5 L1955.7 1182.1 L1956.2 1179.7 L1956.7 1177.4 L1957.2 1175.3 L1957.7 1173.2 L1958.2 1171.4 L1958.7 1169.8 L1959.2 1168.5 L1959.7 1167.3 L1960.2 1166.0 L1960.7 1164.8 L1961.2 1163.7 L1961.7 1162.6 L1962.2 1161.7 L1962.7 1160.9 L1963.2 1160.3 L1963.7 1159.8 L1964.2 1159.6 L1964.7 1159.6 L1965.2 1159.9 L1965.7 1160.3 L1966.2 1160.9 L1966.7 1161.6 L1967.2 1162.5 L1967.7 1163.5 L1968.2 1164.7 L1968.7 1165.9 L1969.2 1167.2 L1969.7 1168.6 L1970.2 1170.5 L1970.7 1173.0 L1971.2 1176.1 L1971.7 1179.6 L1972.2 1183.6 L1972.7 1188.1 L1973.2 1193.6 L1973.7 1201.2 L1974.2 1209.9 L1974.7 1219.7 L1975.2 1231.7 L1975.7 1244.6 L1976.2 1256.6 L1976.7 1266.2 L1977.2 1274.6 L1977.7 1282.5 L1978.2 1289.7 L1978.7 1296.6 L1979.2 1303.1 L1979.7 1309.3 L1980.2 1315.2 L1980.7 1320.9 L1981.2 1326.1 L1981.7 1331.2 L1982.2 1336.2 L1982.7 1341.0 L1983.2 1346.0 L1983.7 1351.0 L1984.2 1356.3 L1984.7 1361.5 L1985.2 1366.8 L1985.7 1372.0 L1986.2 1377.1 L1986.7 1382.0 L1987.2 1386.6 L1987.7 1390.8 L1988.2 1394.8 L1988.7 1398.7 L1989.2 1402.5 L1989.7 1406.2 L1990.2 1409.7 L1990.7 1413.1 L1991.2 1416.2 L1991.7 1419.2 L1992.2 1421.9 L1992.7 1424.3 L1993.2 1426.6 L1993.7 1429.0 L1994.2 1431.3 L1994.7 1433.5 L1995.2 1435.6 L1995.7 1437.4 L1996.2 1438.9 L1996.7 1440.1 L1997.2 1440.8 L1997.7 1441.1 L1998.2 1441.2 L1998.7 1441.3 L1999.2 1441.4 L1999.7 1441.5 L2000.2 1441.6 L2000.7 1441.6 L2001.2 1441.7 L2001.7 1441.7 L2002.2 1441.7 L2002.7 1441.8 L2003.2 1441.8 L2003.7 1441.9 L2004.2 1442.0 L2004.7 1442.1 L2005.2 1442.2 L2005.7 1442.4 L2006.2 1442.8 L2006.7 1443.9 L2007.2 1445.6 L2007.7 1447.7 L2008.2 1450.0 L2008.7 1452.3 L2009.2 1454.6 L2009.7 1456.7 L2010.2 1458.3 L2010.7 1459.8 L2011.2 1461.2 L2011.7 1462.5 L2012.2 1463.7 L2012.7 1464.9 L2013.2 1466.1 L2013.7 1467.3 L2014.2 1468.5 L2014.7 1469.8 L2015.2 1471.2 L2015.7 1472.7 L2016.2 1474.3 L2016.7 1476.1 L2017.2 1478.0 L2017.7 1480.3 L2018.2 1483.0 L2018.7 1486.0 L2019.2 1489.1 L2019.7 1492.4 L2020.2 1495.7 L2020.7 1499.1 L2021.2 1502.3 L2021.7 1505.6 L2022.2 1509.0 L2022.7 1512.6 L2023.2 1516.2 L2023.7 1519.7 L2024.2 1523.2 L2024.7 1526.5 L2025.2 1529.6 L2025.7 1532.5 L2026.2 1535.4 L2026.7 1538.2 L2027.2 1541.0 L2027.7 1543.7 L2028.2 1546.3 L2028.7 1548.8 L2029.2 1551.2 L2029.7 1553.4 L2030.2 1555.5 L2030.7 1557.4 L2031.2 1559.1 L2031.7 1560.8 L2032.2 1562.4 L2032.7 1564.0 L2033.2 1565.5 L2033.7 1566.9 L2034.2 1568.3 L2034.7 1569.6 L2035.2 1570.8 L2035.7 1572.0 L2036.2 1573.1 L2036.7 1574.1 L2037.2 1575.0 L2037.7 1575.9 L2038.2 1576.7 L2038.7 1577.5 L2039.2 1578.2 L2039.7 1579.0 L2040.2 1579.8 L2040.7 1580.5 L2041.2 1581.2 L2041.7 1581.9 L2042.2 1582.6 L2042.7 1583.2 L2043.2 1583.8 L2043.7 1584.3 L2044.2 1584.7 L2044.7 1585.1 L2045.2 1585.4 L2045.7 1585.7 L2046.2 1585.8 L2046.7 1585.9 L2047.2 1585.9 L2047.7 1585.7 L2048.2 1585.4 L2048.7 1585.0 L2049.2 1584.5 L2049.7 1584.0 L2050.2 1583.4 L2050.7 1582.8 L2051.2 1582.2 L2051.7 1581.6 L2052.2 1581.0 L2052.7 1580.5 L2053.2 1580.0 L2053.7 1579.6 L2054.2 1579.3 L2054.7 1579.1 L2055.2 1579.0 L2055.7 1579.3 L2056.2 1580.0 L2056.7 1581.2 L2057.2 1582.7 L2057.7 1584.4 L2058.2 1586.3 L2058.7 1588.2 L2059.2 1590.2 L2059.7 1592.1 L2060.2 1593.8 L2060.7 1595.3 L2061.2 1596.5 L2061.7 1597.2 L2062.2 1597.9 L2062.7 1598.5 L2063.2 1599.1 L2063.7 1599.6 L2064.2 1600.2 L2064.7 1600.7 L2065.2 1601.1 L2065.7 1601.5 L2066.2 1601.9 L2066.7 1602.2 L2067.2 1602.4 L2067.7 1602.6 L2068.2 1602.7 L2068.7 1602.7 L2069.2 1602.7 L2069.7 1602.7 L2070.2 1602.7 L2070.7 1602.7 L2071.2 1602.7 L2071.7 1602.7 L2072.2 1602.7 L2072.7 1602.7 L2073.2 1602.7 L2073.7 1602.7 L2074.2 1602.7 L2074.7 1602.7 L2075.2 1602.7 L2075.7 1602.7 L2076.2 1602.8 L2076.7 1602.9 L2077.2 1603.1 L2077.7 1603.3 L2078.2 1603.6 L2078.7 1603.9 L2079.2 1604.3 L2079.7 1604.7 L2080.2 1605.1 L2080.7 1605.5 L2081.2 1605.9 L2081.7 1606.4 L2082.2 1606.8 L2082.7 1607.3 L2083.2 1607.7 L2083.7 1608.1 L2084.2 1608.5 L2084.7 1608.8 L2085.2 1609.2 L2085.7 1609.4 L2086.2 1609.7 L2086.7 1609.9 L2087.2 1610.0 L2087.7 1610.1 L2088.2 1610.1 L2088.7 1610.2 L2089.2 1610.3 L2089.7 1610.3 L2090.2 1610.4 L2090.7 1610.5 L2091.2 1610.5 L2091.7 1610.6 L2092.2 1610.6 L2092.7 1610.6 L2093.2 1610.7 L2093.7 1610.7 L2094.2 1610.7 L2094.7 1610.7 L2095.2 1610.7 L2095.7 1610.6 L2096.2 1610.5 L2096.7 1610.4 L2097.2 1610.2 L2097.7 1610.0 L2098.2 1609.8 L2098.7 1609.5 L2099.2 1609.3 L2099.7 1609.0 L2100.2 1608.7 L2100.7 1608.5 L2101.2 1608.2 L2101.7 1607.9 L2102.2 1607.7 L2102.7 1607.4 L2103.2 1607.1 L2103.7 1606.7 L2104.2 1606.3 L2104.7 1605.9 L2105.2 1605.6 L2105.7 1605.3 L2106.2 1605.0 L2106.7 1604.9 L2107.2 1604.8 L2107.7 1604.8 L2108.2 1605.0 L2108.7 1605.2 L2109.2 1605.4 L2109.7 1605.7 L2110.2 1606.0 L2110.7 1606.2 L2111.2 1606.5 L2111.7 1606.7 L2112.2 1606.9 L2112.7 1607.0 L2113.2 1607.0 L2113.7 1606.8 L2114.2 1606.5 L2114.7 1606.1 L2115.2 1605.5 L2115.7 1604.7 L2116.2 1603.8 L2116.7 1602.8 L2117.2 1601.7 L2117.7 1600.1 L2118.2 1596.7 L2118.7 1592.0 L2119.2 1586.6 L2119.7 1580.9 L2120.2 1573.3 L2120.7 1565.2 L2121.2 1559.1 L2121.7 1554.3 L2122.2 1549.7 L2122.7 1545.6 L2123.2 1542.2 L2123.7 1539.8 L2124.2 1538.7 L2124.7 1539.2 L2125.2 1541.1 L2125.7 1543.9 L2126.2 1547.2 L2126.7 1550.7 L2127.2 1554.1 L2127.7 1558.5 L2128.2 1563.3 L2128.7 1567.6 L2129.2 1570.4 L2129.7 1572.0 L2130.2 1573.4 L2130.7 1574.6 L2131.2 1575.5 L2131.7 1576.1 L2132.2 1576.2 L2132.7 1576.0 L2133.2 1575.4 L2133.7 1574.6 L2134.2 1573.6 L2134.7 1572.5 L2135.2 1571.2 L2135.7 1569.8 L2136.2 1568.3 L2136.7 1566.8 L2137.2 1564.8 L2137.7 1562.4 L2138.2 1559.7 L2138.7 1556.8 L2139.2 1553.9 L2139.7 1550.7 L2140.2 1546.8 L2140.7 1542.9 L2141.2 1539.6 L2141.7 1537.9 L2142.2 1536.8 L2142.7 1535.9 L2143.2 1535.1 L2143.7 1534.4 L2144.2 1533.8 L2144.7 1533.3 L2145.2 1533.0 L2145.7 1532.8 L2146.2 1532.8 L2146.7 1533.3 L2147.2 1534.1 L2147.7 1535.4 L2148.2 1536.9 L2148.7 1538.6 L2149.2 1540.4 L2149.7 1542.4 L2150.2 1544.3 L2150.7 1546.2 L2151.2 1548.7 L2151.7 1551.6 L2152.2 1554.6 L2152.7 1557.4 L2153.2 1559.5 L2153.7 1560.9 L2154.2 1562.2 L2154.7 1563.4 L2155.2 1564.5 L2155.7 1565.4 L2156.2 1566.2 L2156.7 1566.7 L2157.2 1567.0 L2157.7 1567.1 L2158.2 1566.8 L2158.7 1566.2 L2159.2 1565.4 L2159.7 1564.5 L2160.2 1563.4 L2160.7 1562.2 L2161.2 1561.0 L2161.7 1559.8 L2162.2 1558.6 L2162.7 1557.3 L2163.2 1555.6 L2163.7 1553.8 L2164.2 1551.9 L2164.7 1550.0 L2165.2 1548.4 L2165.7 1547.1 L2166.2 1546.3 L2166.7 1546.1 L2167.2 1546.4 L2167.7 1547.1 L2168.2 1548.1 L2168.7 1549.3 L2169.2 1550.6 L2169.7 1552.0 L2170.2 1553.4 L2170.7 1554.7 L2171.2 1555.7 L2171.7 1556.5 L2172.2 1557.0 L2172.7 1557.1 L2173.2 1556.5 L2173.7 1555.5 L2174.2 1554.0 L2174.7 1552.1 L2175.2 1550.0 L2175.7 1547.5 L2176.2 1544.8 L2176.7 1539.6 L2177.2 1532.6 L2177.7 1526.1 L2178.2 1522.0 L2178.7 1518.7 L2179.2 1515.6 L2179.7 1512.6 L2180.2 1509.8 L2180.7 1507.4 L2181.2 1505.3 L2181.7 1503.6 L2182.2 1502.5 L2182.7 1501.8 L2183.2 1501.7 L2183.7 1502.1 L2184.2 1502.7 L2184.7 1503.7 L2185.2 1505.0 L2185.7 1506.5 L2186.2 1508.3 L2186.7 1510.3 L2187.2 1512.6 L2187.7 1515.0 L2188.2 1518.1 L2188.7 1523.4 L2189.2 1530.1 L2189.7 1536.8 L2190.2 1543.7 L2190.7 1551.4 L2191.2 1557.8 L2191.7 1561.0 L2192.2 1563.2 L2192.7 1565.0 L2193.2 1566.5 L2193.7 1567.9 L2194.2 1569.0 L2194.7 1569.9 L2195.2 1570.8 L2195.7 1571.5 L2196.2 1572.2 L2196.7 1572.8 L2197.2 1573.4 L2197.7 1573.9 L2198.2 1574.4 L2198.7 1574.8 L2199.2 1575.2 L2199.7 1575.6 L2200.2 1576.0 L2200.7 1576.5 L2201.2 1576.9 L2201.7 1577.4 L2202.2 1577.8 L2202.7 1578.3 L2203.2 1578.8 L2203.7 1579.2 L2204.2 1579.5 L2204.7 1579.9 L2205.2 1580.1 L2205.7 1580.2 L2206.2 1580.3 L2206.7 1580.3 L2207.2 1580.2 L2207.7 1580.0 L2208.2 1579.8 L2208.7 1579.6 L2209.2 1579.3 L2209.7 1579.0 L2210.2 1578.7 L2210.7 1578.3 L2211.2 1578.0 L2211.7 1577.7 L2212.2 1577.4 L2212.7 1577.1 L2213.2 1576.9 L2213.7 1576.7 L2214.2 1576.6 L2214.7 1576.5 L2215.2 1576.5 L2215.7 1576.7 L2216.2 1577.0 L2216.7 1577.5 L2217.2 1578.0 L2217.7 1578.7 L2218.2 1579.4 L2218.7 1580.2 L2219.2 1581.0 L2219.7 1581.8 L2220.2 1582.6 L2220.7 1583.3 L2221.2 1584.0 L2221.7 1584.7 L2222.2 1585.4 L2222.7 1586.2 L2223.2 1587.0 L2223.7 1587.7 L2224.2 1588.5 L2224.7 1589.3 L2225.2 1590.1 L2225.7 1590.8 L2226.2 1591.6 L2226.7 1592.3 L2227.2 1592.9 L2227.7 1593.6 L2228.2 1594.3 L2228.7 1594.9 L2229.2 1595.5 L2229.7 1596.2 L2230.2 1596.8 L2230.7 1597.4 L2231.2 1598.0 L2231.7 1598.6 L2232.2 1599.2 L2232.7 1599.8 L2233.2 1600.5 L2233.7 1601.2 L2234.2 1601.9 L2234.7 1602.7 L2235.2 1603.5 L2235.7 1604.2 L2236.2 1605.0 L2236.7 1605.8 L2237.2 1606.5 L2237.7 1607.1 L2238.2 1607.7 L2238.7 1608.2 L2239.2 1608.6 L2239.7 1608.9 L2240.2 1609.1 L2240.7 1609.2 L2241.2 1609.1 L2241.7 1609.0 L2242.2 1608.8 L2242.7 1608.5 L2243.2 1608.1 L2243.7 1607.7 L2244.2 1607.2 L2244.7 1606.7 L2245.2 1606.1 L2245.7 1605.6 L2246.2 1605.1 L2246.7 1604.5 L2247.2 1604.0 L2247.7 1603.5 L2248.2 1603.1 L2248.7 1602.7 L2249.2 1602.3 L2249.7 1601.9 L2250.2 1601.5 L2250.7 1601.1 L2251.2 1600.7 L2251.7 1600.3 L2252.2 1599.8 L2252.7 1599.4 L2253.2 1599.1 L2253.7 1598.7 L2254.2 1598.4 L2254.7 1598.1 L2255.2 1597.9 L2255.7 1597.7 L2256.2 1597.6 L2256.7 1597.5 L2257.2 1597.5 L2257.7 1597.6 L2258.2 1597.8 L2258.7 1598.0 L2259.2 1598.2 L2259.7 1598.6 L2260.2 1598.9 L2260.7 1599.3 L2261.2 1599.7 L2261.7 1600.2 L2262.2 1600.6 L2262.7 1601.1 L2263.2 1601.5 L2263.7 1601.9 L2264.2 1602.4 L2264.7 1602.7 L2265.2 1603.1 L2265.7 1603.4 L2266.2 1603.7 L2266.7 1603.9 L2267.2 1604.0 L2267.7 1604.1 L2268.2 1604.1 L2268.7 1604.0 L2269.2 1603.8 L2269.7 1603.6 L2270.2 1603.2 L2270.7 1602.8 L2271.2 1602.4 L2271.7 1601.8 L2272.2 1601.3 L2272.7 1600.6 L2273.2 1599.9 L2273.7 1599.2 L2274.2 1598.4 L2274.7 1597.6 L2275.2 1596.8 L2275.7 1595.6 L2276.2 1593.8 L2276.7 1591.7 L2277.2 1589.3 L2277.7 1586.9 L2278.2 1584.7 L2278.7 1582.7 L2279.2 1581.2 L2279.7 1579.7 L2280.2 1578.2 L2280.7 1576.8 L2281.2 1575.6 L2281.7 1574.5 L2282.2 1573.7 L2282.7 1573.1 L2283.2 1572.6 L2283.7 1572.1 L2284.2 1571.6 L2284.7 1571.2 L2285.2 1570.8 L2285.7 1570.4 L2286.2 1570.1 L2286.7 1569.9 L2287.2 1569.7 L2287.7 1569.6 L2288.2 1569.5 L2288.7 1569.5 L2289.2 1569.6 L2289.7 1569.8 L2290.2 1570.1 L2290.7 1570.5 L2291.2 1571.0 L2291.7 1571.5 L2292.2 1572.1 L2292.7 1572.7 L2293.2 1573.4 L2293.7 1574.1 L2294.2 1574.9 L2294.7 1575.7 L2295.2 1576.6 L2295.7 1577.9 L2296.2 1579.5 L2296.7 1581.4 L2297.2 1583.5 L2297.7 1585.6 L2298.2 1587.6 L2298.7 1589.4 L2299.2 1591.1 L2299.7 1592.8 L2300.2 1594.5 L2300.7 1596.2 L2301.2 1597.8 L2301.7 1599.3 L2302.2 1600.7 L2302.7 1601.8 L2303.2 1602.8 L2303.7 1603.6 L2304.2 1604.4 L2304.7 1605.2 L2305.2 1606.0 L2305.7 1606.7 L2306.2 1607.3 L2306.7 1607.9 L2307.2 1608.4 L2307.7 1608.8 L2308.2 1609.0 L2308.7 1609.2 L2309.2 1609.2 L2309.7 1609.0 L2310.2 1608.6 L2310.7 1608.0 L2311.2 1607.3 L2311.7 1606.4 L2312.2 1605.5 L2312.7 1604.4 L2313.2 1603.3 L2313.7 1602.2 L2314.2 1601.1 L2314.7 1599.9 L2315.2 1598.7 L2315.7 1597.4 L2316.2 1595.8 L2316.7 1594.2 L2317.2 1592.4 L2317.7 1590.6 L2318.2 1588.7 L2318.7 1586.8 L2319.2 1585.0 L2319.7 1583.2 L2320.2 1581.4 L2320.7 1579.6 L2321.2 1577.8 L2321.7 1575.8 L2322.2 1573.8 L2322.7 1571.7 L2323.2 1569.4 L2323.7 1566.9 L2324.2 1564.0 L2324.7 1560.8 L2325.2 1557.3 L2325.7 1553.7 L2326.2 1550.0 L2326.7 1546.1 L2327.2 1541.9 L2327.7 1537.3 L2327.8 1536.3" fill="none" stroke="#00ff00" stroke-width="13.4" stroke-linejoin="round" stroke-linecap="butt" clip-path="url(#plot)"/>
<path d="M208.0 597.0 L218.0 597.0 L218.5 597.0 L219.0 597.0 L219.5 596.9 L220.0 596.9 L220.5 596.9 L221.0 596.9 L221.5 596.8 L222.0 596.8 L222.5 596.8 L223.0 596.8 L223.5 596.8 L224.0 596.7 L224.5 596.7 L225.0 596.7 L225.5 596.7 L226.0 596.6 L226.5 596.6 L227.0 596.6 L227.5 596.6 L228.0 596.6 L228.5 596.5 L229.0 596.5 L229.5 596.5 L230.0 596.5 L230.5 596.4 L231.0 596.4 L231.5 596.4 L232.0 596.4 L232.5 596.3 L233.0 596.3 L233.5 596.3 L234.0 596.3 L234.5 596.3 L235.0 596.2 L235.5 596.2 L236.0 596.2 L236.5 596.2 L237.0 596.1 L237.5 596.1 L238.0 596.1 L238.5 596.1 L239.0 596.1 L239.5 596.0 L240.0 596.0 L240.5 596.0 L241.0 596.0 L241.5 595.9 L242.0 595.9 L242.5 595.9 L243.0 595.9 L243.5 595.8 L244.0 595.8 L244.5 595.8 L245.0 595.8 L245.5 595.8 L246.0 595.7 L246.5 595.7 L247.0 595.7 L247.5 595.7 L248.0 595.6 L248.5 595.6 L249.0 595.6 L249.5 595.6 L250.0 595.5 L250.5 595.5 L251.0 595.5 L251.5 595.5 L252.0 595.5 L252.5 595.4 L253.0 595.4 L253.5 595.4 L254.0 595.4 L254.5 595.3 L255.0 595.3 L255.5 595.3 L256.0 595.3 L256.5 595.2 L257.0 595.2 L257.5 595.2 L258.0 595.2 L258.5 595.2 L259.0 595.1 L259.5 595.1 L260.0 595.1 L260.5 595.1 L261.0 595.0 L261.5 595.0 L262.0 595.0 L262.5 595.0 L263.0 594.9 L263.5 594.9 L264.0 594.9 L264.5 594.9 L265.0 594.9 L265.5 594.8 L266.0 594.8 L266.5 594.8 L267.0 594.8 L267.5 594.7 L268.0 594.7 L268.5 594.7 L269.0 594.7 L269.5 594.6 L270.0 594.6 L270.5 594.6 L271.0 594.6 L271.5 594.5 L272.0 594.5 L272.5 594.5 L273.0 594.5 L273.5 594.5 L274.0 594.4 L274.5 594.4 L275.0 594.4 L275.5 594.4 L276.0 594.3 L276.5 594.3 L277.0 594.3 L277.5 594.3 L278.0 594.2 L278.5 594.2 L279.0 594.2 L279.5 594.2 L280.0 594.1 L280.5 594.1 L281.0 594.1 L281.5 594.1 L282.0 594.1 L282.5 594.0 L283.0 594.0 L283.5 594.0 L284.0 594.0 L284.5 593.9 L285.0 593.9 L285.5 593.9 L286.0 593.9 L286.5 593.8 L287.0 593.8 L287.5 593.8 L288.0 593.8 L288.5 593.7 L289.0 593.7 L289.5 593.7 L290.0 593.7 L290.5 593.6 L291.0 593.6 L291.5 593.6 L292.0 593.6 L292.5 593.6 L293.0 593.5 L293.5 593.5 L294.0 593.5 L294.5 593.5 L295.0 593.4 L295.5 593.4 L296.0 593.4 L296.5 593.4 L297.0 593.3 L297.5 593.3 L298.0 593.3 L298.5 593.3 L299.0 593.2 L299.5 593.2 L300.0 593.2 L300.5 593.2 L301.0 593.1 L301.5 593.1 L302.0 593.1 L302.5 593.1 L303.0 593.1 L303.5 593.0 L304.0 593.0 L304.5 593.0 L305.0 593.0 L305.5 592.9 L306.0 592.9 L306.5 592.9 L307.0 592.9 L307.5 592.9 L308.0 592.8 L308.5 592.8 L309.0 592.8 L309.5 592.8 L310.0 592.7 L310.5 592.7 L311.0 592.7 L311.5 592.7 L312.0 592.7 L312.5 592.6 L313.0 592.6 L313.5 592.6 L314.0 592.6 L314.5 592.6 L315.0 592.5 L315.5 592.5 L316.0 592.5 L316.5 592.5 L317.0 592.5 L317.5 592.4 L318.0 592.4 L318.5 592.4 L319.0 592.4 L319.5 592.3 L320.0 592.3 L320.5 592.3 L321.0 592.3 L321.5 592.3 L322.0 592.2 L322.5 592.2 L323.0 592.2 L323.5 592.2 L324.0 592.2 L324.5 592.1 L325.0 592.1 L325.5 592.1 L326.0 592.1 L326.5 592.1 L327.0 592.0 L327.5 592.0 L328.0 592.0 L328.5 592.0 L329.0 591.9 L329.5 591.9 L330.0 591.9 L330.5 591.9 L331.0 591.9 L331.5 591.8 L332.0 591.8 L332.5 591.8 L333.0 591.8 L333.5 591.8 L334.0 591.7 L334.5 591.7 L335.0 591.7 L335.5 591.7 L336.0 591.6 L336.5 591.6 L337.0 591.6 L337.5 591.6 L338.0 591.6 L338.5 591.5 L339.0 591.5 L339.5 591.5 L340.0 591.5 L340.5 591.4 L341.0 591.4 L341.5 591.4 L342.0 591.4 L342.5 591.4 L343.0 591.3 L343.5 591.3 L344.0 591.3 L344.5 591.3 L345.0 591.2 L345.5 591.2 L346.0 591.2 L346.5 591.2 L347.0 591.1 L347.5 591.1 L348.0 591.1 L348.5 591.1 L349.0 591.0 L349.5 591.0 L350.0 591.0 L350.5 591.0 L351.0 590.9 L351.5 590.9 L352.0 590.9 L352.5 590.9 L353.0 590.8 L353.5 590.8 L354.0 590.8 L354.5 590.8 L355.0 590.7 L355.5 590.7 L356.0 590.7 L356.5 590.7 L357.0 590.6 L357.5 590.6 L358.0 590.6 L358.5 590.5 L359.0 590.5 L359.5 590.5 L360.0 590.5 L360.5 590.4 L361.0 590.4 L361.5 590.4 L362.0 590.3 L362.5 590.3 L363.0 590.3 L363.5 590.2 L364.0 590.2 L364.5 590.2 L365.0 590.2 L365.5 590.1 L366.0 590.1 L366.5 590.1 L367.0 590.0 L367.5 590.0 L368.0 590.0 L368.5 589.9 L369.0 589.9 L369.5 589.9 L370.0 589.8 L370.5 589.8 L371.0 589.8 L371.5 589.7 L372.0 589.7 L372.5 589.7 L373.0 589.6 L373.5 589.6 L374.0 589.5 L374.5 589.5 L375.0 589.5 L375.5 589.4 L376.0 589.4 L376.5 589.4 L377.0 589.3 L377.5 589.3 L378.0 589.2 L378.5 589.2 L379.0 589.2 L379.5 589.1 L380.0 589.1 L380.5 589.0 L381.0 589.0 L381.5 588.9 L382.0 588.9 L382.5 588.9 L383.0 588.8 L383.5 588.8 L384.0 588.7 L384.5 588.7 L385.0 588.6 L385.5 588.6 L386.0 588.5 L386.5 588.4 L387.0 588.4 L387.5 588.3 L388.0 588.3 L388.5 588.2 L389.0 588.2 L389.5 588.1 L390.0 588.1 L390.5 588.0 L391.0 587.9 L391.5 587.9 L392.0 587.8 L392.5 587.8 L393.0 587.7 L393.5 587.6 L394.0 587.6 L394.5 587.5 L395.0 587.4 L395.5 587.4 L396.0 587.3 L396.5 587.2 L397.0 587.2 L397.5 587.1 L398.0 587.0 L398.5 587.0 L399.0 586.9 L399.5 586.8 L400.0 586.8 L400.5 586.7 L401.0 586.6 L401.5 586.5 L402.0 586.5 L402.5 586.4 L403.0 586.3 L403.5 586.2 L404.0 586.2 L404.5 586.1 L405.0 586.0 L405.5 585.9 L406.0 585.8 L406.5 585.8 L407.0 585.7 L407.5 585.6 L408.0 585.5 L408.5 585.4 L409.0 585.3 L409.5 585.2 L410.0 585.1 L410.5 585.1 L411.0 585.0 L411.5 584.9 L412.0 584.8 L412.5 584.7 L413.0 584.5 L413.5 584.4 L414.0 584.3 L414.5 584.2 L415.0 584.1 L415.5 584.0 L416.0 583.9 L416.5 583.7 L417.0 583.6 L417.5 583.5 L418.0 583.4 L418.5 583.2 L419.0 583.1 L419.5 582.9 L420.0 582.8 L420.5 582.7 L421.0 582.5 L421.5 582.3 L422.0 582.2 L422.5 582.0 L423.0 581.8 L423.5 581.6 L424.0 581.4 L424.5 581.2 L425.0 581.0 L425.5 580.7 L426.0 580.5 L426.5 580.3 L427.0 580.0 L427.5 579.7 L428.0 579.5 L428.5 579.2 L429.0 578.9 L429.5 578.6 L430.0 578.4 L430.5 578.1 L431.0 577.8 L431.5 577.5 L432.0 577.2 L432.5 576.9 L433.0 576.6 L433.5 576.2 L434.0 575.9 L434.5 575.6 L435.0 575.3 L435.5 575.0 L436.0 574.6 L436.5 574.3 L437.0 574.0 L437.5 573.7 L438.0 573.3 L438.5 573.0 L439.0 572.7 L439.5 572.4 L440.0 572.1 L440.5 571.7 L441.0 571.4 L441.5 571.1 L442.0 570.8 L442.5 570.5 L443.0 570.2 L443.5 569.9 L444.0 569.6 L444.5 569.3 L445.0 569.0 L445.5 568.7 L446.0 568.4 L446.5 568.1 L447.0 567.8 L447.5 567.6 L448.0 567.3 L448.5 567.0 L449.0 566.7 L449.5 566.4 L450.0 566.1 L450.5 565.8 L451.0 565.5 L451.5 565.2 L452.0 564.9 L452.5 564.6 L453.0 564.3 L453.5 564.0 L454.0 563.7 L454.5 563.4 L455.0 563.1 L455.5 562.8 L456.0 562.5 L456.5 562.2 L457.0 561.9 L457.5 561.6 L458.0 561.3 L458.5 561.0 L459.0 560.7 L459.5 560.4 L460.0 560.1 L460.5 559.8 L461.0 559.5 L461.5 559.2 L462.0 558.9 L462.5 558.6 L463.0 558.3 L463.5 558.0 L464.0 557.7 L464.5 557.4 L465.0 557.1 L465.5 556.8 L466.0 556.6 L466.5 556.3 L467.0 556.0 L467.5 555.7 L468.0 555.4 L468.5 555.1 L469.0 554.8 L469.5 554.5 L470.0 554.2 L470.5 554.0 L471.0 553.7 L471.5 553.4 L472.0 553.1 L472.5 552.8 L473.0 552.6 L473.5 552.3 L474.0 552.0 L474.5 551.7 L475.0 551.5 L475.5 551.2 L476.0 550.9 L476.5 550.6 L477.0 550.3 L477.5 550.1 L478.0 549.8 L478.5 549.5 L479.0 549.2 L479.5 549.0 L480.0 548.7 L480.5 548.4 L481.0 548.1 L481.5 547.9 L482.0 547.6 L482.5 547.3 L483.0 547.0 L483.5 546.8 L484.0 546.5 L484.5 546.2 L485.0 545.9 L485.5 545.7 L486.0 545.4 L486.5 545.1 L487.0 544.9 L487.5 544.6 L488.0 544.3 L488.5 544.1 L489.0 543.8 L489.5 543.5 L490.0 543.3 L490.5 543.0 L491.0 542.7 L491.5 542.5 L492.0 542.2 L492.5 542.0 L493.0 541.7 L493.5 541.4 L494.0 541.2 L494.5 540.9 L495.0 540.7 L495.5 540.4 L496.0 540.2 L496.5 539.9 L497.0 539.7 L497.5 539.4 L498.0 539.2 L498.5 539.0 L499.0 538.7 L499.5 538.5 L500.0 538.2 L500.5 538.0 L501.0 537.8 L501.5 537.6 L502.0 537.3 L502.5 537.1 L503.0 536.9 L503.5 536.7 L504.0 536.4 L504.5 536.2 L505.0 536.0 L505.5 535.8 L506.0 535.6 L506.5 535.3 L507.0 535.1 L507.5 534.9 L508.0 534.6 L508.5 534.4 L509.0 534.2 L509.5 533.9 L510.0 533.7 L510.5 533.4 L511.0 533.2 L511.5 532.9 L512.0 532.7 L512.5 532.5 L513.0 532.2 L513.5 532.0 L514.0 531.7 L514.5 531.5 L515.0 531.2 L515.5 531.0 L516.0 530.7 L516.5 530.5 L517.0 530.3 L517.5 530.0 L518.0 529.8 L518.5 529.6 L519.0 529.3 L519.5 529.1 L520.0 528.9 L520.5 528.7 L521.0 528.5 L521.5 528.3 L522.0 528.1 L522.5 527.9 L523.0 527.7 L523.5 527.6 L524.0 527.4 L524.5 527.2 L525.0 527.1 L525.5 526.9 L526.0 526.8 L526.5 526.6 L527.0 526.5 L527.5 526.4 L528.0 526.3 L528.5 526.2 L529.0 526.1 L529.5 526.0 L530.0 526.0 L530.5 525.9 L531.0 525.9 L531.5 525.8 L532.0 525.8 L532.5 525.8 L533.0 525.8 L533.5 525.8 L534.0 525.8 L534.5 525.8 L535.0 525.8 L535.5 525.8 L536.0 525.9 L536.5 525.9 L537.0 525.9 L537.5 525.9 L538.0 525.9 L538.5 526.0 L539.0 526.0 L539.5 526.0 L540.0 526.0 L540.5 526.1 L541.0 526.1 L541.5 526.1 L542.0 526.2 L542.5 526.2 L543.0 526.3 L543.5 526.3 L544.0 526.3 L544.5 526.4 L545.0 526.4 L545.5 526.5 L546.0 526.5 L546.5 526.6 L547.0 526.6 L547.5 526.7 L548.0 526.7 L548.5 526.8 L549.0 526.8 L549.5 526.9 L550.0 526.9 L550.5 527.0 L551.0 527.1 L551.5 527.1 L552.0 527.2 L552.5 527.2 L553.0 527.3 L553.5 527.3 L554.0 527.4 L554.5 527.4 L555.0 527.5 L555.5 527.6 L556.0 527.6 L556.5 527.7 L557.0 527.8 L557.5 527.8 L558.0 527.9 L558.5 528.0 L559.0 528.1 L559.5 528.1 L560.0 528.2 L560.5 528.3 L561.0 528.4 L561.5 528.5 L562.0 528.6 L562.5 528.7 L563.0 528.8 L563.5 528.9 L564.0 529.0 L564.5 529.1 L565.0 529.2 L565.5 529.3 L566.0 529.5 L566.5 529.6 L567.0 529.7 L567.5 529.8 L568.0 529.9 L568.5 530.1 L569.0 530.2 L569.5 530.3 L570.0 530.4 L570.5 530.6 L571.0 530.7 L571.5 530.8 L572.0 531.0 L572.5 531.1 L573.0 531.2 L573.5 531.4 L574.0 531.5 L574.5 531.7 L575.0 531.8 L575.5 531.9 L576.0 532.1 L576.5 532.2 L577.0 532.4 L577.5 532.5 L578.0 532.6 L578.5 532.8 L579.0 532.9 L579.5 533.1 L580.0 533.2 L580.5 533.3 L581.0 533.5 L581.5 533.6 L582.0 533.8 L582.5 533.9 L583.0 534.1 L583.5 534.3 L584.0 534.4 L584.5 534.6 L585.0 534.8 L585.5 534.9 L586.0 535.1 L586.5 535.3 L587.0 535.5 L587.5 535.6 L588.0 535.8 L588.5 536.0 L589.0 536.2 L589.5 536.4 L590.0 536.6 L590.5 536.8 L591.0 536.9 L591.5 537.1 L592.0 537.3 L592.5 537.5 L593.0 537.7 L593.5 537.9 L594.0 538.1 L594.5 538.3 L595.0 538.5 L595.5 538.7 L596.0 538.9 L596.5 539.1 L597.0 539.3 L597.5 539.5 L598.0 539.8 L598.5 540.0 L599.0 540.2 L599.5 540.4 L600.0 540.6 L600.5 540.8 L601.0 541.0 L601.5 541.2 L602.0 541.4 L602.5 541.6 L603.0 541.8 L603.5 542.0 L604.0 542.2 L604.5 542.4 L605.0 542.6 L605.5 542.8 L606.0 543.0 L606.5 543.2 L607.0 543.4 L607.5 543.7 L608.0 543.8 L608.5 544.0 L609.0 544.2 L609.5 544.4 L610.0 544.6 L610.5 544.8 L611.0 545.0 L611.5 545.3 L612.0 545.5 L612.5 545.7 L613.0 545.9 L613.5 546.1 L614.0 546.3 L614.5 546.6 L615.0 546.8 L615.5 547.0 L616.0 547.2 L616.5 547.5 L617.0 547.7 L617.5 547.9 L618.0 548.2 L618.5 548.4 L619.0 548.6 L619.5 548.9 L620.0 549.1 L620.5 549.3 L621.0 549.6 L621.5 549.8 L622.0 550.0 L622.5 550.3 L623.0 550.5 L623.5 550.7 L624.0 550.9 L624.5 551.2 L625.0 551.4 L625.5 551.6 L626.0 551.8 L626.5 552.0 L627.0 552.3 L627.5 552.5 L628.0 552.7 L628.5 552.9 L629.0 553.1 L629.5 553.3 L630.0 553.5 L630.5 553.7 L631.0 553.9 L631.5 554.0 L632.0 554.2 L632.5 554.4 L633.0 554.6 L633.5 554.7 L634.0 554.9 L634.5 555.0 L635.0 555.2 L635.5 555.3 L636.0 555.5 L636.5 555.6 L637.0 555.7 L637.5 555.8 L638.0 556.0 L638.5 556.1 L639.0 556.2 L639.5 556.3 L640.0 556.3 L640.5 556.4 L641.0 556.5 L641.5 556.6 L642.0 556.7 L642.5 556.8 L643.0 556.9 L643.5 557.0 L644.0 557.0 L644.5 557.1 L645.0 557.2 L645.5 557.3 L646.0 557.3 L646.5 557.4 L647.0 557.5 L647.5 557.6 L648.0 557.6 L648.5 557.7 L649.0 557.8 L649.5 557.8 L650.0 557.9 L650.5 558.0 L651.0 558.0 L651.5 558.1 L652.0 558.2 L652.5 558.2 L653.0 558.3 L653.5 558.3 L654.0 558.4 L654.5 558.4 L655.0 558.5 L655.5 558.6 L656.0 558.6 L656.5 558.7 L657.0 558.7 L657.5 558.8 L658.0 558.8 L658.5 558.9 L659.0 558.9 L659.5 559.0 L660.0 559.0 L660.5 559.1 L661.0 559.1 L661.5 559.2 L662.0 559.2 L662.5 559.3 L663.0 559.4 L663.5 559.4 L664.0 559.5 L664.5 559.5 L665.0 559.6 L665.5 559.6 L666.0 559.7 L666.5 559.7 L667.0 559.8 L667.5 559.8 L668.0 559.9 L668.5 559.9 L669.0 560.0 L669.5 560.0 L670.0 560.1 L670.5 560.1 L671.0 560.2 L671.5 560.2 L672.0 560.3 L672.5 560.4 L673.0 560.4 L673.5 560.5 L674.0 560.5 L674.5 560.6 L675.0 560.6 L675.5 560.7 L676.0 560.8 L676.5 560.8 L677.0 560.9 L677.5 561.0 L678.0 561.0 L678.5 561.1 L679.0 561.2 L679.5 561.2 L680.0 561.3 L680.5 561.4 L681.0 561.5 L681.5 561.5 L682.0 561.6 L682.5 561.7 L683.0 561.8 L683.5 561.8 L684.0 561.9 L684.5 562.0 L685.0 562.1 L685.5 562.2 L686.0 562.3 L686.5 562.4 L687.0 562.4 L687.5 562.5 L688.0 562.6 L688.5 562.7 L689.0 562.8 L689.5 562.9 L690.0 563.0 L690.5 563.1 L691.0 563.2 L691.5 563.3 L692.0 563.4 L692.5 563.4 L693.0 563.5 L693.5 563.6 L694.0 563.7 L694.5 563.8 L695.0 563.9 L695.5 564.0 L696.0 564.1 L696.5 564.2 L697.0 564.3 L697.5 564.4 L698.0 564.5 L698.5 564.6 L699.0 564.7 L699.5 564.8 L700.0 564.8 L700.5 564.9 L701.0 565.0 L701.5 565.1 L702.0 565.2 L702.5 565.3 L703.0 565.4 L703.5 565.5 L704.0 565.6 L704.5 565.6 L705.0 565.7 L705.5 565.8 L706.0 565.9 L706.5 566.0 L707.0 566.1 L707.5 566.1 L708.0 566.2 L708.5 566.3 L709.0 566.4 L709.5 566.4 L710.0 566.5 L710.5 566.6 L711.0 566.7 L711.5 566.7 L712.0 566.8 L712.5 566.9 L713.0 566.9 L713.5 567.0 L714.0 567.1 L714.5 567.1 L715.0 567.2 L715.5 567.2 L716.0 567.3 L716.5 567.3 L717.0 567.4 L717.5 567.4 L718.0 567.5 L718.5 567.5 L719.0 567.6 L719.5 567.6 L720.0 567.6 L720.5 567.7 L721.0 567.7 L721.5 567.7 L722.0 567.8 L722.5 567.8 L723.0 567.8 L723.5 567.8 L724.0 567.9 L724.5 567.9 L725.0 567.9 L725.5 567.9 L726.0 567.9 L726.5 567.9 L727.0 567.9 L727.5 567.9 L728.0 567.9 L728.5 567.9 L729.0 567.9 L729.5 567.9 L730.0 567.9 L730.5 567.8 L731.0 567.8 L731.5 567.8 L732.0 567.8 L732.5 567.8 L733.0 567.8 L733.5 567.7 L734.0 567.7 L734.5 567.7 L735.0 567.7 L735.5 567.6 L736.0 567.6 L736.5 567.6 L737.0 567.6 L737.5 567.5 L738.0 567.5 L738.5 567.5 L739.0 567.4 L739.5 567.4 L740.0 567.3 L740.5 567.3 L741.0 567.3 L741.5 567.2 L742.0 567.2 L742.5 567.2 L743.0 567.1 L743.5 567.1 L744.0 567.0 L744.5 567.0 L745.0 567.0 L745.5 566.9 L746.0 566.9 L746.5 566.8 L747.0 566.8 L747.5 566.8 L748.0 566.7 L748.5 566.7 L749.0 566.6 L749.5 566.6 L750.0 566.6 L750.5 566.5 L751.0 566.5 L751.5 566.4 L752.0 566.4 L752.5 566.4 L753.0 566.3 L753.5 566.3 L754.0 566.2 L754.5 566.2 L755.0 566.2 L755.5 566.1 L756.0 566.1 L756.5 566.1 L757.0 566.0 L757.5 566.0 L758.0 566.0 L758.5 565.9 L759.0 565.9 L759.5 565.9 L760.0 565.9 L760.5 565.8 L761.0 565.8 L761.5 565.8 L762.0 565.7 L762.5 565.7 L763.0 565.7 L763.5 565.7 L764.0 565.6 L764.5 565.6 L765.0 565.6 L765.5 565.6 L766.0 565.5 L766.5 565.5 L767.0 565.5 L767.5 565.5 L768.0 565.4 L768.5 565.4 L769.0 565.4 L769.5 565.3 L770.0 565.3 L770.5 565.3 L771.0 565.3 L771.5 565.2 L772.0 565.2 L772.5 565.2 L773.0 565.1 L773.5 565.1 L774.0 565.1 L774.5 565.0 L775.0 565.0 L775.5 565.0 L776.0 564.9 L776.5 564.9 L777.0 564.8 L777.5 564.8 L778.0 564.8 L778.5 564.7 L779.0 564.7 L779.5 564.6 L780.0 564.6 L780.5 564.5 L781.0 564.5 L781.5 564.4 L782.0 564.4 L782.5 564.3 L783.0 564.3 L783.5 564.2 L784.0 564.2 L784.5 564.1 L785.0 564.1 L785.5 564.0 L786.0 563.9 L786.5 563.9 L787.0 563.8 L787.5 563.7 L788.0 563.6 L788.5 563.5 L789.0 563.4 L789.5 563.3 L790.0 563.1 L790.5 563.0 L791.0 562.9 L791.5 562.7 L792.0 562.6 L792.5 562.4 L793.0 562.3 L793.5 562.1 L794.0 561.9 L794.5 561.7 L795.0 561.6 L795.5 561.4 L796.0 561.2 L796.5 561.0 L797.0 560.8 L797.5 560.6 L798.0 560.4 L798.5 560.2 L799.0 559.9 L799.5 559.7 L800.0 559.5 L800.5 559.3 L801.0 559.0 L801.5 558.8 L802.0 558.6 L802.5 558.3 L803.0 558.0 L803.5 557.7 L804.0 557.4 L804.5 557.1 L805.0 556.8 L805.5 556.4 L806.0 556.1 L806.5 555.7 L807.0 555.4 L807.5 555.0 L808.0 554.6 L808.5 554.2 L809.0 553.7 L809.5 553.3 L810.0 552.9 L810.5 552.4 L811.0 552.0 L811.5 551.5 L812.0 551.1 L812.5 550.6 L813.0 550.1 L813.5 549.6 L814.0 549.1 L814.5 548.6 L815.0 548.1 L815.5 547.6 L816.0 547.1 L816.5 546.5 L817.0 546.0 L817.5 545.4 L818.0 544.8 L818.5 544.2 L819.0 543.6 L819.5 543.0 L820.0 542.3 L820.5 541.6 L821.0 540.9 L821.5 540.1 L822.0 539.3 L822.5 538.5 L823.0 537.6 L823.5 536.7 L824.0 535.8 L824.5 534.8 L825.0 533.7 L825.5 532.6 L826.0 531.3 L826.5 529.8 L827.0 528.3 L827.5 526.7 L828.0 525.0 L828.5 523.2 L829.0 521.3 L829.5 519.4 L830.0 517.4 L830.5 515.3 L831.0 513.2 L831.5 511.1 L832.0 508.9 L832.5 506.8 L833.0 504.4 L833.5 501.9 L834.0 499.3 L834.5 496.5 L835.0 493.7 L835.5 490.7 L836.0 487.7 L836.5 484.7 L837.0 481.7 L837.5 478.6 L838.0 475.7 L838.5 472.7 L839.0 469.6 L839.5 466.4 L840.0 463.1 L840.5 459.8 L841.0 456.6 L841.5 453.4 L842.0 450.5 L842.5 447.8 L843.0 445.4 L843.5 443.4 L844.0 441.2 L844.5 439.1 L845.0 437.1 L845.5 435.2 L846.0 433.6 L846.5 432.4 L847.0 431.6 L847.5 431.3 L848.0 431.8 L848.5 433.2 L849.0 435.3 L849.5 438.1 L850.0 441.5 L850.5 445.3 L851.0 449.5 L851.5 453.8 L852.0 458.3 L852.5 464.1 L853.0 471.8 L853.5 480.0 L854.0 487.6 L854.5 494.9 L855.0 502.4 L855.5 508.9 L856.0 513.0 L856.5 515.4 L857.0 517.3 L857.5 518.0 L858.0 517.9 L858.5 517.5 L859.0 517.0 L859.5 516.4 L860.0 515.6 L860.5 514.8 L861.0 514.0 L861.5 513.2 L862.0 512.5 L862.5 511.9 L863.0 511.4 L863.5 511.1 L864.0 511.2 L864.5 511.7 L865.0 512.7 L865.5 514.1 L866.0 515.8 L866.5 517.7 L867.0 519.6 L867.5 521.4 L868.0 523.1 L868.5 524.4 L869.0 525.4 L869.5 525.8 L870.0 525.7 L870.5 525.5 L871.0 525.1 L871.5 524.5 L872.0 523.9 L872.5 523.1 L873.0 522.3 L873.5 521.5 L874.0 520.7 L874.5 519.8 L875.0 519.1 L875.5 518.4 L876.0 517.8 L876.5 517.4 L877.0 517.1 L877.5 517.0 L878.0 517.1 L878.5 517.4 L879.0 517.9 L879.5 518.6 L880.0 519.4 L880.5 520.3 L881.0 521.4 L881.5 522.4 L882.0 523.6 L882.5 524.7 L883.0 525.8 L883.5 526.9 L884.0 528.0 L884.5 528.9 L885.0 529.8 L885.5 530.5 L886.0 531.1 L886.5 531.5 L887.0 531.7 L887.5 531.7 L888.0 531.5 L888.5 531.2 L889.0 530.7 L889.5 530.1 L890.0 529.4 L890.5 528.6 L891.0 527.8 L891.5 526.9 L892.0 526.0 L892.5 525.0 L893.0 524.1 L893.5 523.2 L894.0 522.2 L894.5 521.4 L895.0 520.6 L895.5 519.9 L896.0 519.2 L896.5 518.7 L897.0 518.3 L897.5 518.1 L898.0 518.0 L898.5 518.2 L899.0 518.9 L899.5 520.1 L900.0 521.6 L900.5 523.5 L901.0 525.7 L901.5 528.2 L902.0 531.0 L902.5 534.0 L903.0 537.4 L903.5 543.7 L904.0 552.3 L904.5 560.9 L905.0 566.8 L905.5 571.4 L906.0 575.7 L906.5 579.4 L907.0 582.5 L907.5 584.7 L908.0 585.9 L908.5 587.0 L909.0 588.0 L909.5 588.9 L910.0 589.8 L910.5 590.6 L911.0 591.4 L911.5 592.1 L912.0 592.8 L912.5 593.5 L913.0 594.1 L913.5 594.6 L914.0 595.1 L914.5 595.5 L915.0 595.9 L915.5 596.2 L916.0 596.5 L916.5 596.8 L917.0 596.9 L917.5 597.1 L918.0 597.2 L918.5 597.2 L919.0 597.2 L919.5 597.2 L920.0 597.2 L920.5 597.1 L921.0 597.1 L921.5 597.0 L922.0 597.0 L922.5 596.9 L923.0 596.8 L923.5 596.7 L924.0 596.6 L924.5 596.5 L925.0 596.4 L925.5 596.3 L926.0 596.2 L926.5 596.1 L927.0 596.0 L927.5 595.8 L928.0 595.7 L928.5 595.6 L929.0 595.4 L929.5 595.3 L930.0 595.1 L930.5 595.0 L931.0 594.8 L931.5 594.7 L932.0 594.5 L932.5 594.3 L933.0 594.2 L933.5 594.0 L934.0 593.9 L934.5 593.7 L935.0 593.5 L935.5 593.4 L936.0 593.2 L936.5 593.1 L937.0 592.9 L937.5 592.8 L938.0 592.6 L938.5 592.5 L939.0 592.4 L939.5 592.2 L940.0 592.1 L940.5 592.0 L941.0 591.9 L941.5 591.8 L942.0 591.7 L942.5 591.6 L943.0 591.5 L943.5 591.4 L944.0 591.3 L944.5 591.2 L945.0 591.2 L945.5 591.1 L946.0 591.1 L946.5 591.0 L947.0 591.0 L947.5 591.0 L948.0 591.0 L948.5 591.0 L949.0 591.0 L949.5 591.0 L950.0 591.0 L950.5 591.1 L951.0 591.1 L951.5 591.1 L952.0 591.1 L952.5 591.2 L953.0 591.2 L953.5 591.2 L954.0 591.3 L954.5 591.3 L955.0 591.3 L955.5 591.4 L956.0 591.4 L956.5 591.4 L957.0 591.5 L957.5 591.5 L958.0 591.6 L958.5 591.6 L959.0 591.7 L959.5 591.7 L960.0 591.7 L960.5 591.8 L961.0 591.8 L961.5 591.9 L962.0 591.9 L962.5 591.9 L963.0 592.0 L963.5 592.0 L964.0 592.0 L964.5 592.0 L965.0 592.1 L965.5 592.1 L966.0 592.1 L966.5 592.1 L967.0 592.1 L967.5 592.1 L968.0 592.1 L968.5 592.1 L969.0 592.0 L969.5 592.0 L970.0 591.9 L970.5 591.8 L971.0 591.7 L971.5 591.6 L972.0 591.5 L972.5 591.4 L973.0 591.3 L973.5 591.1 L974.0 591.0 L974.5 590.9 L975.0 590.7 L975.5 590.5 L976.0 590.4 L976.5 590.2 L977.0 590.1 L977.5 589.9 L978.0 589.7 L978.5 589.6 L979.0 589.4 L979.5 589.3 L980.0 589.1 L980.5 589.0 L981.0 588.9 L981.5 588.7 L982.0 588.6 L982.5 588.5 L983.0 588.4 L983.5 588.3 L984.0 588.2 L984.5 588.1 L985.0 588.1 L985.5 588.0 L986.0 588.0 L986.5 588.0 L987.0 588.0 L987.5 588.0 L988.0 588.1 L988.5 588.1 L989.0 588.2 L989.5 588.2 L990.0 588.3 L990.5 588.4 L991.0 588.5 L991.5 588.6 L992.0 588.7 L992.5 588.8 L993.0 589.0 L993.5 589.1 L994.0 589.2 L994.5 589.3 L995.0 589.4 L995.5 589.5 L996.0 589.6 L996.5 589.7 L997.0 589.8 L997.5 589.8 L998.0 589.9 L998.5 589.9 L999.0 590.0 L999.5 590.0 L1000.0 590.0 L1000.5 590.0 L1001.0 590.0 L1001.5 590.0 L1002.0 590.0 L1002.5 589.9 L1003.0 589.9 L1003.5 589.9 L1004.0 589.9 L1004.5 589.8 L1005.0 589.8 L1005.5 589.8 L1006.0 589.7 L1006.5 589.7 L1007.0 589.7 L1007.5 589.6 L1008.0 589.6 L1008.5 589.5 L1009.0 589.5 L1009.5 589.4 L1010.0 589.3 L1010.5 589.3 L1011.0 589.2 L1011.5 589.2 L1012.0 589.1 L1012.5 589.0 L1013.0 589.0 L1013.5 588.9 L1014.0 588.8 L1014.5 588.7 L1015.0 588.7 L1015.5 588.6 L1016.0 588.5 L1016.5 588.4 L1017.0 588.3 L1017.5 588.3 L1018.0 588.2 L1018.5 588.1 L1019.0 588.0 L1019.5 587.9 L1020.0 587.8 L1020.5 587.7 L1021.0 587.7 L1021.5 587.6 L1022.0 587.5 L1022.5 587.4 L1023.0 587.3 L1023.5 587.2 L1024.0 587.1 L1024.5 587.0 L1025.0 586.9 L1025.5 586.8 L1026.0 586.8 L1026.5 586.7 L1027.0 586.6 L1027.5 586.5 L1028.0 586.4 L1028.5 586.3 L1029.0 586.2 L1029.5 586.1 L1030.0 586.0 L1030.5 586.0 L1031.0 585.9 L1031.5 585.8 L1032.0 585.7 L1032.5 585.6 L1033.0 585.5 L1033.5 585.4 L1034.0 585.3 L1034.5 585.2 L1035.0 585.0 L1035.5 584.9 L1036.0 584.8 L1036.5 584.6 L1037.0 584.5 L1037.5 584.4 L1038.0 584.2 L1038.5 584.1 L1039.0 584.0 L1039.5 583.9 L1040.0 583.7 L1040.5 583.6 L1041.0 583.6 L1041.5 583.5 L1042.0 583.4 L1042.5 583.4 L1043.0 583.3 L1043.5 583.3 L1044.0 583.3 L1044.5 583.3 L1045.0 583.4 L1045.5 583.5 L1046.0 583.7 L1046.5 583.9 L1047.0 584.1 L1047.5 584.3 L1048.0 584.6 L1048.5 584.8 L1049.0 585.1 L1049.5 585.4 L1050.0 585.7 L1050.5 585.9 L1051.0 586.2 L1051.5 586.5 L1052.0 586.7 L1052.5 586.9 L1053.0 587.2 L1053.5 587.3 L1054.0 587.5 L1054.5 587.6 L1055.0 587.7 L1055.5 587.7 L1056.0 587.7 L1056.5 587.7 L1057.0 587.7 L1057.5 587.7 L1058.0 587.7 L1058.5 587.7 L1059.0 587.7 L1059.5 587.7 L1060.0 587.7 L1060.5 587.7 L1061.0 587.7 L1061.5 587.7 L1062.0 587.7 L1062.5 587.7 L1063.0 587.7 L1063.5 587.7 L1064.0 587.7 L1064.5 587.7 L1065.0 587.7 L1065.5 587.7 L1066.0 587.7 L1066.5 587.7 L1067.0 587.6 L1067.5 587.6 L1068.0 587.6 L1068.5 587.6 L1069.0 587.6 L1069.5 587.6 L1070.0 587.6 L1070.5 587.6 L1071.0 587.6 L1071.5 587.6 L1072.0 587.6 L1072.5 587.6 L1073.0 587.6 L1073.5 587.6 L1074.0 587.6 L1074.5 587.6 L1075.0 587.6 L1075.5 587.5 L1076.0 587.5 L1076.5 587.5 L1077.0 587.5 L1077.5 587.5 L1078.0 587.5 L1078.5 587.5 L1079.0 587.5 L1079.5 587.5 L1080.0 587.5 L1080.5 587.5 L1081.0 587.5 L1081.5 587.4 L1082.0 587.4 L1082.5 587.4 L1083.0 587.4 L1083.5 587.4 L1084.0 587.4 L1084.5 587.4 L1085.0 587.4 L1085.5 587.4 L1086.0 587.4 L1086.5 587.3 L1087.0 587.3 L1087.5 587.3 L1088.0 587.3 L1088.5 587.3 L1089.0 587.3 L1089.5 587.3 L1090.0 587.3 L1090.5 587.2 L1091.0 587.2 L1091.5 587.2 L1092.0 587.2 L1092.5 587.2 L1093.0 587.2 L1093.5 587.2 L1094.0 587.2 L1094.5 587.1 L1095.0 587.1 L1095.5 587.1 L1096.0 587.1 L1096.5 587.1 L1097.0 587.1 L1097.5 587.1 L1098.0 587.1 L1098.5 587.0 L1099.0 587.0 L1099.5 587.0 L1100.0 587.0 L1100.5 587.0 L1101.0 587.0 L1101.5 587.0 L1102.0 586.9 L1102.5 586.9 L1103.0 586.9 L1103.5 586.9 L1104.0 586.9 L1104.5 586.9 L1105.0 586.8 L1105.5 586.8 L1106.0 586.8 L1106.5 586.8 L1107.0 586.8 L1107.5 586.8 L1108.0 586.7 L1108.5 586.7 L1109.0 586.7 L1109.5 586.7 L1110.0 586.7 L1110.5 586.7 L1111.0 586.6 L1111.5 586.6 L1112.0 586.6 L1112.5 586.6 L1113.0 586.6 L1113.5 586.6 L1114.0 586.5 L1114.5 586.5 L1115.0 586.5 L1115.5 586.5 L1116.0 586.5 L1116.5 586.5 L1117.0 586.4 L1117.5 586.4 L1118.0 586.4 L1118.5 586.4 L1119.0 586.4 L1119.5 586.3 L1120.0 586.3 L1120.5 586.3 L1121.0 586.3 L1121.5 586.3 L1122.0 586.3 L1122.5 586.2 L1123.0 586.2 L1123.5 586.2 L1124.0 586.2 L1124.5 586.2 L1125.0 586.1 L1125.5 586.1 L1126.0 586.1 L1126.5 586.1 L1127.0 586.1 L1127.5 586.0 L1128.0 586.0 L1128.5 586.0 L1129.0 586.0 L1129.5 586.0 L1130.0 585.9 L1130.5 585.9 L1131.0 585.9 L1131.5 585.9 L1132.0 585.9 L1132.5 585.8 L1133.0 585.8 L1133.5 585.8 L1134.0 585.8 L1134.5 585.8 L1135.0 585.7 L1135.5 585.7 L1136.0 585.7 L1136.5 585.7 L1137.0 585.7 L1137.5 585.6 L1138.0 585.6 L1138.5 585.6 L1139.0 585.6 L1139.5 585.6 L1140.0 585.5 L1140.5 585.5 L1141.0 585.5 L1141.5 585.5 L1142.0 585.5 L1142.5 585.4 L1143.0 585.4 L1143.5 585.4 L1144.0 585.4 L1144.5 585.3 L1145.0 585.3 L1145.5 585.3 L1146.0 585.3 L1146.5 585.3 L1147.0 585.2 L1147.5 585.2 L1148.0 585.2 L1148.5 585.2 L1149.0 585.2 L1149.5 585.1 L1150.0 585.1 L1150.5 585.1 L1151.0 585.1 L1151.5 585.1 L1152.0 585.0 L1152.5 585.0 L1153.0 585.0 L1153.5 585.0 L1154.0 584.9 L1154.5 584.9 L1155.0 584.9 L1155.5 584.9 L1156.0 584.9 L1156.5 584.8 L1157.0 584.8 L1157.5 584.8 L1158.0 584.8 L1158.5 584.7 L1159.0 584.7 L1159.5 584.7 L1160.0 584.7 L1160.5 584.7 L1161.0 584.6 L1161.5 584.6 L1162.0 584.6 L1162.5 584.6 L1163.0 584.6 L1163.5 584.5 L1164.0 584.5 L1164.5 584.5 L1165.0 584.5 L1165.5 584.4 L1166.0 584.4 L1166.5 584.4 L1167.0 584.4 L1167.5 584.4 L1168.0 584.3 L1168.5 584.3 L1169.0 584.3 L1169.5 584.3 L1170.0 584.3 L1170.5 584.2 L1171.0 584.2 L1171.5 584.2 L1172.0 584.2 L1172.5 584.2 L1173.0 584.1 L1173.5 584.1 L1174.0 584.1 L1174.5 584.1 L1175.0 584.0 L1175.5 584.0 L1176.0 584.0 L1176.5 584.0 L1177.0 584.0 L1177.5 583.9 L1178.0 583.9 L1178.5 583.9 L1179.0 583.9 L1179.5 583.9 L1180.0 583.8 L1180.5 583.8 L1181.0 583.8 L1181.5 583.8 L1182.0 583.8 L1182.5 583.7 L1183.0 583.7 L1183.5 583.7 L1184.0 583.7 L1184.5 583.7 L1185.0 583.6 L1185.5 583.6 L1186.0 583.6 L1186.5 583.6 L1187.0 583.6 L1187.5 583.5 L1188.0 583.5 L1188.5 583.5 L1189.0 583.5 L1189.5 583.5 L1190.0 583.4 L1190.5 583.4 L1191.0 583.4 L1191.5 583.4 L1192.0 583.4 L1192.5 583.3 L1193.0 583.3 L1193.5 583.3 L1194.0 583.3 L1194.5 583.3 L1195.0 583.2 L1195.5 583.2 L1196.0 583.2 L1196.5 583.2 L1197.0 583.2 L1197.5 583.1 L1198.0 583.1 L1198.5 583.1 L1199.0 583.1 L1199.5 583.1 L1200.0 583.0 L1200.5 583.0 L1201.0 583.0 L1201.5 583.0 L1202.0 583.0 L1202.5 582.9 L1203.0 582.9 L1203.5 582.9 L1204.0 582.9 L1204.5 582.9 L1205.0 582.8 L1205.5 582.8 L1206.0 582.8 L1206.5 582.8 L1207.0 582.8 L1207.5 582.7 L1208.0 582.7 L1208.5 582.7 L1209.0 582.7 L1209.5 582.7 L1210.0 582.6 L1210.5 582.6 L1211.0 582.6 L1211.5 582.6 L1212.0 582.6 L1212.5 582.5 L1213.0 582.5 L1213.5 582.5 L1214.0 582.5 L1214.5 582.5 L1215.0 582.4 L1215.5 582.4 L1216.0 582.4 L1216.5 582.4 L1217.0 582.4 L1217.5 582.3 L1218.0 582.3 L1218.5 582.3 L1219.0 582.3 L1219.5 582.2 L1220.0 582.2 L1220.5 582.2 L1221.0 582.2 L1221.5 582.2 L1222.0 582.1 L1222.5 582.1 L1223.0 582.1 L1223.5 582.1 L1224.0 582.1 L1224.5 582.0 L1225.0 582.0 L1225.5 582.0 L1226.0 582.0 L1226.5 581.9 L1227.0 581.9 L1227.5 581.9 L1228.0 581.9 L1228.5 581.9 L1229.0 581.8 L1229.5 581.8 L1230.0 581.8 L1230.5 581.8 L1231.0 581.7 L1231.5 581.7 L1232.0 581.7 L1232.5 581.7 L1233.0 581.7 L1233.5 581.6 L1234.0 581.6 L1234.5 581.6 L1235.0 581.6 L1235.5 581.5 L1236.0 581.5 L1236.5 581.5 L1237.0 581.5 L1237.5 581.5 L1238.0 581.4 L1238.5 581.4 L1239.0 581.4 L1239.5 581.4 L1240.0 581.3 L1240.5 581.3 L1241.0 581.3 L1241.5 581.3 L1242.0 581.2 L1242.5 581.2 L1243.0 581.2 L1243.5 581.2 L1244.0 581.2 L1244.5 581.1 L1245.0 581.1 L1245.5 581.1 L1246.0 581.1 L1246.5 581.0 L1247.0 581.0 L1247.5 581.0 L1248.0 581.0 L1248.5 580.9 L1249.0 580.9 L1249.5 580.9 L1250.0 580.9 L1250.5 580.9 L1251.0 580.8 L1251.5 580.8 L1252.0 580.8 L1252.5 580.8 L1253.0 580.7 L1253.5 580.7 L1254.0 580.7 L1254.5 580.7 L1255.0 580.6 L1255.5 580.6 L1256.0 580.6 L1256.5 580.6 L1257.0 580.5 L1257.5 580.5 L1258.0 580.5 L1258.5 580.5 L1259.0 580.4 L1259.5 580.4 L1260.0 580.4 L1260.5 580.4 L1261.0 580.4 L1261.5 580.3 L1262.0 580.3 L1262.5 580.3 L1263.0 580.3 L1263.5 580.2 L1264.0 580.2 L1264.5 580.2 L1265.0 580.2 L1265.5 580.1 L1266.0 580.1 L1266.5 580.1 L1267.0 580.1 L1267.5 580.0 L1268.0 580.0 L1268.5 580.0 L1269.0 580.0 L1269.5 579.9 L1270.0 579.9 L1270.5 579.9 L1271.0 579.9 L1271.5 579.8 L1272.0 579.8 L1272.5 579.8 L1273.0 579.8 L1273.5 579.7 L1274.0 579.7 L1274.5 579.7 L1275.0 579.7 L1275.5 579.6 L1276.0 579.6 L1276.5 579.6 L1277.0 579.6 L1277.5 579.5 L1278.0 579.5 L1278.5 579.5 L1279.0 579.5 L1279.5 579.4 L1280.0 579.4 L1280.5 579.4 L1281.0 579.4 L1281.5 579.3 L1282.0 579.3 L1282.5 579.3 L1283.0 579.3 L1283.5 579.2 L1284.0 579.2 L1284.5 579.2 L1285.0 579.2 L1285.5 579.1 L1286.0 579.1 L1286.5 579.1 L1287.0 579.1 L1287.5 579.0 L1288.0 579.0 L1288.5 579.0 L1289.0 579.0 L1289.5 578.9 L1290.0 578.9 L1290.5 578.9 L1291.0 578.9 L1291.5 578.8 L1292.0 578.8 L1292.5 578.8 L1293.0 578.8 L1293.5 578.7 L1294.0 578.7 L1294.5 578.7 L1295.0 578.7 L1295.5 578.6 L1296.0 578.6 L1296.5 578.6 L1297.0 578.6 L1297.5 578.5 L1298.0 578.5 L1298.5 578.5 L1299.0 578.5 L1299.5 578.4 L1300.0 578.4 L1300.5 578.4 L1301.0 578.4 L1301.5 578.3 L1302.0 578.3 L1302.5 578.3 L1303.0 578.2 L1303.5 578.2 L1304.0 578.2 L1304.5 578.2 L1305.0 578.1 L1305.5 578.1 L1306.0 578.1 L1306.5 578.1 L1307.0 578.0 L1307.5 578.0 L1308.0 578.0 L1308.5 578.0 L1309.0 577.9 L1309.5 577.9 L1310.0 577.9 L1310.5 577.9 L1311.0 577.8 L1311.5 577.8 L1312.0 577.8 L1312.5 577.8 L1313.0 577.7 L1313.5 577.7 L1314.0 577.7 L1314.5 577.7 L1315.0 577.6 L1315.5 577.6 L1316.0 577.6 L1316.5 577.5 L1317.0 577.5 L1317.5 577.5 L1318.0 577.5 L1318.5 577.4 L1319.0 577.4 L1319.5 577.4 L1320.0 577.4 L1320.5 577.3 L1321.0 577.3 L1321.5 577.3 L1322.0 577.3 L1322.5 577.2 L1323.0 577.2 L1323.5 577.2 L1324.0 577.2 L1324.5 577.1 L1325.0 577.1 L1325.5 577.1 L1326.0 577.1 L1326.5 577.0 L1327.0 577.0 L1327.5 577.0 L1328.0 576.9 L1328.5 576.9 L1329.0 576.9 L1329.5 576.9 L1330.0 576.8 L1330.5 576.8 L1331.0 576.8 L1331.5 576.8 L1332.0 576.7 L1332.5 576.7 L1333.0 576.7 L1333.5 576.7 L1334.0 576.6 L1334.5 576.6 L1335.0 576.6 L1335.5 576.6 L1336.0 576.5 L1336.5 576.5 L1337.0 576.5 L1337.5 576.4 L1338.0 576.4 L1338.5 576.4 L1339.0 576.4 L1339.5 576.3 L1340.0 576.3 L1340.5 576.3 L1341.0 576.3 L1341.5 576.2 L1342.0 576.2 L1342.5 576.2 L1343.0 576.2 L1343.5 576.1 L1344.0 576.1 L1344.5 576.1 L1345.0 576.1 L1345.5 576.0 L1346.0 576.0 L1346.5 576.0 L1347.0 576.0 L1347.5 575.9 L1348.0 575.9 L1348.5 575.9 L1349.0 575.9 L1349.5 575.8 L1350.0 575.8 L1350.5 575.8 L1351.0 575.8 L1351.5 575.7 L1352.0 575.7 L1352.5 575.7 L1353.0 575.7 L1353.5 575.6 L1354.0 575.6 L1354.5 575.6 L1355.0 575.6 L1355.5 575.5 L1356.0 575.5 L1356.5 575.5 L1357.0 575.5 L1357.5 575.4 L1358.0 575.4 L1358.5 575.4 L1359.0 575.4 L1359.5 575.3 L1360.0 575.3 L1360.5 575.3 L1361.0 575.3 L1361.5 575.3 L1362.0 575.2 L1362.5 575.2 L1363.0 575.2 L1363.5 575.2 L1364.0 575.1 L1364.5 575.1 L1365.0 575.1 L1365.5 575.1 L1366.0 575.0 L1366.5 575.0 L1367.0 575.0 L1367.5 575.0 L1368.0 574.9 L1368.5 574.9 L1369.0 574.9 L1369.5 574.9 L1370.0 574.9 L1370.5 574.8 L1371.0 574.8 L1371.5 574.8 L1372.0 574.8 L1372.5 574.7 L1373.0 574.7 L1373.5 574.7 L1374.0 574.7 L1374.5 574.7 L1375.0 574.6 L1375.5 574.6 L1376.0 574.6 L1376.5 574.6 L1377.0 574.5 L1377.5 574.5 L1378.0 574.5 L1378.5 574.5 L1379.0 574.4 L1379.5 574.4 L1380.0 574.4 L1380.5 574.4 L1381.0 574.4 L1381.5 574.3 L1382.0 574.3 L1382.5 574.3 L1383.0 574.3 L1383.5 574.2 L1384.0 574.2 L1384.5 574.2 L1385.0 574.2 L1385.5 574.1 L1386.0 574.1 L1386.5 574.1 L1387.0 574.1 L1387.5 574.1 L1388.0 574.0 L1388.5 574.0 L1389.0 574.0 L1389.5 574.0 L1390.0 573.9 L1390.5 573.9 L1391.0 573.9 L1391.5 573.9 L1392.0 573.8 L1392.5 573.8 L1393.0 573.8 L1393.5 573.8 L1394.0 573.8 L1394.5 573.7 L1395.0 573.7 L1395.5 573.7 L1396.0 573.7 L1396.5 573.6 L1397.0 573.6 L1397.5 573.6 L1398.0 573.6 L1398.5 573.5 L1399.0 573.5 L1399.5 573.5 L1400.0 573.5 L1400.5 573.4 L1401.0 573.4 L1401.5 573.4 L1402.0 573.4 L1402.5 573.4 L1403.0 573.3 L1403.5 573.3 L1404.0 573.3 L1404.5 573.3 L1405.0 573.2 L1405.5 573.2 L1406.0 573.2 L1406.5 573.2 L1407.0 573.1 L1407.5 573.1 L1408.0 573.1 L1408.5 573.1 L1409.0 573.0 L1409.5 573.0 L1410.0 573.0 L1410.5 573.0 L1411.0 572.9 L1411.5 572.9 L1412.0 572.9 L1412.5 572.9 L1413.0 572.8 L1413.5 572.8 L1414.0 572.8 L1414.5 572.7 L1415.0 572.7 L1415.5 572.7 L1416.0 572.7 L1416.5 572.6 L1417.0 572.6 L1417.5 572.6 L1418.0 572.6 L1418.5 572.5 L1419.0 572.5 L1419.5 572.5 L1420.0 572.5 L1420.5 572.4 L1421.0 572.4 L1421.5 572.4 L1422.0 572.3 L1422.5 572.3 L1423.0 572.3 L1423.5 572.3 L1424.0 572.2 L1424.5 572.2 L1425.0 572.2 L1425.5 572.2 L1426.0 572.1 L1426.5 572.1 L1427.0 572.1 L1427.5 572.0 L1428.0 572.0 L1428.5 572.0 L1429.0 572.0 L1429.5 571.9 L1430.0 571.9 L1430.5 571.9 L1431.0 571.8 L1431.5 571.8 L1432.0 571.8 L1432.5 571.7 L1433.0 571.7 L1433.5 571.7 L1434.0 571.7 L1434.5 571.6 L1435.0 571.6 L1435.5 571.6 L1436.0 571.5 L1436.5 571.5 L1437.0 571.5 L1437.5 571.4 L1438.0 571.4 L1438.5 571.4 L1439.0 571.3 L1439.5 571.3 L1440.0 571.3 L1440.5 571.2 L1441.0 571.2 L1441.5 571.2 L1442.0 571.1 L1442.5 571.1 L1443.0 571.1 L1443.5 571.0 L1444.0 571.0 L1444.5 571.0 L1445.0 570.9 L1445.5 570.9 L1446.0 570.9 L1446.5 570.8 L1447.0 570.8 L1447.5 570.8 L1448.0 570.7 L1448.5 570.7 L1449.0 570.7 L1449.5 570.6 L1450.0 570.6 L1450.5 570.6 L1451.0 570.5 L1451.5 570.5 L1452.0 570.5 L1452.5 570.4 L1453.0 570.4 L1453.5 570.3 L1454.0 570.3 L1454.5 570.3 L1455.0 570.2 L1455.5 570.2 L1456.0 570.2 L1456.5 570.1 L1457.0 570.1 L1457.5 570.0 L1458.0 570.0 L1458.5 570.0 L1459.0 569.9 L1459.5 569.9 L1460.0 569.8 L1460.5 569.8 L1461.0 569.8 L1461.5 569.7 L1462.0 569.7 L1462.5 569.7 L1463.0 569.6 L1463.5 569.6 L1464.0 569.5 L1464.5 569.5 L1465.0 569.4 L1465.5 569.4 L1466.0 569.4 L1466.5 569.3 L1467.0 569.3 L1467.5 569.2 L1468.0 569.2 L1468.5 569.2 L1469.0 569.1 L1469.5 569.1 L1470.0 569.0 L1470.5 569.0 L1471.0 568.9 L1471.5 568.9 L1472.0 568.8 L1472.5 568.8 L1473.0 568.8 L1473.5 568.7 L1474.0 568.7 L1474.5 568.6 L1475.0 568.6 L1475.5 568.5 L1476.0 568.5 L1476.5 568.4 L1477.0 568.4 L1477.5 568.3 L1478.0 568.3 L1478.5 568.2 L1479.0 568.2 L1479.5 568.1 L1480.0 568.1 L1480.5 568.1 L1481.0 568.0 L1481.5 567.9 L1482.0 567.9 L1482.5 567.8 L1483.0 567.8 L1483.5 567.7 L1484.0 567.7 L1484.5 567.6 L1485.0 567.5 L1485.5 567.5 L1486.0 567.4 L1486.5 567.3 L1487.0 567.3 L1487.5 567.2 L1488.0 567.1 L1488.5 567.1 L1489.0 567.0 L1489.5 566.9 L1490.0 566.8 L1490.5 566.7 L1491.0 566.7 L1491.5 566.6 L1492.0 566.5 L1492.5 566.4 L1493.0 566.3 L1493.5 566.3 L1494.0 566.2 L1494.5 566.1 L1495.0 566.0 L1495.5 565.9 L1496.0 565.8 L1496.5 565.7 L1497.0 565.6 L1497.5 565.6 L1498.0 565.5 L1498.5 565.4 L1499.0 565.3 L1499.5 565.2 L1500.0 565.1 L1500.5 565.0 L1501.0 564.9 L1501.5 564.8 L1502.0 564.7 L1502.5 564.6 L1503.0 564.5 L1503.5 564.4 L1504.0 564.3 L1504.5 564.2 L1505.0 564.1 L1505.5 564.0 L1506.0 563.9 L1506.5 563.8 L1507.0 563.7 L1507.5 563.6 L1508.0 563.5 L1508.5 563.4 L1509.0 563.3 L1509.5 563.2 L1510.0 563.1 L1510.5 563.0 L1511.0 562.9 L1511.5 562.7 L1512.0 562.6 L1512.5 562.5 L1513.0 562.4 L1513.5 562.3 L1514.0 562.2 L1514.5 562.0 L1515.0 561.9 L1515.5 561.8 L1516.0 561.7 L1516.5 561.5 L1517.0 561.4 L1517.5 561.3 L1518.0 561.2 L1518.5 561.0 L1519.0 560.9 L1519.5 560.8 L1520.0 560.6 L1520.5 560.5 L1521.0 560.3 L1521.5 560.2 L1522.0 560.1 L1522.5 559.9 L1523.0 559.8 L1523.5 559.6 L1524.0 559.5 L1524.5 559.4 L1525.0 559.2 L1525.5 559.1 L1526.0 558.9 L1526.5 558.8 L1527.0 558.6 L1527.5 558.5 L1528.0 558.3 L1528.5 558.2 L1529.0 558.1 L1529.5 557.9 L1530.0 557.8 L1530.5 557.6 L1531.0 557.5 L1531.5 557.3 L1532.0 557.2 L1532.5 557.1 L1533.0 556.9 L1533.5 556.8 L1534.0 556.6 L1534.5 556.5 L1535.0 556.3 L1535.5 556.2 L1536.0 556.1 L1536.5 555.9 L1537.0 555.8 L1537.5 555.7 L1538.0 555.6 L1538.5 555.5 L1539.0 555.3 L1539.5 555.2 L1540.0 555.1 L1540.5 555.0 L1541.0 554.9 L1541.5 554.7 L1542.0 554.6 L1542.5 554.5 L1543.0 554.3 L1543.5 554.2 L1544.0 554.1 L1544.5 553.9 L1545.0 553.7 L1545.5 553.6 L1546.0 553.4 L1546.5 553.2 L1547.0 553.0 L1547.5 552.8 L1548.0 552.6 L1548.5 552.4 L1549.0 552.1 L1549.5 551.8 L1550.0 551.4 L1550.5 550.9 L1551.0 550.4 L1551.5 549.9 L1552.0 549.3 L1552.5 548.8 L1553.0 548.2 L1553.5 547.6 L1554.0 547.0 L1554.5 546.4 L1555.0 545.9 L1555.5 545.4 L1556.0 544.9 L1556.5 544.5 L1557.0 544.1 L1557.5 543.9 L1558.0 543.7 L1558.5 543.6 L1559.0 543.5 L1559.5 543.4 L1560.0 543.3 L1560.5 543.3 L1561.0 543.3 L1561.5 543.2 L1562.0 543.2 L1562.5 543.1 L1563.0 543.1 L1563.5 543.1 L1564.0 543.0 L1564.5 543.0 L1565.0 542.9 L1565.5 542.8 L1566.0 542.7 L1566.5 542.6 L1567.0 542.3 L1567.5 541.9 L1568.0 541.4 L1568.5 540.7 L1569.0 540.0 L1569.5 539.2 L1570.0 538.3 L1570.5 537.4 L1571.0 536.4 L1571.5 535.4 L1572.0 534.3 L1572.5 533.3 L1573.0 532.2 L1573.5 531.1 L1574.0 530.0 L1574.5 529.0 L1575.0 528.0 L1575.5 527.0 L1576.0 526.0 L1576.5 524.9 L1577.0 523.9 L1577.5 522.7 L1578.0 521.6 L1578.5 520.4 L1579.0 519.1 L1579.5 517.8 L1580.0 516.4 L1580.5 515.0 L1581.0 513.5 L1581.5 512.0 L1582.0 510.4 L1582.5 508.7 L1583.0 506.8 L1583.5 504.7 L1584.0 502.5 L1584.5 500.0 L1585.0 497.0 L1585.5 493.2 L1586.0 489.0 L1586.5 484.5 L1587.0 480.0 L1587.5 475.2 L1588.0 469.9 L1588.5 464.6 L1589.0 459.5 L1589.5 455.0 L1590.0 451.1 L1590.5 447.5 L1591.0 444.2 L1591.5 441.0 L1592.0 438.0 L1592.5 435.5 L1593.0 433.5 L1593.5 431.4 L1594.0 428.8 L1594.5 425.0 L1595.0 415.7 L1595.5 407.2 L1596.0 400.6 L1596.5 397.6 L1597.0 401.5 L1597.5 408.7 L1598.0 415.0 L1598.5 421.5 L1599.0 427.0 L1599.5 431.3 L1600.0 435.7 L1600.5 441.3 L1601.0 449.2 L1601.5 459.0 L1602.0 469.6 L1602.5 480.5 L1603.0 492.8 L1603.5 505.8 L1604.0 518.3 L1604.5 529.3 L1605.0 540.7 L1605.5 551.1 L1606.0 558.6 L1606.5 562.1 L1607.0 564.8 L1607.5 567.1 L1608.0 568.9 L1608.5 570.2 L1609.0 571.0 L1609.5 571.3 L1610.0 571.5 L1610.5 571.7 L1611.0 571.9 L1611.5 572.1 L1612.0 572.3 L1612.5 572.4 L1613.0 572.5 L1613.5 572.6 L1614.0 572.7 L1614.5 572.8 L1615.0 572.9 L1615.5 572.9 L1616.0 573.0 L1616.5 573.0 L1617.0 573.0 L1617.5 573.0 L1618.0 572.9 L1618.5 572.7 L1619.0 572.5 L1619.5 572.2 L1620.0 572.0 L1620.5 571.6 L1621.0 571.3 L1621.5 570.9 L1622.0 570.5 L1622.5 570.0 L1623.0 569.6 L1623.5 569.2 L1624.0 568.8 L1624.5 568.3 L1625.0 567.9 L1625.5 567.5 L1626.0 567.0 L1626.5 566.4 L1627.0 565.8 L1627.5 565.2 L1628.0 564.6 L1628.5 563.9 L1629.0 563.2 L1629.5 562.5 L1630.0 561.8 L1630.5 561.0 L1631.0 560.3 L1631.5 559.6 L1632.0 558.9 L1632.5 558.3 L1633.0 557.6 L1633.5 557.0 L1634.0 556.5 L1634.5 556.0 L1635.0 555.5 L1635.5 555.1 L1636.0 554.7 L1636.5 554.4 L1637.0 554.2 L1637.5 554.0 L1638.0 553.8 L1638.5 553.5 L1639.0 553.3 L1639.5 553.1 L1640.0 552.9 L1640.5 552.7 L1641.0 552.5 L1641.5 552.4 L1642.0 552.2 L1642.5 552.1 L1643.0 551.9 L1643.5 551.8 L1644.0 551.7 L1644.5 551.6 L1645.0 551.6 L1645.5 551.5 L1646.0 551.5 L1646.5 551.5 L1647.0 551.5 L1647.5 551.6 L1648.0 551.6 L1648.5 551.7 L1649.0 551.8 L1649.5 551.9 L1650.0 552.0 L1650.5 552.2 L1651.0 552.3 L1651.5 552.5 L1652.0 552.6 L1652.5 552.8 L1653.0 553.0 L1653.5 553.2 L1654.0 553.4 L1654.5 553.6 L1655.0 553.8 L1655.5 554.0 L1656.0 554.2 L1656.5 554.4 L1657.0 554.6 L1657.5 554.7 L1658.0 554.9 L1658.5 555.1 L1659.0 555.3 L1659.5 555.4 L1660.0 555.6 L1660.5 555.7 L1661.0 555.8 L1661.5 555.9 L1662.0 556.0 L1662.5 556.1 L1663.0 556.2 L1663.5 556.2 L1664.0 556.3 L1664.5 556.4 L1665.0 556.5 L1665.5 556.6 L1666.0 556.6 L1666.5 556.7 L1667.0 556.8 L1667.5 556.9 L1668.0 556.9 L1668.5 557.0 L1669.0 557.1 L1669.5 557.1 L1670.0 557.2 L1670.5 557.3 L1671.0 557.3 L1671.5 557.4 L1672.0 557.4 L1672.5 557.5 L1673.0 557.5 L1673.5 557.6 L1674.0 557.6 L1674.5 557.7 L1675.0 557.7 L1675.5 557.8 L1676.0 557.8 L1676.5 557.8 L1677.0 557.8 L1677.5 557.9 L1678.0 557.9 L1678.5 557.9 L1679.0 557.9 L1679.5 557.9 L1680.0 557.9 L1680.5 557.9 L1681.0 557.9 L1681.5 557.8 L1682.0 557.8 L1682.5 557.7 L1683.0 557.7 L1683.5 557.6 L1684.0 557.6 L1684.5 557.5 L1685.0 557.4 L1685.5 557.3 L1686.0 557.2 L1686.5 557.1 L1687.0 557.0 L1687.5 556.9 L1688.0 556.8 L1688.5 556.6 L1689.0 556.5 L1689.5 556.4 L1690.0 556.2 L1690.5 556.1 L1691.0 555.9 L1691.5 555.8 L1692.0 555.7 L1692.5 555.5 L1693.0 555.3 L1693.5 555.2 L1694.0 555.0 L1694.5 554.9 L1695.0 554.7 L1695.5 554.6 L1696.0 554.4 L1696.5 554.2 L1697.0 554.1 L1697.5 553.9 L1698.0 553.8 L1698.5 553.6 L1699.0 553.5 L1699.5 553.3 L1700.0 553.2 L1700.5 553.0 L1701.0 552.8 L1701.5 552.7 L1702.0 552.5 L1702.5 552.3 L1703.0 552.2 L1703.5 552.0 L1704.0 551.8 L1704.5 551.6 L1705.0 551.4 L1705.5 551.2 L1706.0 551.1 L1706.5 550.9 L1707.0 550.7 L1707.5 550.5 L1708.0 550.2 L1708.5 550.0 L1709.0 549.8 L1709.5 549.6 L1710.0 549.4 L1710.5 549.1 L1711.0 548.9 L1711.5 548.7 L1712.0 548.4 L1712.5 548.2 L1713.0 547.9 L1713.5 547.7 L1714.0 547.4 L1714.5 547.1 L1715.0 546.9 L1715.5 546.6 L1716.0 546.3 L1716.5 546.0 L1717.0 545.7 L1717.5 545.4 L1718.0 545.1 L1718.5 544.8 L1719.0 544.5 L1719.5 544.1 L1720.0 543.8 L1720.5 543.5 L1721.0 543.1 L1721.5 542.8 L1722.0 542.4 L1722.5 542.0 L1723.0 541.6 L1723.5 541.2 L1724.0 540.8 L1724.5 540.3 L1725.0 539.9 L1725.5 539.4 L1726.0 538.9 L1726.5 538.4 L1727.0 537.9 L1727.5 537.3 L1728.0 536.8 L1728.5 536.2 L1729.0 535.6 L1729.5 535.0 L1730.0 534.3 L1730.5 533.7 L1731.0 533.0 L1731.5 532.3 L1732.0 531.5 L1732.5 530.7 L1733.0 529.9 L1733.5 529.0 L1734.0 528.1 L1734.5 527.0 L1735.0 525.9 L1735.5 524.7 L1736.0 523.3 L1736.5 521.8 L1737.0 520.2 L1737.5 518.4 L1738.0 516.5 L1738.5 514.3 L1739.0 510.7 L1739.5 506.2 L1740.0 501.2 L1740.5 496.7 L1741.0 493.1 L1741.5 491.2 L1742.0 489.6 L1742.5 488.2 L1743.0 486.9 L1743.5 485.8 L1744.0 484.9 L1744.5 484.3 L1745.0 484.0 L1745.5 484.2 L1746.0 485.1 L1746.5 486.7 L1747.0 488.9 L1747.5 491.5 L1748.0 494.3 L1748.5 497.3 L1749.0 500.3 L1749.5 503.0 L1750.0 505.5 L1750.5 508.0 L1751.0 510.9 L1751.5 513.8 L1752.0 516.4 L1752.5 518.3 L1753.0 519.2 L1753.5 519.5 L1754.0 519.7 L1754.5 519.8 L1755.0 519.9 L1755.5 520.0 L1756.0 520.1 L1756.5 520.2 L1757.0 520.2 L1757.5 520.3 L1758.0 520.4 L1758.5 520.5 L1759.0 520.7 L1759.5 520.9 L1760.0 521.4 L1760.5 523.1 L1761.0 525.8 L1761.5 529.0 L1762.0 532.0 L1762.5 534.1 L1763.0 535.0 L1763.5 535.6 L1764.0 536.0 L1764.5 536.4 L1765.0 536.7 L1765.5 536.8 L1766.0 536.8 L1766.5 536.5 L1767.0 536.1 L1767.5 535.4 L1768.0 534.6 L1768.5 533.6 L1769.0 532.5 L1769.5 531.3 L1770.0 529.9 L1770.5 528.5 L1771.0 526.9 L1771.5 525.3 L1772.0 523.2 L1772.5 519.9 L1773.0 515.8 L1773.5 511.1 L1774.0 506.4 L1774.5 502.0 L1775.0 498.3 L1775.5 495.7 L1776.0 493.7 L1776.5 491.8 L1777.0 490.0 L1777.5 488.3 L1778.0 486.7 L1778.5 485.3 L1779.0 484.1 L1779.5 483.1 L1780.0 482.4 L1780.5 482.1 L1781.0 482.1 L1781.5 482.8 L1782.0 484.2 L1782.5 486.1 L1783.0 488.5 L1783.5 491.2 L1784.0 494.1 L1784.5 497.1 L1785.0 499.9 L1785.5 502.8 L1786.0 506.6 L1786.5 511.1 L1787.0 515.4 L1787.5 518.9 L1788.0 520.9 L1788.5 521.1 L1789.0 521.1 L1789.5 521.1 L1790.0 521.1 L1790.5 521.1 L1791.0 521.1 L1791.5 521.1 L1792.0 521.1 L1792.5 521.1 L1793.0 521.1 L1793.5 521.0 L1794.0 520.5 L1794.5 519.6 L1795.0 518.5 L1795.5 517.2 L1796.0 515.7 L1796.5 514.0 L1797.0 512.3 L1797.5 510.5 L1798.0 508.8 L1798.5 507.1 L1799.0 505.5 L1799.5 503.8 L1800.0 501.9 L1800.5 499.8 L1801.0 497.5 L1801.5 495.2 L1802.0 493.0 L1802.5 490.9 L1803.0 489.0 L1803.5 487.4 L1804.0 486.2 L1804.5 485.5 L1805.0 485.3 L1805.5 486.1 L1806.0 487.7 L1806.5 490.1 L1807.0 493.1 L1807.5 496.4 L1808.0 500.0 L1808.5 503.6 L1809.0 507.1 L1809.5 510.3 L1810.0 513.2 L1810.5 516.7 L1811.0 520.3 L1811.5 523.7 L1812.0 526.4 L1812.5 527.9 L1813.0 527.9 L1813.5 527.1 L1814.0 525.9 L1814.5 524.2 L1815.0 522.2 L1815.5 520.0 L1816.0 517.7 L1816.5 515.5 L1817.0 513.5 L1817.5 511.7 L1818.0 510.2 L1818.5 508.5 L1819.0 506.8 L1819.5 505.1 L1820.0 503.3 L1820.5 501.5 L1821.0 499.8 L1821.5 498.2 L1822.0 496.6 L1822.5 495.2 L1823.0 493.9 L1823.5 492.8 L1824.0 491.9 L1824.5 491.3 L1825.0 490.9 L1825.5 490.8 L1826.0 491.1 L1826.5 491.8 L1827.0 492.8 L1827.5 494.2 L1828.0 495.7 L1828.5 497.5 L1829.0 499.3 L1829.5 501.3 L1830.0 503.3 L1830.5 505.3 L1831.0 507.2 L1831.5 508.9 L1832.0 510.5 L1832.5 512.0 L1833.0 513.4 L1833.5 515.0 L1834.0 516.6 L1834.5 518.3 L1835.0 519.9 L1835.5 521.5 L1836.0 523.0 L1836.5 524.4 L1837.0 525.6 L1837.5 526.5 L1838.0 527.3 L1838.5 527.7 L1839.0 527.8 L1839.5 527.7 L1840.0 527.5 L1840.5 527.2 L1841.0 526.9 L1841.5 526.4 L1842.0 525.9 L1842.5 525.3 L1843.0 524.7 L1843.5 524.0 L1844.0 523.3 L1844.5 522.6 L1845.0 521.8 L1845.5 521.1 L1846.0 520.3 L1846.5 519.6 L1847.0 518.9 L1847.5 518.2 L1848.0 517.6 L1848.5 517.0 L1849.0 516.5 L1849.5 515.9 L1850.0 515.4 L1850.5 514.9 L1851.0 514.4 L1851.5 514.0 L1852.0 513.5 L1852.5 513.0 L1853.0 512.5 L1853.5 512.0 L1854.0 511.5 L1854.5 511.0 L1855.0 510.5 L1855.5 509.9 L1856.0 509.3 L1856.5 508.7 L1857.0 508.1 L1857.5 507.4 L1858.0 506.7 L1858.5 505.9 L1859.0 505.1 L1859.5 504.2 L1860.0 503.2 L1860.5 502.1 L1861.0 501.0 L1861.5 499.8 L1862.0 498.5 L1862.5 497.2 L1863.0 495.9 L1863.5 494.5 L1864.0 493.1 L1864.5 491.7 L1865.0 490.3 L1865.5 488.9 L1866.0 487.5 L1866.5 486.0 L1867.0 484.6 L1867.5 483.2 L1868.0 481.9 L1868.5 480.5 L1869.0 479.2 L1869.5 477.8 L1870.0 476.5 L1870.5 475.1 L1871.0 473.7 L1871.5 472.2 L1872.0 470.7 L1872.5 469.1 L1873.0 467.4 L1873.5 465.7 L1874.0 463.8 L1874.5 461.9 L1875.0 459.8 L1875.5 457.4 L1876.0 454.7 L1876.5 451.9 L1877.0 449.0 L1877.5 446.0 L1878.0 443.1 L1878.5 440.3 L1879.0 437.6 L1879.5 435.2 L1880.0 432.9 L1880.5 430.6 L1881.0 428.3 L1881.5 425.9 L1882.0 423.2 L1882.5 420.2 L1883.0 416.9 L1883.5 412.9 L1884.0 408.0 L1884.5 402.7 L1885.0 396.9 L1885.5 390.8 L1886.0 383.8 L1886.5 377.3 L1887.0 373.8 L1887.5 378.9 L1888.0 384.8 L1888.5 391.8 L1889.0 398.8 L1889.5 405.9 L1890.0 413.5 L1890.5 422.8 L1891.0 433.8 L1891.5 442.1 L1892.0 448.7 L1892.5 454.2 L1893.0 458.0 L1893.5 460.7 L1894.0 463.1 L1894.5 464.9 L1895.0 465.8 L1895.5 465.8 L1896.0 465.4 L1896.5 464.7 L1897.0 463.8 L1897.5 462.9 L1898.0 461.9 L1898.5 461.0 L1899.0 460.2 L1899.5 459.4 L1900.0 458.7 L1900.5 457.9 L1901.0 457.1 L1901.5 456.3 L1902.0 455.4 L1902.5 454.5 L1903.0 453.5 L1903.5 452.4 L1904.0 451.3 L1904.5 450.0 L1905.0 448.6 L1905.5 446.9 L1906.0 445.0 L1906.5 443.0 L1907.0 440.8 L1907.5 438.6 L1908.0 436.2 L1908.5 433.8 L1909.0 431.4 L1909.5 429.0 L1910.0 426.5 L1910.5 424.0 L1911.0 421.3 L1911.5 418.5 L1912.0 415.7 L1912.5 412.9 L1913.0 410.1 L1913.5 407.3 L1914.0 404.6 L1914.5 402.0 L1915.0 399.4 L1915.5 396.9 L1916.0 394.3 L1916.5 391.7 L1917.0 389.2 L1917.5 386.6 L1918.0 383.9 L1918.5 381.2 L1919.0 378.2 L1919.5 375.1 L1920.0 372.0 L1920.5 369.0 L1921.0 366.3 L1921.5 363.9 L1922.0 362.0 L1922.5 360.5 L1923.0 359.3 L1923.5 358.1 L1924.0 357.1 L1924.5 356.1 L1925.0 355.0 L1925.5 353.8 L1926.0 352.7 L1926.5 351.7 L1927.0 350.7 L1927.5 349.7 L1928.0 348.6 L1928.5 347.4 L1929.0 346.0 L1929.5 344.4 L1930.0 342.6 L1930.5 340.3 L1931.0 336.4 L1931.5 331.2 L1932.0 325.5 L1932.5 319.8 L1933.0 314.9 L1933.5 310.2 L1934.0 305.6 L1934.5 301.0 L1935.0 296.5 L1935.5 291.9 L1936.0 287.4 L1936.5 282.8 L1937.0 278.1 L1937.5 273.4 L1938.0 268.7 L1938.5 263.9 L1939.0 259.2 L1939.5 254.6 L1940.0 250.0 L1940.5 245.5 L1941.0 240.9 L1941.5 236.3 L1942.0 231.8 L1942.5 227.3 L1943.0 223.0 L1943.5 218.8 L1944.0 214.8 L1944.5 211.0 L1945.0 207.4 L1945.5 203.9 L1946.0 200.5 L1946.5 197.2 L1947.0 193.9 L1947.5 190.8 L1948.0 187.9 L1948.5 185.1 L1949.0 182.5 L1949.5 180.0 L1950.0 177.7 L1950.5 175.4 L1951.0 173.2 L1951.5 171.1 L1952.0 169.1 L1952.5 167.2 L1953.0 165.4 L1953.5 163.7 L1954.0 162.2 L1954.5 160.7 L1955.0 159.4 L1955.5 158.1 L1956.0 156.9 L1956.5 155.6 L1957.0 154.5 L1957.5 153.4 L1958.0 152.4 L1958.5 151.5 L1959.0 150.7 L1959.5 150.0 L1960.0 149.5 L1960.5 149.0 L1961.0 148.6 L1961.5 148.1 L1962.0 147.8 L1962.5 147.4 L1963.0 147.1 L1963.5 146.9 L1964.0 146.8 L1964.5 146.8 L1965.0 146.9 L1965.5 147.0 L1966.0 147.3 L1966.5 147.6 L1967.0 148.0 L1967.5 148.4 L1968.0 148.9 L1968.5 149.5 L1969.0 150.4 L1969.5 151.9 L1970.0 153.9 L1970.5 156.3 L1971.0 159.0 L1971.5 162.4 L1972.0 167.3 L1972.5 173.4 L1973.0 179.9 L1973.5 186.2 L1974.0 192.7 L1974.5 199.4 L1975.0 206.2 L1975.5 213.0 L1976.0 220.0 L1976.5 227.2 L1977.0 234.3 L1977.5 241.2 L1978.0 247.6 L1978.5 253.4 L1979.0 258.8 L1979.5 263.8 L1980.0 268.7 L1980.5 273.7 L1981.0 278.9 L1981.5 284.5 L1982.0 290.3 L1982.5 296.2 L1983.0 302.3 L1983.5 308.3 L1984.0 314.3 L1984.5 320.1 L1985.0 325.8 L1985.5 331.1 L1986.0 336.3 L1986.5 341.4 L1987.0 346.5 L1987.5 351.4 L1988.0 356.2 L1988.5 361.0 L1989.0 365.6 L1989.5 370.2 L1990.0 374.6 L1990.5 379.0 L1991.0 383.3 L1991.5 387.5 L1992.0 391.7 L1992.5 395.9 L1993.0 399.9 L1993.5 403.7 L1994.0 407.4 L1994.5 411.0 L1995.0 414.3 L1995.5 417.4 L1996.0 420.6 L1996.5 423.8 L1997.0 426.7 L1997.5 429.3 L1998.0 431.4 L1998.5 433.0 L1999.0 434.1 L1999.5 435.1 L2000.0 435.9 L2000.5 436.6 L2001.0 437.3 L2001.5 437.9 L2002.0 438.7 L2002.5 439.6 L2003.0 440.5 L2003.5 441.4 L2004.0 442.4 L2004.5 443.4 L2005.0 444.6 L2005.5 446.0 L2006.0 447.7 L2006.5 450.0 L2007.0 452.5 L2007.5 455.2 L2008.0 458.0 L2008.5 460.7 L2009.0 463.1 L2009.5 465.3 L2010.0 467.3 L2010.5 469.3 L2011.0 471.2 L2011.5 473.0 L2012.0 474.8 L2012.5 476.6 L2013.0 478.4 L2013.5 480.2 L2014.0 482.0 L2014.5 483.8 L2015.0 485.5 L2015.5 487.2 L2016.0 488.9 L2016.5 490.5 L2017.0 492.2 L2017.5 493.9 L2018.0 495.6 L2018.5 497.4 L2019.0 499.2 L2019.5 501.2 L2020.0 503.2 L2020.5 505.3 L2021.0 507.4 L2021.5 509.6 L2022.0 511.7 L2022.5 513.8 L2023.0 515.8 L2023.5 517.9 L2024.0 520.0 L2024.5 522.1 L2025.0 524.1 L2025.5 526.2 L2026.0 528.2 L2026.5 530.2 L2027.0 532.2 L2027.5 534.1 L2028.0 536.0 L2028.5 537.8 L2029.0 539.6 L2029.5 541.4 L2030.0 543.3 L2030.5 545.1 L2031.0 547.0 L2031.5 548.8 L2032.0 550.6 L2032.5 552.3 L2033.0 553.9 L2033.5 555.4 L2034.0 556.9 L2034.5 558.1 L2035.0 559.3 L2035.5 560.3 L2036.0 561.1 L2036.5 561.9 L2037.0 562.7 L2037.5 563.5 L2038.0 564.2 L2038.5 565.0 L2039.0 565.7 L2039.5 566.4 L2040.0 567.0 L2040.5 567.6 L2041.0 568.2 L2041.5 568.7 L2042.0 569.2 L2042.5 569.6 L2043.0 570.0 L2043.5 570.3 L2044.0 570.5 L2044.5 570.6 L2045.0 570.7 L2045.5 570.7 L2046.0 570.4 L2046.5 570.1 L2047.0 569.5 L2047.5 568.9 L2048.0 568.1 L2048.5 567.2 L2049.0 566.4 L2049.5 565.4 L2050.0 564.5 L2050.5 563.6 L2051.0 562.8 L2051.5 562.0 L2052.0 561.3 L2052.5 560.7 L2053.0 560.3 L2053.5 560.1 L2054.0 560.0 L2054.5 560.3 L2055.0 560.9 L2055.5 561.8 L2056.0 563.0 L2056.5 564.4 L2057.0 565.9 L2057.5 567.6 L2058.0 569.4 L2058.5 571.2 L2059.0 573.0 L2059.5 574.8 L2060.0 576.5 L2060.5 578.0 L2061.0 579.4 L2061.5 580.5 L2062.0 581.5 L2062.5 582.4 L2063.0 583.3 L2063.5 584.3 L2064.0 585.2 L2064.5 586.2 L2065.0 587.0 L2065.5 587.8 L2066.0 588.6 L2066.5 589.3 L2067.0 589.9 L2067.5 590.3 L2068.0 590.7 L2068.5 590.9 L2069.0 591.0 L2069.5 591.0 L2070.0 591.0 L2070.5 591.0 L2071.0 591.0 L2071.5 591.0 L2072.0 591.0 L2072.5 591.0 L2073.0 591.0 L2073.5 591.0 L2074.0 591.0 L2074.5 591.0 L2075.0 591.0 L2075.5 591.0 L2076.0 591.0 L2076.5 591.0 L2077.0 591.1 L2077.5 591.3 L2078.0 591.6 L2078.5 591.9 L2079.0 592.3 L2079.5 592.7 L2080.0 593.2 L2080.5 593.7 L2081.0 594.3 L2081.5 594.8 L2082.0 595.4 L2082.5 595.9 L2083.0 596.5 L2083.5 597.0 L2084.0 597.5 L2084.5 597.9 L2085.0 598.3 L2085.5 598.6 L2086.0 598.9 L2086.5 599.1 L2087.0 599.2 L2087.5 599.2 L2088.0 599.2 L2088.5 599.2 L2089.0 599.2 L2089.5 599.2 L2090.0 599.2 L2090.5 599.2 L2091.0 599.2 L2091.5 599.2 L2092.0 599.2 L2092.5 599.2 L2093.0 599.2 L2093.5 599.2 L2094.0 599.2 L2094.5 599.2 L2095.0 599.2 L2095.5 599.2 L2096.0 599.2 L2096.5 599.1 L2097.0 598.8 L2097.5 598.4 L2098.0 597.7 L2098.5 597.0 L2099.0 596.1 L2099.5 595.2 L2100.0 594.3 L2100.5 593.4 L2101.0 592.6 L2101.5 591.8 L2102.0 591.2 L2102.5 590.6 L2103.0 589.9 L2103.5 589.3 L2104.0 588.6 L2104.5 588.0 L2105.0 587.5 L2105.5 587.1 L2106.0 586.9 L2106.5 586.8 L2107.0 586.9 L2107.5 587.2 L2108.0 587.6 L2108.5 588.1 L2109.0 588.6 L2109.5 589.2 L2110.0 589.7 L2110.5 590.2 L2111.0 590.7 L2111.5 591.0 L2112.0 591.2 L2112.5 591.2 L2113.0 591.1 L2113.5 591.0 L2114.0 590.7 L2114.5 590.4 L2115.0 590.0 L2115.5 589.5 L2116.0 588.9 L2116.5 588.3 L2117.0 587.5 L2117.5 586.6 L2118.0 583.8 L2118.5 579.0 L2119.0 572.9 L2119.5 566.2 L2120.0 557.9 L2120.5 547.1 L2121.0 537.0 L2121.5 529.1 L2122.0 521.8 L2122.5 516.9 L2123.0 514.5 L2123.5 512.6 L2124.0 511.0 L2124.5 509.8 L2125.0 509.1 L2125.5 508.8 L2126.0 509.2 L2126.5 510.3 L2127.0 512.0 L2127.5 514.0 L2128.0 516.4 L2128.5 518.8 L2129.0 521.3 L2129.5 523.6 L2130.0 526.3 L2130.5 529.2 L2131.0 532.4 L2131.5 535.7 L2132.0 539.1 L2132.5 542.8 L2133.0 546.8 L2133.5 551.0 L2134.0 555.1 L2134.5 558.9 L2135.0 563.0 L2135.5 567.0 L2136.0 570.3 L2136.5 572.1 L2137.0 572.9 L2137.5 573.6 L2138.0 574.0 L2138.5 574.3 L2139.0 574.3 L2139.5 574.1 L2140.0 573.8 L2140.5 573.5 L2141.0 573.1 L2141.5 572.6 L2142.0 572.1 L2142.5 571.7 L2143.0 571.3 L2143.5 570.9 L2144.0 570.7 L2144.5 570.6 L2145.0 570.6 L2145.5 570.8 L2146.0 571.1 L2146.5 571.5 L2147.0 571.9 L2147.5 572.4 L2148.0 572.9 L2148.5 573.4 L2149.0 573.9 L2149.5 574.3 L2150.0 574.6 L2150.5 574.9 L2151.0 575.0 L2151.5 575.0 L2152.0 574.9 L2152.5 574.8 L2153.0 574.6 L2153.5 574.3 L2154.0 574.0 L2154.5 573.7 L2155.0 573.3 L2155.5 572.9 L2156.0 572.4 L2156.5 571.9 L2157.0 570.9 L2157.5 569.4 L2158.0 567.7 L2158.5 565.8 L2159.0 563.9 L2159.5 562.0 L2160.0 560.4 L2160.5 558.9 L2161.0 557.2 L2161.5 555.6 L2162.0 554.0 L2162.5 552.6 L2163.0 551.4 L2163.5 550.4 L2164.0 549.7 L2164.5 549.2 L2165.0 548.7 L2165.5 548.2 L2166.0 547.9 L2166.5 547.5 L2167.0 547.2 L2167.5 546.8 L2168.0 546.5 L2168.5 546.1 L2169.0 545.8 L2169.5 545.6 L2170.0 545.4 L2170.5 545.2 L2171.0 545.0 L2171.5 544.7 L2172.0 544.5 L2172.5 544.1 L2173.0 543.7 L2173.5 543.2 L2174.0 542.5 L2174.5 540.7 L2175.0 537.6 L2175.5 533.6 L2176.0 529.0 L2176.5 523.2 L2177.0 515.0 L2177.5 507.3 L2178.0 501.1 L2178.5 495.0 L2179.0 489.6 L2179.5 485.5 L2180.0 483.3 L2180.5 481.6 L2181.0 480.1 L2181.5 478.9 L2182.0 478.1 L2182.5 477.6 L2183.0 477.7 L2183.5 478.5 L2184.0 479.8 L2184.5 481.7 L2185.0 483.9 L2185.5 486.4 L2186.0 489.2 L2186.5 492.0 L2187.0 496.0 L2187.5 501.2 L2188.0 506.9 L2188.5 512.4 L2189.0 517.4 L2189.5 522.6 L2190.0 527.6 L2190.5 532.6 L2191.0 537.3 L2191.5 542.4 L2192.0 547.5 L2192.5 551.7 L2193.0 554.5 L2193.5 556.3 L2194.0 558.0 L2194.5 559.5 L2195.0 560.9 L2195.5 562.2 L2196.0 563.2 L2196.5 564.1 L2197.0 564.8 L2197.5 565.3 L2198.0 565.5 L2198.5 565.5 L2199.0 565.2 L2199.5 564.7 L2200.0 564.0 L2200.5 563.1 L2201.0 562.0 L2201.5 560.7 L2202.0 559.3 L2202.5 557.7 L2203.0 555.1 L2203.5 550.3 L2204.0 544.4 L2204.5 538.5 L2205.0 533.5 L2205.5 528.2 L2206.0 522.9 L2206.5 518.7 L2207.0 516.3 L2207.5 515.2 L2208.0 514.2 L2208.5 513.5 L2209.0 512.9 L2209.5 512.6 L2210.0 512.6 L2210.5 514.2 L2211.0 517.6 L2211.5 522.1 L2212.0 527.1 L2212.5 533.6 L2213.0 542.5 L2213.5 549.4 L2214.0 552.4 L2214.5 554.8 L2215.0 556.8 L2215.5 558.5 L2216.0 559.9 L2216.5 561.2 L2217.0 562.4 L2217.5 563.6 L2218.0 564.8 L2218.5 566.0 L2219.0 567.2 L2219.5 568.4 L2220.0 569.4 L2220.5 570.5 L2221.0 571.5 L2221.5 572.5 L2222.0 573.4 L2222.5 574.3 L2223.0 575.1 L2223.5 576.0 L2224.0 576.8 L2224.5 577.6 L2225.0 578.4 L2225.5 579.2 L2226.0 579.9 L2226.5 580.6 L2227.0 581.3 L2227.5 581.9 L2228.0 582.6 L2228.5 583.3 L2229.0 583.9 L2229.5 584.6 L2230.0 585.2 L2230.5 585.9 L2231.0 586.5 L2231.5 587.2 L2232.0 588.0 L2232.5 588.7 L2233.0 589.6 L2233.5 590.4 L2234.0 591.3 L2234.5 592.1 L2235.0 593.0 L2235.5 593.8 L2236.0 594.6 L2236.5 595.4 L2237.0 596.0 L2237.5 596.6 L2238.0 597.2 L2238.5 597.6 L2239.0 597.9 L2239.5 598.1 L2240.0 598.2 L2240.5 598.2 L2241.0 598.0 L2241.5 597.8 L2242.0 597.5 L2242.5 597.1 L2243.0 596.7 L2243.5 596.3 L2244.0 595.8 L2244.5 595.2 L2245.0 594.7 L2245.5 594.2 L2246.0 593.6 L2246.5 593.1 L2247.0 592.6 L2247.5 592.2 L2248.0 591.8 L2248.5 591.4 L2249.0 591.1 L2249.5 590.8 L2250.0 590.5 L2250.5 590.2 L2251.0 589.8 L2251.5 589.5 L2252.0 589.2 L2252.5 588.9 L2253.0 588.6 L2253.5 588.3 L2254.0 588.1 L2254.5 587.8 L2255.0 587.6 L2255.5 587.4 L2256.0 587.2 L2256.5 587.1 L2257.0 586.9 L2257.5 586.9 L2258.0 586.8 L2258.5 586.8 L2259.0 586.9 L2259.5 586.9 L2260.0 587.1 L2260.5 587.3 L2261.0 587.5 L2261.5 587.7 L2262.0 588.0 L2262.5 588.2 L2263.0 588.5 L2263.5 588.8 L2264.0 589.1 L2264.5 589.4 L2265.0 589.7 L2265.5 590.0 L2266.0 590.2 L2266.5 590.5 L2267.0 590.7 L2267.5 590.9 L2268.0 591.0 L2268.5 591.1 L2269.0 591.2 L2269.5 591.2 L2270.0 591.0 L2270.5 590.8 L2271.0 590.3 L2271.5 589.8 L2272.0 589.1 L2272.5 588.4 L2273.0 587.5 L2273.5 586.6 L2274.0 585.6 L2274.5 584.5 L2275.0 583.4 L2275.5 582.3 L2276.0 581.1 L2276.5 579.9 L2277.0 578.6 L2277.5 576.8 L2278.0 574.8 L2278.5 572.5 L2279.0 570.2 L2279.5 567.9 L2280.0 565.9 L2280.5 564.1 L2281.0 562.4 L2281.5 560.7 L2282.0 559.1 L2282.5 557.5 L2283.0 556.2 L2283.5 555.2 L2284.0 554.5 L2284.5 554.0 L2285.0 553.6 L2285.5 553.1 L2286.0 552.8 L2286.5 552.4 L2287.0 552.1 L2287.5 551.9 L2288.0 551.7 L2288.5 551.6 L2289.0 551.5 L2289.5 551.5 L2290.0 551.7 L2290.5 552.0 L2291.0 552.4 L2291.5 552.9 L2292.0 553.6 L2292.5 554.3 L2293.0 555.1 L2293.5 556.0 L2294.0 556.9 L2294.5 557.9 L2295.0 558.9 L2295.5 560.2 L2296.0 562.1 L2296.5 564.4 L2297.0 566.9 L2297.5 569.5 L2298.0 572.0 L2298.5 574.2 L2299.0 576.1 L2299.5 578.1 L2300.0 580.0 L2300.5 581.9 L2301.0 583.8 L2301.5 585.5 L2302.0 587.0 L2302.5 588.4 L2303.0 589.5 L2303.5 590.4 L2304.0 591.4 L2304.5 592.2 L2305.0 593.1 L2305.5 593.9 L2306.0 594.6 L2306.5 595.3 L2307.0 595.9 L2307.5 596.3 L2308.0 596.7 L2308.5 596.9 L2309.0 597.0 L2309.5 596.9 L2310.0 596.5 L2310.5 596.0 L2311.0 595.3 L2311.5 594.5 L2312.0 593.5 L2312.5 592.4 L2313.0 591.3 L2313.5 590.1 L2314.0 588.8 L2314.5 587.6 L2315.0 586.3 L2315.5 584.8 L2316.0 583.1 L2316.5 581.2 L2317.0 579.1 L2317.5 576.9 L2318.0 574.7 L2318.5 572.4 L2319.0 570.1 L2319.5 567.8 L2320.0 565.6 L2320.5 563.2 L2321.0 560.8 L2321.5 558.2 L2322.0 555.5 L2322.5 552.6 L2323.0 549.4 L2323.5 545.9 L2324.0 541.8 L2324.5 537.6 L2325.0 533.2 L2325.5 528.9 L2326.0 524.9 L2326.5 520.9 L2327.0 516.7 L2327.5 512.1 L2327.8 509.0" fill="none" stroke="#000000" stroke-width="13.4" stroke-linejoin="round" stroke-linecap="butt" clip-path="url(#plot)"/>
<g fill="#0000ff"><rect x="1585.33" y="366.50" width="6.6" height="31.5" rx="2.2" ry="2.2"/><rect x="1585.44" y="425.50" width="6.6" height="31.5" rx="2.2" ry="2.2"/><rect x="1585.55" y="484.50" width="6.6" height="31.5" rx="2.2" ry="2.2"/><rect x="1585.66" y="543.50" width="6.6" height="31.5" rx="2.2" ry="2.2"/><rect x="1585.77" y="602.50" width="6.6" height="31.5" rx="2.2" ry="2.2"/><rect x="1585.88" y="661.50" width="6.6" height="31.5" rx="2.2" ry="2.2"/><rect x="1585.99" y="720.50" width="6.6" height="31.5" rx="2.2" ry="2.2"/><rect x="1586.10" y="779.50" width="6.6" height="31.5" rx="2.2" ry="2.2"/><rect x="1586.21" y="838.50" width="6.6" height="31.5" rx="2.2" ry="2.2"/><rect x="1586.32" y="897.50" width="6.6" height="31.5" rx="2.2" ry="2.2"/><rect x="1586.43" y="956.50" width="6.6" height="31.5" rx="2.2" ry="2.2"/><rect x="1586.54" y="1015.50" width="6.6" height="31.5" rx="2.2" ry="2.2"/><rect x="1586.66" y="1074.50" width="6.6" height="31.5" rx="2.2" ry="2.2"/><rect x="1586.77" y="1133.50" width="6.6" height="31.5" rx="2.2" ry="2.2"/><rect x="1586.88" y="1192.50" width="6.6" height="31.5" rx="2.2" ry="2.2"/><rect x="1586.99" y="1251.50" width="6.6" height="31.5" rx="2.2" ry="2.2"/><rect x="1587.10" y="1310.50" width="6.6" height="31.5" rx="2.2" ry="2.2"/><rect x="1587.21" y="1369.50" width="6.6" height="31.5" rx="2.2" ry="2.2"/><rect x="1587.32" y="1428.50" width="6.6" height="31.5" rx="2.2" ry="2.2"/><rect x="1587.43" y="1487.50" width="6.6" height="31.5" rx="2.2" ry="2.2"/><rect x="1587.54" y="1546.50" width="6.6" height="31.5" rx="2.2" ry="2.2"/><rect x="1587.65" y="1605.50" width="6.6" height="31.5" rx="2.2" ry="2.2"/><rect x="1587.76" y="1664.50" width="6.6" height="31.5" rx="2.2" ry="2.2"/><rect x="1587.87" y="1723.50" width="6.6" height="31.5" rx="2.2" ry="2.2"/></g>
<g fill="#0000ff"><rect x="1630.13" y="366.50" width="6.6" height="31.5" rx="2.2" ry="2.2"/><rect x="1630.22" y="425.50" width="6.6" height="31.5" rx="2.2" ry="2.2"/><rect x="1630.31" y="484.50" width="6.6" height="31.5" rx="2.2" ry="2.2"/><rect x="1630.41" y="543.50" width="6.6" height="31.5" rx="2.2" ry="2.2"/><rect x="1630.50" y="602.50" width="6.6" height="31.5" rx="2.2" ry="2.2"/><rect x="1630.59" y="661.50" width="6.6" height="31.5" rx="2.2" ry="2.2"/><rect x="1630.69" y="720.50" width="6.6" height="31.5" rx="2.2" ry="2.2"/><rect x="1630.78" y="779.50" width="6.6" height="31.5" rx="2.2" ry="2.2"/><rect x="1630.87" y="838.50" width="6.6" height="31.5" rx="2.2" ry="2.2"/><rect x="1630.97" y="897.50" width="6.6" height="31.5" rx="2.2" ry="2.2"/><rect x="1631.06" y="956.50" width="6.6" height="31.5" rx="2.2" ry="2.2"/><rect x="1631.15" y="1015.50" width="6.6" height="31.5" rx="2.2" ry="2.2"/><rect x="1631.25" y="1074.50" width="6.6" height="31.5" rx="2.2" ry="2.2"/><rect x="1631.34" y="1133.50" width="6.6" height="31.5" rx="2.2" ry="2.2"/><rect x="1631.43" y="1192.50" width="6.6" height="31.5" rx="2.2" ry="2.2"/><rect x="1631.53" y="1251.50" width="6.6" height="31.5" rx="2.2" ry="2.2"/><rect x="1631.62" y="1310.50" width="6.6" height="31.5" rx="2.2" ry="2.2"/><rect x="1631.71" y="1369.50" width="6.6" height="31.5" rx="2.2" ry="2.2"/><rect x="1631.81" y="1428.50" width="6.6" height="31.5" rx="2.2" ry="2.2"/><rect x="1631.90" y="1487.50" width="6.6" height="31.5" rx="2.2" ry="2.2"/><rect x="1631.99" y="1546.50" width="6.6" height="31.5" rx="2.2" ry="2.2"/><rect x="1632.09" y="1605.50" width="6.6" height="31.5" rx="2.2" ry="2.2"/><rect x="1632.18" y="1664.50" width="6.6" height="31.5" rx="2.2" ry="2.2"/><rect x="1632.27" y="1723.50" width="6.6" height="31.5" rx="2.2" ry="2.2"/></g>
<g fill="#0000ff"><rect x="1961.30" y="116.20" width="6.6" height="31.5" rx="2.2" ry="2.2"/><rect x="1961.30" y="175.20" width="6.6" height="31.5" rx="2.2" ry="2.2"/><rect x="1961.30" y="234.20" width="6.6" height="31.5" rx="2.2" ry="2.2"/><rect x="1961.30" y="293.20" width="6.6" height="31.5" rx="2.2" ry="2.2"/><rect x="1961.30" y="352.20" width="6.6" height="31.5" rx="2.2" ry="2.2"/><rect x="1961.30" y="411.20" width="6.6" height="31.5" rx="2.2" ry="2.2"/><rect x="1961.30" y="470.20" width="6.6" height="31.5" rx="2.2" ry="2.2"/><rect x="1961.30" y="529.20" width="6.6" height="31.5" rx="2.2" ry="2.2"/><rect x="1961.30" y="588.20" width="6.6" height="31.5" rx="2.2" ry="2.2"/><rect x="1961.30" y="647.20" width="6.6" height="31.5" rx="2.2" ry="2.2"/><rect x="1961.30" y="706.20" width="6.6" height="31.5" rx="2.2" ry="2.2"/><rect x="1961.30" y="765.20" width="6.6" height="31.5" rx="2.2" ry="2.2"/><rect x="1961.30" y="824.20" width="6.6" height="31.5" rx="2.2" ry="2.2"/><rect x="1961.30" y="883.20" width="6.6" height="31.5" rx="2.2" ry="2.2"/><rect x="1961.30" y="942.20" width="6.6" height="31.5" rx="2.2" ry="2.2"/><rect x="1961.30" y="1001.20" width="6.6" height="31.5" rx="2.2" ry="2.2"/><rect x="1961.30" y="1060.20" width="6.6" height="31.5" rx="2.2" ry="2.2"/><rect x="1961.30" y="1119.20" width="6.6" height="31.5" rx="2.2" ry="2.2"/><rect x="1961.30" y="1178.20" width="6.6" height="31.5" rx="2.2" ry="2.2"/><rect x="1961.30" y="1237.20" width="6.6" height="31.5" rx="2.2" ry="2.2"/><rect x="1961.30" y="1296.20" width="6.6" height="31.5" rx="2.2" ry="2.2"/><rect x="1961.30" y="1355.20" width="6.6" height="31.5" rx="2.2" ry="2.2"/><rect x="1961.30" y="1414.20" width="6.6" height="31.5" rx="2.2" ry="2.2"/><rect x="1961.30" y="1473.20" width="6.6" height="31.5" rx="2.2" ry="2.2"/><rect x="1961.30" y="1532.20" width="6.6" height="31.5" rx="2.2" ry="2.2"/><rect x="1961.30" y="1591.20" width="6.6" height="31.5" rx="2.2" ry="2.2"/></g>
<line x1="909.1" y1="287.2" x2="865.6" y2="372.8" stroke="#ff0000" stroke-width="3"/><polygon points="845.6,412.0 856.2,368.0 874.9,377.5" fill="#ff0000"/>
<line x1="909.1" y1="287.2" x2="897.0" y2="436.4" stroke="#ff0000" stroke-width="3"/><polygon points="893.4,480.3 886.5,435.6 907.4,437.3" fill="#ff0000"/>
<line x1="618.3" y1="1288.3" x2="567.9" y2="1386.5" stroke="#00ff00" stroke-width="3"/><polygon points="547.8,1425.6 558.6,1381.7 577.2,1391.3" fill="#00ff00"/>
<line x1="214.5" y1="1818.8" x2="2331.7" y2="1818.8" stroke="#000" stroke-width="8"/>
<line x1="218.00" y1="1818.8" x2="218.00" y2="1851.8" stroke="#000" stroke-width="7" stroke-linecap="round"/>
<text transform="translate(146.60 1931.25) scale(0.8656 1)" font-size="74.65" fill="#000" text-anchor="start">4000</text>
<line x1="368.73" y1="1818.8" x2="368.73" y2="1835.1" stroke="#000" stroke-width="7" stroke-linecap="round"/>
<line x1="519.46" y1="1818.8" x2="519.46" y2="1851.8" stroke="#000" stroke-width="7" stroke-linecap="round"/>
<text transform="translate(447.57 1931.25) scale(0.8656 1)" font-size="74.65" fill="#000" text-anchor="start">3500</text>
<line x1="670.19" y1="1818.8" x2="670.19" y2="1835.1" stroke="#000" stroke-width="7" stroke-linecap="round"/>
<line x1="820.91" y1="1818.8" x2="820.91" y2="1851.8" stroke="#000" stroke-width="7" stroke-linecap="round"/>
<text transform="translate(749.03 1931.25) scale(0.8656 1)" font-size="74.65" fill="#000" text-anchor="start">3000</text>
<line x1="971.64" y1="1818.8" x2="971.64" y2="1835.1" stroke="#000" stroke-width="7" stroke-linecap="round"/>
<line x1="1122.37" y1="1818.8" x2="1122.37" y2="1851.8" stroke="#000" stroke-width="7" stroke-linecap="round"/>
<text transform="translate(1050.16 1931.25) scale(0.8656 1)" font-size="74.65" fill="#000" text-anchor="start">2500</text>
<line x1="1273.10" y1="1818.8" x2="1273.10" y2="1835.1" stroke="#000" stroke-width="7" stroke-linecap="round"/>
<line x1="1423.83" y1="1818.8" x2="1423.83" y2="1851.8" stroke="#000" stroke-width="7" stroke-linecap="round"/>
<text transform="translate(1351.62 1931.25) scale(0.8656 1)" font-size="74.65" fill="#000" text-anchor="start">2000</text>
<line x1="1574.56" y1="1818.8" x2="1574.56" y2="1835.1" stroke="#000" stroke-width="7" stroke-linecap="round"/>
<line x1="1725.29" y1="1818.8" x2="1725.29" y2="1851.8" stroke="#000" stroke-width="7" stroke-linecap="round"/>
<text transform="translate(1652.27 1931.25) scale(0.8656 1)" font-size="74.65" fill="#000" text-anchor="start">1500</text>
<line x1="1876.01" y1="1818.8" x2="1876.01" y2="1835.1" stroke="#000" stroke-width="7" stroke-linecap="round"/>
<line x1="2026.74" y1="1818.8" x2="2026.74" y2="1851.8" stroke="#000" stroke-width="7" stroke-linecap="round"/>
<text transform="translate(1953.72 1931.25) scale(0.8656 1)" font-size="74.65" fill="#000" text-anchor="start">1000</text>
<line x1="2177.47" y1="1818.8" x2="2177.47" y2="1835.1" stroke="#000" stroke-width="7" stroke-linecap="round"/>
<line x1="2328.20" y1="1818.8" x2="2328.20" y2="1851.8" stroke="#000" stroke-width="7" stroke-linecap="round"/>
<text transform="translate(2274.24 1931.25) scale(0.8656 1)" font-size="74.65" fill="#000" text-anchor="start">500</text>
<text transform="translate(240.19 553.85) scale(0.9372 1)" font-size="85.45" fill="#000" text-anchor="start">(a)</text>
<text transform="translate(228.95 1040.98) scale(0.9469 1)" font-size="85.35" fill="#000" text-anchor="start">(b)</text>
<text transform="translate(228.01 1567.81) scale(0.9614 1)" font-size="84.71" fill="#000" text-anchor="start">(c)</text>
<text transform="translate(814.64 190.28) scale(0.8782 1)" font-size="92.39" fill="#000" text-anchor="start">CH</text>
<text transform="translate(1440.71 350.98) scale(0.8722 1)" font-size="91.55" fill="#000" text-anchor="start">C=O</text>
<text transform="translate(1619.35 345.05) scale(0.8411 1)" font-size="84.51" fill="#000" text-anchor="start">C=C</text>
<text transform="translate(1864.08 85.98) scale(0.8798 1)" font-size="91.55" fill="#000" text-anchor="start">Si-O-Si</text>
<text transform="translate(509.13 1262.80) scale(0.8624 1)" font-size="83.62" fill="#00ff00" text-anchor="start">N-H stretch</text>
<text transform="translate(990.20 2060.82) scale(0.9223 1)" font-size="87.06" fill="#000" text-anchor="start">Wavenumber (cm</text>
<text transform="translate(1619.07 2017.90) scale(0.7397 1)" font-size="54.93" fill="#000" text-anchor="start">-1</text>
<text transform="translate(1663.07 2059.85) scale(0.8597 1)" font-size="85.45" fill="#000" text-anchor="start">)</text>
<text transform="translate(84.09 1303.44) rotate(-90) scale(1.0240 1)" font-size="85.78" fill="#000">Absorbance (a.u.)</text>
</svg>
</body>
</html>
